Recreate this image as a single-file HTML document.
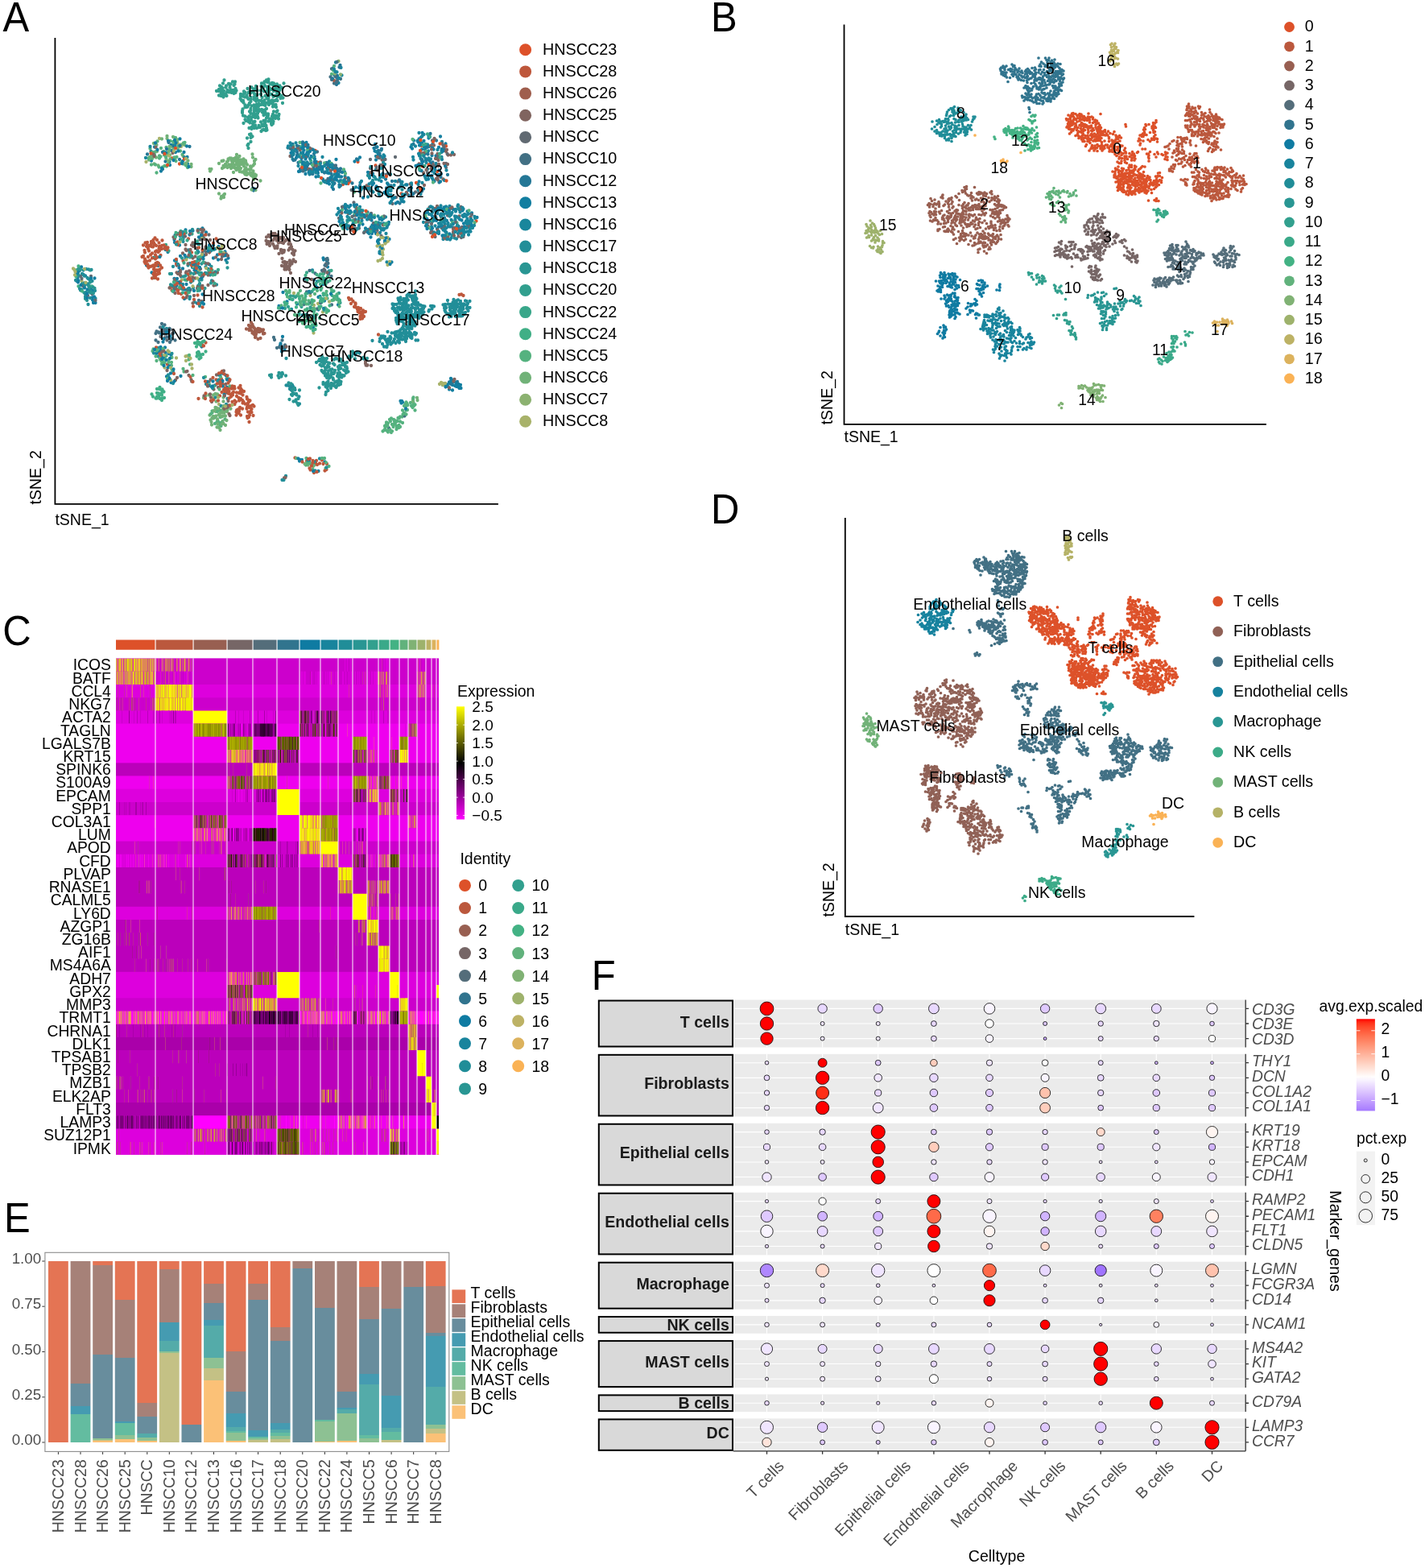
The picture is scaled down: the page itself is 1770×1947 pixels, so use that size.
<!DOCTYPE html>
<html lang="en"><head><meta charset="utf-8"><title>Figure</title>
<style>
html,body{margin:0;padding:0;background:#fff;overflow:hidden}
svg{display:block}
text{font-family:"Liberation Sans", sans-serif}
</style></head><body>
<svg width="1770" height="1947" viewBox="0 0 1770 1947">
<rect width="1770" height="1947" fill="#fff"/>
<g id="pB"><path d="M1048.5 31.5V526.8H1572" fill="none" stroke="#000" stroke-width="1.8" stroke-linecap="square"/><text x="1048.5" y="548.9" font-size="19.5" text-anchor="start" fill="#000">tSNE_1</text><text transform="translate(1033.7 527.3) rotate(-90)" font-size="19.5">tSNE_2</text><path transform="scale(.5)" d="M2649 295h0m1 3h0m0 18h0m2-3h0m1-6h0m1-21h0m1 10h0m0 7h0m0 17h0m1-4h0m1-8h0m0 24h0m1-18h0m0 7h0m1-30h0m0 5h0m2-10h0m0 15h0m0 10h0m0 17h0m1-23h0m0 16h0m1-39h0m0 7h0m1 21h0m1-24h0m1-5h0m0 22h0m0 21h0m1-34h0m0 7h0m1 10h0m0 13h0m2-26h0m1 20h0m1-31h0m0 24h0m0 30h0m1-40h0m0 14h0m1 5h0m1 7h0m1-36h0m0 15h0m1-9h0m0 40h0m1-16h0m0 12h0m1-43h0m0 40h0m0 11h0m1 6h0m1-50h0m1-10h0m0 17h0m0 11h0m1-23h0m0 8h0m1-5h0m0 36h0m0 13h0m1-31h0m0 10h0m1-35h0m0 30h0m1-9h0m0 18h0m0 6h0m0 17h0m1-49h0m0 14h0m0 28h0m1-51h0m0 48h0m1 15h0m1-58h0m0 15h0m0 13h0m0 5h0m0 7h0m0 14h0m1-4h0m1-54h0m0 26h0m1-16h0m0 52h0m1-59h0m0 4h0m0 13h0m0 3h0m0 11h0m1 14h0m0 5h0m1-27h0m0 48h0m1-69h0m1 17h0m0 48h0m2-60h0m0 45h0m1-27h0m0 20h0m0 10h0m0 4h0m1-61h0m0 6h0m0 26h0m0 8h0m0 11h0m1-59h0m0 32h0m0 13h0m2-32h0m0 54h0m0 25h0m1-83h0m0 7h0m0 6h0m0 10h0m0 3h0m0 28h0m1 10h0m1-19h0m1 11h0m0 22h0m1-57h0m0 4h0m0 8h0m0 9h0m1-43h0m0 75h0m1-39h0m0 16h0m0 19h0m1-27h0m0 4h0m0 30h0m1-76h0m0 4h0m0 9h0m0 14h0m1 31h0m1-27h0m0 44h0m1-64h0m0 71h0m1-42h0m0 7h0m1 7h0m0 16h0m1-64h0m0 71h0m1-66h0m0 7h0m0 6h0m0 19h0m0 15h0m1-11h0m1-32h0m0 13h0m1-20h0m0 45h0m0 22h0m1-42h0m0 17h0m0 17h0m0 16h0m1-44h0m0 7h0m0 11h0m1 13h0m1-56h0m0 9h0m1 4h0m0 3h0m0 6h0m0 8h0m1 10h0m1-35h0m0 29h0m0 23h0m1-41h0m0 13h0m0 14h0m1-66h0m0 47h0m0 39h0m1-52h0m1 9h0m0 17h0m1-8h0m0 18h0m0 6h0m0 6h0m1 9h0m2-45h0m1-3h0m0 44h0m1-35h0m1 28h0m1-13h0m0 18h0m1-45h0m0 4h0m1 9h0m1 24h0m2-28h0m2 28h0m1-24h0m0 30h0m1-40h0m2 15h0m0 3h0m0 7h0m0 17h0m1 8h0m1-3h0m1-42h0m0 32h0m3-4h0m1-11h0m0 25h0m0 3h0m1-12h0m1-11h0m0 5h0m0 12h0m0 56h0m1-93h0m0 44h0m1-27h0m2-23h0m0 27h0m0 7h0m0 74h0m0 5h0m1-73h0m0 10h0m1-25h0m0 12h0m0 19h0m0 44h0m0 5h0m1-14h0m1-82h0m0 10h0m0 27h0m0 49h0m0 16h0m0 14h0m1-112h0m1 47h0m0 56h0m2-90h0m0 49h0m0 19h0m0 19h0m0 25h0m1-125h0m0 5h0m0 20h0m0 4h0m0 81h0m0 23h0m1-59h0m0 48h0m1-87h0m0 7h0m0 41h0m0 5h0m0 8h0m0 10h0m0 8h0m0 5h0m0 9h0m1-127h0m0 53h0m0 11h0m1-68h0m0 53h0m0 43h0m0 31h0m1-114h0m0 88h0m0 23h0m1-100h0m0 3h0m0 61h0m0 26h0m0 4h0m1-77h0m0 67h0m0 20h0m0 6h0m1-129h0m0 63h0m0 30h0m1-50h0m0 15h0m0 50h0m1-57h0m0 25h0m0 12h0m0 28h0m1-96h0m0 77h0m0 4h0m0 3h0m0 29h0m1-51h0m0 43h0m1-86h0m0 55h0m1-17h0m0 13h0m0 21h0m0 5h0m0 6h0m0 7h0m0 6h0m1-38h0m1-66h0m0 101h0m1-86h0m0 5h0m0 5h0m0 46h0m0 7h0m1-83h0m0 35h0m0 27h0m0 24h0m1-145h0m0 68h0m0 57h0m1-120h0m0 66h0m0 59h0m0 38h0m1-89h0m0 4h0m0 31h0m0 59h0m1-77h0m0 25h0m0 16h0m1 9h0m1-60h0m0 44h0m0 12h0m0 15h0m0 8h0m1-44h0m1 16h0m0 15h0m0 23h0m1-68h0m0 5h0m0 37h0m1-25h0m0 6h0m0 41h0m1-99h0m0 8h0m0 21h0m0 33h0m1-29h0m0 12h0m0 4h0m0 21h0m0 9h0m0 4h0m0 6h0m0 6h0m1-40h0m0 11h0m2-23h0m0 5h0m0 37h0m0 14h0m1-94h0m0 12h0m0 12h0m0 5h0m0 27h0m0 34h0m1-90h0m0 7h0m0 57h0m0 33h0m1-106h0m0 6h0m0 70h0m0 5h0m1-21h0m1 38h0m1-93h0m0 4h0m0 36h0m0 3h0m0 6h0m0 29h0m1-78h0m0 64h0m0 7h0m0 26h0m1-88h0m0 7h0m1-11h0m0 25h0m0 6h0m0 42h0m1-66h0m0 27h0m0 13h0m0 8h0m0 28h0m0 5h0m0 7h0m1-34h0m0 7h0m0 9h0m1-50h0m0 45h0m1-8h0m1-16h0m1-56h0m0 82h0m0 10h0m1-22h0m1-72h0m0 48h0m0 16h0m0 33h0m1-124h0m0 105h0m1-34h0m0 46h0m1-123h0m0 86h0m0 6h0m0 8h0m0 34h0m1-38h0m0 19h0m1-123h0m0 24h0m0 59h0m0 50h0m1-121h0m0 8h0m0 94h0m1-18h0m0 30h0m0 11h0m1-57h0m1-81h0m0 103h0m0 16h0m0 5h0m0 16h0m1-136h0m0 105h0m0 22h0m1-96h0m0 43h0m1-81h0m0 102h0m1-95h0m0 11h0m0 88h0m0 13h0m0 18h0m0 4h0m1-151h0m0 105h0m0 18h0m0 10h0m0 9h0m1-129h0m1-18h0m0 11h0m0 109h0m1-104h0m0 81h0m0 37h0m0 9h0m0 9h0m0 5h0m0 4h0m1-157h0m0 49h0m1-61h0m0 157h0m1-154h0m0 133h0m0 10h0m1-120h0m0 117h0m0 7h0m0 14h0m0 7h0m1-98h0m0 60h0m0 7h0m0 28h0m1-14h0m1-26h0m1-90h0m0 127h0m1-92h0m0 8h0m0 108h0m1-189h0m0 77h0m0 7h0m0 7h0m0 43h0m0 24h0m1-21h0m0 16h0m1-22h0m0 16h0m1-127h0m0 22h0m0 26h0m1 70h0m1 6h0m1 18h0m0 0h0m1-127h0m0 3h0m0 111h0m0 21h0m1-165h0m0 4h0m1 136h0m2-149h0m0 6h0m0 10h0m0 3h0m0 136h0m1-143h0m0 12h0m0 126h0m1-116h0m0 4h0m0 4h0m0 102h0m0 20h0m1-86h0m0 114h0m1-191h0m0 8h0m0 13h0m1 8h0m1-18h0m0 121h0m0 13h0m0 7h0m0 7h0m1-166h0m0 4h0m0 41h0m0 46h0m0 109h0m1-54h0m0 48h0m1-53h0m0 15h0m0 7h0m1-117h0m0 7h0m0 26h0m0 72h0m1-13h0m1-55h0m0 48h0m1 20h0m0 49h0m1-40h0m2-30h0m0 8h0m0 10h0m4 1h0m0 5h0m1-70h0m1 58h0m2-56h0m5 10h0m1-17h0m1 5h0m0 6h0m4-9h0m0 10h0m0 7h0" stroke="#DD5129" stroke-width="7.4" stroke-linecap="round" fill="none"/><path transform="scale(.5)" d="M2894 365h0m4-1h0m4-2h0m2 8h0m1 50h0m0 4h0m1-67h0m3 67h0m1-10h0m0 3h0m2-66h0m0 39h0m1 36h0m1-46h0m1 29h0m1-60h0m0 70h0m1-45h0m1 4h0m0 35h0m1-4h0m2-12h0m2-28h0m0 17h0m1-33h0m0 8h0m0 11h0m0 27h0m1-49h0m0 25h0m1-34h0m0 17h0m1 11h0m0 14h0m1-20h0m0 12h0m0 32h0m1-27h0m0 14h0m3-37h0m0 21h0m1-37h0m1 54h0m0 11h0m0 40h0m1-100h0m1 12h0m0 23h0m0 21h0m1-50h0m0 12h0m0 8h0m1 21h0m1-49h0m0 70h0m1 34h0m1-97h0m0 25h0m0 5h0m0 10h0m1-44h0m1-4h0m0 54h0m1 14h0m0 34h0m1-158h0m0 12h0m0 13h0m0 141h0m0 5h0m1-142h0m0 38h0m0 33h0m1-103h0m0 172h0m1-183h0m0 69h0m0 118h0m1-196h0m0 6h0m0 11h0m0 64h0m0 58h0m1-118h0m0 14h0m0 13h0m0 6h0m0 128h0m1-49h0m1-75h0m1-64h0m0 23h0m0 7h0m0 39h0m1-63h0m0 4h0m0 8h0m0 132h0m1-123h0m0 12h0m0 94h0m1-102h0m0 65h0m0 28h0m1-67h0m0 34h0m0 48h0m0 13h0m1-127h0m0 19h0m0 9h0m0 12h0m0 37h0m1-88h0m0 133h0m0 9h0m1-137h0m0 30h0m0 86h0m1-98h0m0 28h0m0 10h0m0 4h0m0 53h0m0 9h0m0 29h0m1-162h0m0 19h0m0 42h0m1 112h0m1-44h0m0 63h0m1-189h0m0 9h0m0 10h0m0 40h0m0 73h0m1-108h0m0 17h0m0 27h0m0 48h0m0 43h0m0 25h0m0 4h0m0 10h0m0 5h0m1-191h0m0 22h0m0 101h0m0 35h0m1-125h0m0 67h0m0 68h0m1-181h0m0 27h0m0 33h0m0 5h0m0 135h0m0 7h0m1-200h0m0 13h0m0 22h0m0 81h0m0 50h0m1-163h0m0 84h0m0 59h0m1-40h0m0 19h0m1-102h0m0 5h0m0 24h0m0 137h0m1-173h0m0 4h0m0 13h0m0 80h0m0 48h0m0 8h0m0 28h0m0 5h0m1-195h0m0 56h0m0 62h0m0 57h0m1-127h0m0 62h0m0 12h0m0 22h0m0 21h0m0 15h0m1-198h0m0 69h0m0 118h0m0 29h0m1-182h0m0 24h0m0 4h0m0 108h0m0 21h0m1-186h0m0 45h0m0 114h0m0 11h0m0 27h0m1-170h0m0 13h0m0 164h0m1-208h0m0 36h0m0 18h0m1-4h0m0 20h0m0 119h0m0 23h0m0 5h0m1-24h0m0 5h0m1-170h0m0 52h0m0 97h0m0 27h0m1-190h0m0 7h0m0 40h0m0 4h0m1 6h0m0 85h0m0 34h0m0 29h0m1-19h0m0 7h0m0 5h0m1-168h0m0 4h0m0 144h0m1-163h0m0 31h0m0 9h0m0 12h0m0 7h0m0 72h0m0 44h0m1-185h0m0 13h0m0 19h0m0 139h0m0 5h0m0 18h0m1-167h0m0 124h0m0 8h0m1-154h0m0 14h0m1 28h0m0 12h0m0 84h0m1-146h0m0 55h0m0 14h0m0 137h0m1-69h0m0 34h0m0 27h0m1-161h0m0 103h0m0 39h0m1-170h0m0 22h0m0 11h0m0 9h0m0 17h0m0 89h0m0 8h0m0 19h0m0 8h0m0 11h0m1-183h0m0 14h0m0 26h0m0 13h0m0 88h0m0 14h0m1-163h0m0 15h0m0 121h0m0 51h0m1-169h0m0 175h0m1-187h0m0 19h0m0 6h0m0 12h0m0 39h0m0 49h0m0 34h0m0 8h0m1-179h0m0 8h0m0 35h0m0 27h0m1-13h0m0 9h0m0 17h0m0 60h0m0 13h0m0 10h0m0 19h0m1-35h0m0 25h0m0 18h0m1-208h0m0 19h0m0 9h0m0 28h0m0 122h0m0 16h0m0 10h0m1-197h0m0 36h0m0 5h0m0 15h0m0 32h0m0 89h0m1-159h0m0 190h0m0 5h0m1-154h0m1-32h0m0 126h0m0 7h0m1-155h0m0 46h0m0 5h0m0 24h0m0 102h0m0 9h0m0 5h0m0 24h0m1-211h0m0 23h0m0 45h0m0 21h0m0 77h0m1-30h0m1-107h0m0 54h0m0 113h0m0 7h0m1-202h0m0 4h0m0 6h0m0 10h0m0 18h0m0 149h0m0 18h0m1-137h0m0 6h0m0 11h0m0 59h0m0 28h0m1-122h0m0 131h0m0 16h0m1-174h0m0 5h0m0 11h0m0 25h0m0 66h0m0 6h0m1-75h0m0 66h0m0 14h0m0 13h0m0 46h0m1-201h0m0 14h0m1-5h0m0 10h0m0 24h0m0 34h0m0 6h0m0 93h0m0 11h0m0 8h0m0 9h0m1-208h0m0 9h0m0 65h0m0 76h0m0 23h0m0 11h0m1-147h0m0 120h0m0 9h0m0 46h0m1-196h0m0 4h0m0 117h0m0 40h0m0 16h0m1-187h0m0 23h0m0 31h0m0 9h0m0 11h0m0 51h0m0 28h0m0 13h0m0 15h0m0 10h0m1-46h0m1-139h0m0 70h0m0 93h0m0 3h0m0 24h0m1-6h0m1-177h0m0 5h0m0 22h0m0 123h0m1-161h0m0 124h0m0 16h0m0 24h0m0 35h0m0 4h0m1-57h0m0 5h0m0 4h0m0 28h0m0 4h0m1-184h0m0 156h0m0 13h0m0 7h0m1-162h0m0 8h0m1-3h0m0 58h0m0 49h0m0 13h0m0 59h0m1-78h0m0 34h0m0 10h0m0 10h0m0 12h0m1-28h0m0 12h0m0 21h0m1-189h0m0 12h0m2 7h0m0 103h0m0 27h0m0 11h0m0 6h0m0 3h0m0 27h0m1-182h0m0 124h0m1-13h0m0 5h0m0 53h0m1-172h0m0 180h0m1-72h0m0 20h0m0 25h0m2-36h0m0 45h0m0 17h0m1-47h0m1-10h0m0 28h0m0 6h0m0 11h0m1 13h0m2-68h0m0 65h0m1-51h0m0 19h0m1 14h0m0 4h0m0 4h0m0 3h0m1 11h0m1-59h0m1-3h0m0 57h0m1-47h0m3-20h0m0 23h0m0 29h0m1-9h0m1-33h0m0 21h0m1-26h0m0 20h0m0 10h0m0 10h0m1-24h0m0 18h0m1-31h0m2 25h0m0 11h0m1 3h0m1-29h0m2 14h0m0 12h0m1-20h0m0 29h0m1-36h0m0 21h0m1-24h0m2 18h0m0 24h0m2-32h0m3 12h0m1-16h0m0 22h0m1-9h0m2 26h0m1-34h0m0 28h0m1-20h0m2 8h0m0 9h0m2-31h0m0 9h0m2 6h0m0 4h0m1 4h0m4-2h0" stroke="#BB583D" stroke-width="7.4" stroke-linecap="round" fill="none"/><path transform="scale(.5)" d="M2305 509h0m3-4h0m0 24h0m1-18h0m0 3h0m1 11h0m0 10h0m1 13h0m1-55h0m0 14h0m0 32h0m1-12h0m2-28h0m1 32h0m0 19h0m2-37h0m1-5h0m0 38h0m1-12h0m1-9h0m1-29h0m0 9h0m0 25h0m0 17h0m2-29h0m0 23h0m1-15h0m0 7h0m1-25h0m2 39h0m2-42h0m0 51h0m0 14h0m0 3h0m1-22h0m1-50h0m1 4h0m0 3h0m0 5h0m0 13h0m1 43h0m1-39h0m2 26h0m1-66h0m1 33h0m2-36h0m0 53h0m0 4h0m1-60h0m0 8h0m1 44h0m0 28h0m1-53h0m0 32h0m1 12h0m1-21h0m0 14h0m0 26h0m1-66h0m0 55h0m2 12h0m1-75h0m0 54h0m2-13h0m1-16h0m0 46h0m1-34h0m1-32h0m0 41h0m0 5h0m0 17h0m0 7h0m1-80h0m1 4h0m0 9h0m0 6h0m0 15h0m0 42h0m1-78h0m0 45h0m0 4h0m1-21h0m2 9h0m1 9h0m0 22h0m1-66h0m0 40h0m0 40h0m1-84h0m0 15h0m0 48h0m1-6h0m1-47h0m0 15h0m0 53h0m0 8h0m1-48h0m0 22h0m0 13h0m1-51h0m1 32h0m0 37h0m0 13h0m1-25h0m1-30h0m1-16h0m0 30h0m1-18h0m0 9h0m1-58h0m0 55h0m0 17h0m0 33h0m1-44h0m1-27h0m0 5h0m0 4h0m1-40h0m0 55h0m0 16h0m0 44h0m2-83h0m0 16h0m2-7h0m0 44h0m1-94h0m0 28h0m1-12h0m0 93h0m1-36h0m0 44h0m1-52h0m0 4h0m1-18h0m0 3h0m0 6h0m0 53h0m1-13h0m0 4h0m0 5h0m1-53h0m0 15h0m0 8h0m1-27h0m0 61h0m1-121h0m0 38h0m0 68h0m1-102h0m0 40h0m0 11h0m0 13h0m0 6h0m0 26h0m1 14h0m1-80h0m0 16h0m0 8h0m0 19h0m0 16h0m0 13h0m1-41h0m1 59h0m1-132h0m0 38h0m0 11h0m0 66h0m0 4h0m1-112h0m0 3h0m0 49h0m0 22h0m0 8h0m0 33h0m2-107h0m0 36h0m0 41h0m0 37h0m1-69h0m0 7h0m0 8h0m0 41h0m0 3h0m1-121h0m0 6h0m0 41h0m1 8h0m0 40h0m0 5h0m1-79h0m1 26h0m1 36h0m0 11h0m1-71h0m0 19h0m0 79h0m0 23h0m1-90h0m0 5h0m0 13h0m1-3h0m0 8h0m0 21h0m3-76h0m0 37h0m0 35h0m0 21h0m0 20h0m1-106h0m0 23h0m0 38h0m1-74h0m0 55h0m1-47h0m0 99h0m1-88h0m1 13h0m0 45h0m0 54h0m1-94h0m0 5h0m0 15h0m0 12h0m1-58h0m1 102h0m1-29h0m0 46h0m1-144h0m0 49h0m0 19h0m0 17h0m0 38h0m0 15h0m1-94h0m0 82h0m1-95h0m0 62h0m1-13h0m0 24h0m0 15h0m0 22h0m1-87h0m0 21h0m1-46h0m0 16h0m1-30h0m0 36h0m1 51h0m0 11h0m1-33h0m1-62h0m0 36h0m0 85h0m0 16h0m0 7h0m1-130h0m0 57h0m0 5h0m0 35h0m1-117h0m0 30h0m0 4h0m0 22h0m0 67h0m1-49h0m0 31h0m0 7h0m1-107h0m0 32h0m0 29h0m0 60h0m0 15h0m1-99h0m0 46h0m1-87h0m0 122h0m1-108h0m0 89h0m1-80h0m0 33h0m0 53h0m0 4h0m1-78h0m1-33h0m0 44h0m0 29h0m0 30h0m1-86h0m0 107h0m1-111h0m0 23h0m0 58h0m0 19h0m0 17h0m1-124h0m0 44h0m0 57h0m1-105h0m0 28h0m0 92h0m0 12h0m1-111h0m0 17h0m0 104h0m1-146h0m0 56h0m0 14h0m0 31h0m0 14h0m0 17h0m1-24h0m0 17h0m1-92h0m1-24h0m0 18h0m0 24h0m0 39h0m0 24h0m0 20h0m2-131h0m0 16h0m0 58h0m0 74h0m1-40h0m1 19h0m2-45h0m0 17h0m0 11h0m1-100h0m0 105h0m0 23h0m1-52h0m0 16h0m1-82h0m0 113h0m1-50h0m0 32h0m1-118h0m0 43h0m0 64h0m0 33h0m1-82h0m0 25h0m0 42h0m1-53h0m0 4h0m1-79h0m0 22h0m0 67h0m0 34h0m0 10h0m1-126h0m0 9h0m0 93h0m0 17h0m1-71h0m0 30h0m1-67h0m0 28h0m0 4h0m0 62h0m0 9h0m1-57h0m0 42h0m1 9h0m1-24h0m0 5h0m0 30h0m1-108h0m1-5h0m0 9h0m0 10h0m0 20h0m0 5h0m1-13h0m0 23h0m0 17h0m1 7h0m0 22h0m0 5h0m1-83h0m0 95h0m1-114h0m1 34h0m0 5h0m0 43h0m1-73h0m0 84h0m0 17h0m1-92h0m0 7h0m0 18h0m0 4h0m1-51h0m0 63h0m0 48h0m1-103h0m0 34h0m0 59h0m1-84h0m0 4h0m0 25h0m0 60h0m1-53h0m1-42h0m0 14h0m0 11h0m0 47h0m1-24h0m0 17h0m0 10h0m1-44h0m0 20h0m1-27h0m0 34h0m0 27h0m1-74h0m0 85h0m2-81h0m0 40h0m2-43h0m0 11h0m0 25h0m0 21h0m1-5h0m1-9h0m1-5h0m1-36h0m0 4h0m0 44h0m2-4h0m1-12h0m0 9h0m1-38h0m3 20h0m0 10h0m1 6h0m1-11h0m0 19h0m1-11h0m1 14h0m2-18h0" stroke="#985F51" stroke-width="7.4" stroke-linecap="round" fill="none"/><path transform="scale(.5)" d="M2620 625h0m1-9h0m0 19h0m2-12h0m1 10h0m1-18h0m3 7h0m1-9h0m0 20h0m2-31h0m1 18h0m0 9h0m1-6h0m1 9h0m0 6h0m1-20h0m0 11h0m1-23h0m1-7h0m1 20h0m0 13h0m3-5h0m2 4h0m0 6h0m1-13h0m2 8h0m0 7h0m1-29h0m1 6h0m1 22h0m1-16h0m1-9h0m0 22h0m0 7h0m3-9h0m1 7h0m1-39h0m1 22h0m2-12h0m2-10h0m0 38h0m1-31h0m0 11h0m1 23h0m0 20h0m3-61h0m1 29h0m2-12h0m1-9h0m0 5h0m2-7h0m0 28h0m0 4h0m4-6h0m2 6h0m1-19h0m3-1h0m3 5h0m0 18h0m1-23h0m0 27h0m3-25h0m0 8h0m1 15h0m1-8h0m1-12h0m1 15h0m1-79h0m0 4h0m0 79h0m1-69h0m0 63h0m3-67h0m0 43h0m0 29h0m1-84h0m0 24h0m1 29h0m1-59h0m1 62h0m0 11h0m0 16h0m1-79h0m0 14h0m0 6h0m0 51h0m1-86h0m0 71h0m1-50h0m0 45h0m0 51h0m0 10h0m2-13h0m1-117h0m0 8h0m0 67h0m0 4h0m1-9h0m1 3h0m0 61h0m1-104h0m0 10h0m0 78h0m0 8h0m0 18h0m1-90h0m0 22h0m0 54h0m1-131h0m0 138h0m1-117h0m0 41h0m1-35h0m0 6h0m0 35h0m0 13h0m0 69h0m1-143h0m0 3h0m0 7h0m0 129h0m1-107h0m0 26h0m0 26h0m1-97h0m0 36h0m0 39h0m0 12h0m0 57h0m0 14h0m1-119h0m0 27h0m0 14h0m0 56h0m1-41h0m1 6h0m0 26h0m0 25h0m1-118h0m0 89h0m0 12h0m0 5h0m1-135h0m0 9h0m0 62h0m0 22h0m1-97h0m0 46h0m0 25h0m0 9h0m0 61h0m0 5h0m0 11h0m1-148h0m0 47h0m0 74h0m1-117h0m0 55h0m0 22h0m1-94h0m0 9h0m0 17h0m0 20h0m0 35h0m0 26h0m0 33h0m0 22h0m1-165h0m0 93h0m1-57h0m0 38h0m0 25h0m0 58h0m1-68h0m0 19h0m0 3h0m0 28h0m1-99h0m0 20h0m0 93h0m1-138h0m0 8h0m0 22h0m0 55h0m1-19h0m0 10h0m0 19h0m0 5h0m0 36h0m1-96h0m0 31h0m0 10h0m0 7h0m0 62h0m1-156h0m0 23h0m0 10h0m1 3h0m0 30h0m1-58h0m0 67h0m0 78h0m1-112h0m0 10h0m0 53h0m1-112h0m0 7h0m0 14h0m0 48h0m1-16h0m1-17h0m0 37h0m0 25h0m1-90h0m0 54h0m0 30h0m1-47h0m0 4h0m0 8h0m0 21h0m2-70h0m0 81h0m1-44h0m0 23h0m0 9h0m1-28h0m0 13h0m1-6h0m0 25h0m2-40h0m0 4h0m2 19h0m0 9h0m1-12h0m1-6h0m2-11h0m0 7h0m0 29h0m1-19h0m7 13h0m2-17h0m3-3h0m0 12h0m2 5h0m2-22h0m0 9h0m3-3h0m2-3h0m4 16h0m5-3h0m1 6h0m5-8h0m0 17h0m0 22h0m3-36h0m3 18h0m1 20h0m0 5h0m1-17h0m2 15h0m2-13h0m1 19h0m1-4h0m1-11h0m3 10h0m0 10h0m2-30h0m0 15h0m2-6h0m3 11h0m1-4h0m2 7h0m0 7h0m3 2h0m1-18h0m0 4h0m1 10h0" stroke="#766666" stroke-width="7.4" stroke-linecap="round" fill="none"/><path transform="scale(.5)" d="M2864 708h0m2-12h0m2-4h0m0 9h0m3-7h0m0 14h0m0 5h0m2-8h0m1-4h0m2-9h0m1 5h0m0 9h0m2 4h0m1-15h0m1-5h0m1 11h0m2-10h0m0 14h0m1 5h0m4-10h0m1-3h0m0 7h0m2-76h0m0 64h0m1 9h0m0 8h0m1-76h0m1 10h0m0 46h0m1 18h0m2-80h0m0 7h0m0 66h0m0 12h0m1-64h0m0 48h0m1-57h0m1 61h0m1-77h0m0 14h0m0 7h0m0 19h0m0 32h0m1-68h0m0 6h0m0 73h0m2-89h0m0 29h0m0 44h0m0 13h0m1-62h0m1-31h0m0 19h0m1-9h0m0 42h0m0 29h0m0 7h0m1-53h0m1-28h0m0 18h0m0 23h0m0 37h0m1-73h0m0 17h0m0 53h0m1-85h0m0 5h0m1 30h0m0 10h0m0 9h0m1-46h0m0 6h0m0 10h0m0 37h0m0 27h0m1-49h0m0 18h0m0 24h0m1-63h0m1 3h0m0 26h0m1 14h0m1-45h0m1 25h0m1-28h0m0 76h0m1-87h0m0 23h0m1-19h0m0 45h0m1-34h0m0 72h0m0 4h0m1-33h0m0 17h0m1-75h0m0 9h0m0 33h0m1 18h0m0 35h0m1-81h0m0 40h0m0 24h0m1-33h0m1-20h0m0 41h0m1-17h0m0 38h0m1-53h0m0 21h0m0 7h0m0 28h0m1-50h0m0 55h0m1-76h0m0 40h0m0 15h0m1-42h0m0 46h0m1-63h0m0 7h0m1-18h0m0 34h0m0 56h0m1-67h0m1 33h0m1-50h0m0 74h0m1-20h0m1-32h0m0 15h0m0 10h0m1-29h0m0 44h0m0 8h0m1-75h0m0 17h0m0 19h0m0 35h0m1-66h0m0 51h0m1-70h0m0 37h0m0 4h0m1-29h0m0 44h0m1-36h0m0 4h0m0 8h0m0 46h0m1-72h0m1 22h0m0 57h0m1-48h0m0 14h0m0 22h0m0 16h0m1-79h0m0 89h0m1-85h0m0 32h0m2-18h0m0 59h0m1-39h0m0 26h0m0 7h0m1-60h0m0 56h0m1-36h0m1 22h0m0 6h0m2-46h0m0 8h0m0 6h0m0 13h0m3-31h0m0 36h0m0 9h0m0 5h0m1-44h0m0 15h0m1 10h0m2-27h0m0 19h0m0 18h0m1-12h0m3-19h0m0 4h0m0 13h0m1-6h0m2 2h0m1-13h0m2-3h0m1 11h0m3 4h0m1-13h0m1 6h0m5-4h0m1 4h0m24-2h0m2 6h0m1 12h0m1-14h0m1 4h0m0 13h0m3-14h0m0 3h0m1 16h0m1-23h0m1 11h0m2-3h0m1-13h0m0 25h0m3-24h0m0 28h0m1-9h0m2-24h0m2 4h0m0 3h0m2-12h0m1 26h0m0 4h0m0 12h0m1-47h0m0 42h0m1-27h0m0 9h0m1-16h0m0 21h0m2-17h0m1-7h0m0 22h0m0 4h0m1-11h0m1-6h0m0 25h0m2-22h0m0 28h0m0 4h0m2-9h0m1-10h0m1 17h0m1-37h0m1 27h0m1-38h0m0 21h0m0 11h0m0 11h0m1-47h0m0 10h0m2 23h0m1-27h0m0 19h0m1-7h0m0 19h0m1 15h0m2-51h0m0 46h0m1-10h0m1-18h0m1-7h0m0 28h0m0 10h0m2-24h0m1-4h0m0 7h0m0 4h0m3-13h0m5 2h0" stroke="#546D7A" stroke-width="7.4" stroke-linecap="round" fill="none"/><path transform="scale(.5)" d="M2485 171h0m1 4h0m1-7h0m1 13h0m0 3h0m3-16h0m0 11h0m0 3h0m1-18h0m1 23h0m3-19h0m0 5h0m0 7h0m1 9h0m1-3h0m2-22h0m0 16h0m1 12h0m3 11h0m1-30h0m4 20h0m1-22h0m1 6h0m3-17h0m0 12h0m0 13h0m1-7h0m2-13h0m0 24h0m1-4h0m2-22h0m0 16h0m1-5h0m1-5h0m2 16h0m1-12h0m1 18h0m2-12h0m0 15h0m1-4h0m1-14h0m0 22h0m2-28h0m0 15h0m0 10h0m4-16h0m1 9h0m0 11h0m1-23h0m1 62h0m1-57h0m0 11h0m0 50h0m3-52h0m0 10h0m1 18h0m0 32h0m1-9h0m2-64h0m0 7h0m0 9h0m0 23h0m1-3h0m0 19h0m0 14h0m1-72h0m0 69h0m1-52h0m1-12h0m0 4h0m0 17h0m0 20h0m0 16h0m1-42h0m0 11h0m1-34h0m0 18h0m0 26h0m0 9h0m0 24h0m2-51h0m0 33h0m0 4h0m0 8h0m1-68h0m0 93h0m1-87h0m0 39h0m0 52h0m1-45h0m0 11h0m0 42h0m1-101h0m0 5h0m0 12h0m0 54h0m3-55h0m0 13h0m0 27h0m0 7h0m1-60h0m0 43h0m1-55h0m0 51h0m0 31h0m1-7h0m1-58h0m0 4h0m1 25h0m1 39h0m1-70h0m0 21h0m1-30h0m0 24h0m0 43h0m1-74h0m0 22h0m1 4h0m0 15h0m1-37h0m0 8h0m0 4h0m0 64h0m1-35h0m0 25h0m0 15h0m1-53h0m0 16h0m0 18h0m0 7h0m1-21h0m0 37h0m1-10h0m1-50h0m0 46h0m2-99h0m0 36h0m0 14h0m0 24h0m0 15h0m1-59h0m0 48h0m1-58h0m0 42h0m0 51h0m1-64h0m0 55h0m1-88h0m0 13h0m0 24h0m0 18h0m0 3h0m0 19h0m2-72h0m0 19h0m0 26h0m1-56h0m0 88h0m0 8h0m1-52h0m0 26h0m0 6h0m1-51h0m0 23h0m0 5h0m1-13h0m0 19h0m0 29h0m0 16h0m1-68h0m0 32h0m0 29h0m1-93h0m0 74h0m0 23h0m1-82h0m1 26h0m0 22h0m0 20h0m0 3h0m1-63h0m0 5h0m0 26h0m0 19h0m1-66h0m0 40h0m1-61h0m0 18h0m0 73h0m1-48h0m1 24h0m0 35h0m1-97h0m0 16h0m0 53h0m0 32h0m1-73h0m0 14h0m1-36h0m1 4h0m0 5h0m0 16h0m0 21h0m0 31h0m0 12h0m0 7h0m1-67h0m1-35h0m0 61h0m1-66h0m0 33h0m0 18h0m0 43h0m1-67h0m0 19h0m0 42h0m0 11h0m0 5h0m1-48h0m0 9h0m1-4h0m0 31h0m1-82h0m0 12h0m0 60h0m0 22h0m0 4h0m1-92h0m0 15h0m0 17h0m0 7h0m1 37h0m1-86h0m0 18h0m0 76h0m1-86h0m0 21h0m0 9h0m1-26h0m0 41h0m0 10h0m1 22h0m0 5h0m1-74h0m0 6h0m0 17h0m0 7h0m0 22h0m1-63h0m0 14h0m0 13h0m0 23h0m0 25h0m1-16h0m0 12h0m0 19h0m1-97h0m0 10h0m1 5h0m0 4h0m0 13h0m0 19h0m0 36h0m1-44h0m0 23h0m1-53h0m0 16h0m0 9h0m0 34h0m0 3h0m0 8h0m1-30h0m0 38h0m1-56h0m1 53h0m1-49h0m0 44h0m1-73h0m0 7h0m0 12h0m0 41h0m0 4h0m1-31h0m0 5h0m0 31h0m1 6h0m1-50h0m0 25h0m0 8h0m1-47h0m0 8h0m0 21h0m0 14h0m1-11h0m1-42h0m0 13h0m0 51h0m1-31h0m1-14h0m1 5h0m0 23h0m0 6h0m0 13h0m1-52h0m0 14h0m0 8h0m2 9h0m1-20h0m0 13h0m1-21h0m1 18h0" stroke="#31748E" stroke-width="7.4" stroke-linecap="round" fill="none"/><path transform="scale(.5)" d="M2325 698h0m3 24h0m1 107h0m1-119h0m1 14h0m1-5h0m0 106h0m1-127h0m0 124h0m2-138h0m0 18h0m0 14h0m1-27h0m0 23h0m0 101h0m0 21h0m1-157h0m0 27h0m0 16h0m0 5h0m1-28h0m0 45h0m1-62h0m1 21h0m1 6h0m0 6h0m1 113h0m0 14h0m1-153h0m0 3h0m0 13h0m1-20h0m0 12h0m0 113h0m0 29h0m1-24h0m0 7h0m0 11h0m1-154h0m0 57h0m0 8h0m1-49h0m0 4h0m0 130h0m0 10h0m1-149h0m0 50h0m0 84h0m1-139h0m0 71h0m0 58h0m1-117h0m0 8h0m1 44h0m0 13h0m0 58h0m1-66h0m1-53h0m0 33h0m1-21h0m0 33h0m1-53h0m0 58h0m1-69h0m0 54h0m0 25h0m1-18h0m1-55h0m0 77h0m0 19h0m1-79h0m0 3h0m0 5h0m0 63h0m0 3h0m0 11h0m1-55h0m0 38h0m1-82h0m0 57h0m0 34h0m1-99h0m0 12h0m0 6h0m0 14h0m0 23h0m0 50h0m1-54h0m0 10h0m0 23h0m1-57h0m0 49h0m0 4h0m0 11h0m0 4h0m1-62h0m0 34h0m0 20h0m1-89h0m0 4h0m1 19h0m0 26h0m0 54h0m1-84h0m0 56h0m0 5h0m0 14h0m1-86h0m0 3h0m0 4h0m0 12h0m2 31h0m0 29h0m1-86h0m0 39h0m0 9h0m0 6h0m0 14h0m0 6h0m0 27h0m0 10h0m1-90h0m0 58h0m0 10h0m0 7h0m1-90h0m0 8h0m0 17h0m0 28h0m0 23h0m0 25h0m1-40h0m1-39h0m1 8h0m0 25h0m0 28h0m1-81h0m0 67h0m0 21h0m1-31h0m0 6h0m0 8h0m1-20h0m0 39h0m1-69h0m1 4h0m0 40h0m2 27h0m1-85h0m15 71h0m4-4h0m0 19h0m1-28h0m4 17h0m1 6h0m1-16h0m1-5h0m2 3h0m0 13h0m3 1h0m2-18h0m3-11h0m1 10h0m0 5h0m0 23h0m2-3h0m0 12h0m1-73h0m0 30h0m1-42h0m0 51h0m1 23h0m1-72h0m1 10h0m0 65h0m1-85h0m1 26h0m1-3h0m1-12h0m0 23h0m1-3h0m2-32h0m0 21h0m0 14h0m1-11h0m1-19h0m0 35h0m1-20h0m1-19h0m0 15h0m1-4h0m1 10h0m0 9h0m3-25h0m0 4h0m1 7h0m6-3h0m23 10h0m7-10h0m0 11h0m1-15h0m0 8h0" stroke="#0F7BA2" stroke-width="7.4" stroke-linecap="round" fill="none"/><path transform="scale(.5)" d="M2433 782h0m3 35h0m5-6h0m1-4h0m0 8h0m1-12h0m0 17h0m1-21h0m1-4h0m0 14h0m0 7h0m1-34h0m0 5h0m1 14h0m0 5h0m2 10h0m2-34h0m0 25h0m1-20h0m0 35h0m1 7h0m1-46h0m0 13h0m0 29h0m2-10h0m0 5h0m1-32h0m1-3h0m0 12h0m0 27h0m1-7h0m0 11h0m1 6h0m1 4h0m1-44h0m1 34h0m1-43h0m0 12h0m0 23h0m1-18h0m0 11h0m1-33h0m0 14h0m0 14h0m0 36h0m1 24h0m1-86h0m0 7h0m0 31h0m0 16h0m1 39h0m1-72h0m0 25h0m0 41h0m1-21h0m1-23h0m0 35h0m1-66h0m0 7h0m0 30h0m0 24h0m0 11h0m1-85h0m0 46h0m0 16h0m1-58h0m0 22h0m0 8h0m0 31h0m1-72h0m0 77h0m1-28h0m0 37h0m1-65h0m0 8h0m1-36h0m0 44h0m2 33h0m1-80h0m0 5h0m0 9h0m0 5h0m0 7h0m0 14h0m0 27h0m0 24h0m0 23h0m1-13h0m0 25h0m1-109h0m0 30h0m0 70h0m1-93h0m0 40h0m0 11h0m0 7h0m0 39h0m1-108h0m0 59h0m1-39h0m0 46h0m0 19h0m1-76h0m0 67h0m0 19h0m1 10h0m1-48h0m0 12h0m1-40h0m1-34h0m0 15h0m1 44h0m0 13h0m1-35h0m0 27h0m0 18h0m1-58h0m0 7h0m0 80h0m1-101h0m0 7h0m0 17h0m0 42h0m0 14h0m0 5h0m0 29h0m1-75h0m0 57h0m2-88h0m0 12h0m0 58h0m0 9h0m0 14h0m1-33h0m0 24h0m1-64h0m0 15h0m0 15h0m0 48h0m1-82h0m0 65h0m1-55h0m0 61h0m1-88h0m0 61h0m1-52h0m0 5h0m1-11h0m0 49h0m1-8h0m2-7h0m1-13h0m0 31h0m0 33h0m1-77h0m0 19h0m0 14h0m1 6h0m0 10h0m0 31h0m1-69h0m0 3h0m0 10h0m0 45h0m0 3h0m1-69h0m0 60h0m1-45h0m0 12h0m0 21h0m1 9h0m1-33h0m1 7h0m1-10h0m1-4h0m0 27h0m3-8h0m2 13h0m3-33h0m0 42h0m1-30h0m0 38h0m1-45h0m3-11h0m0 16h0m0 19h0m0 5h0m1-37h0m0 6h0m0 39h0m2-31h0m1 3h0m3 21h0m1-17h0m0 31h0m2-16h0m1 13h0m4-23h0m2-4h0m0 30h0m1-6h0m3-26h0m0 15h0m1-20h0m3-2h0m0 23h0m0 11h0m1-22h0m0 16h0m1-20h0m2 11h0m0 17h0m1-26h0m0 13h0m0 4h0m4-2h0m2-4h0" stroke="#18849D" stroke-width="7.4" stroke-linecap="round" fill="none"/><path transform="scale(.5)" d="M2315 320h0m1-18h0m6 13h0m0 11h0m5-26h0m0 23h0m0 8h0m1-22h0m1 19h0m3-24h0m0 25h0m1-32h0m1 36h0m1-27h0m0 31h0m2-35h0m0 14h0m1 13h0m1-21h0m0 5h0m0 21h0m1 4h0m2-37h0m0 25h0m1 9h0m2-32h0m1 17h0m1 14h0m0 4h0m0 5h0m1-44h0m0 28h0m1-32h0m0 17h0m1-10h0m0 16h0m0 5h0m1-36h0m0 47h0m0 14h0m1-65h0m0 45h0m1-50h0m0 29h0m1 17h0m0 22h0m1-51h0m0 8h0m0 31h0m1-36h0m1-25h0m0 41h0m0 30h0m0 4h0m1-42h0m1-17h0m0 29h0m1 3h0m0 12h0m2-64h0m0 18h0m0 27h0m0 24h0m1-21h0m1-12h0m0 38h0m0 8h0m1-79h0m0 63h0m1-57h0m0 31h0m1-34h0m0 51h0m1-58h0m1 14h0m0 5h0m0 43h0m0 8h0m1-64h0m0 21h0m0 40h0m1-70h0m0 13h0m0 45h0m1-11h0m0 5h0m1-13h0m1-22h0m0 15h0m0 42h0m1-20h0m0 5h0m0 5h0m1-15h0m2-34h0m1 22h0m0 18h0m1-52h0m0 6h0m1 58h0m1-55h0m0 21h0m0 5h0m0 8h0m1 9h0m1-47h0m2 23h0m0 33h0m1-55h0m0 51h0m1-35h0m1 12h0m0 18h0m1-26h0m1 14h0m1 5h0m1-13h0m0 20h0m1-41h0m0 13h0m1-4h0m0 40h0m1-30h0m0 18h0m1 9h0m1-30h0m0 26h0m0 9h0m0 6h0m1-48h0m1-4h0m0 32h0m1-18h0m0 26h0m1-31h0m0 27h0m0 13h0m1-6h0m2-30h0m0 14h0m1 9h0m3-3h0m3-6h0m1 11h0m2-20h0m2-5h0m1-7h0m2 4h0m2-4h0" stroke="#208D98" stroke-width="7.4" stroke-linecap="round" fill="none"/><path transform="scale(.5)" d="M2702 739h0m1-6h0m8 1h0m4-1h0m4-3h0m0 20h0m2-11h0m0 6h0m4-3h0m0 7h0m0 8h0m2-31h0m1 17h0m1 23h0m1-7h0m3 7h0m0 37h0m1-56h0m0 9h0m0 5h0m1-10h0m0 28h0m1-41h0m0 4h0m0 31h0m1-46h0m0 33h0m0 4h0m0 27h0m1-40h0m0 50h0m0 8h0m1-33h0m0 43h0m1-55h0m0 9h0m0 40h0m1-87h0m0 57h0m0 27h0m1-52h0m1-23h0m0 39h0m0 17h0m0 14h0m2-45h0m0 39h0m0 9h0m1-22h0m1-11h0m0 5h0m1-50h0m0 38h0m1-6h0m0 53h0m0 4h0m1-22h0m1-47h0m0 4h0m0 4h0m0 8h0m0 42h0m3-43h0m0 38h0m1-48h0m2 33h0m0 9h0m1 5h0m1-44h0m1 4h0m1 35h0m0 6h0m2-13h0m0 4h0m1-9h0m0 16h0m0 4h0m1-37h0m2-6h0m1-45h0m0 56h0m0 18h0m0 8h0m1-45h0m2 13h0m0 16h0m0 7h0m1-28h0m1-46h0m3 52h0m0 8h0m2-22h0m0 28h0m4-35h0m1 13h0m1-7h0m2 16h0m2-18h0m0 16h0m3-7h0m1-5h0m2-8h0m1-4h0m2 7h0m2-3h0m8 0h0m4-1h0m6-11h0m0 14h0m2-3h0m1-8h0m1 4h0m2 11h0m4-11h0m1 5h0m1 6h0m1-15h0m2 10h0m2 11h0" stroke="#299693" stroke-width="7.4" stroke-linecap="round" fill="none"/><path transform="scale(.5)" d="M2555 677h0m1 5h0m3-3h0m4 0h0m0 9h0m4 6h0m8-10h0m0 22h0m1-16h0m2-8h0m3 19h0m1-12h0m0 7h0m3 3h0m4-14h0m0 7h0m0 12h0m1-6h0m2-11h0m1 11h0m1-7h0m3 7h0m20 85h0m2-75h0m2 8h0m1-5h0m1 11h0m2 69h0m2-65h0m0 56h0m1-60h0m3 60h0m1-68h0m1 8h0m2 2h0m1-14h0m2 18h0m4 54h0m2-3h0m1 16h0m2-52h0m1 34h0m0 5h0m2 14h0m1 7h0m1-4h0m4 6h0m0 16h0m2-22h0m2 26h0m0 6h0m1-3h0m1-7h0m1-10h0m2 4h0m2 16h0m3-4h0m1 4h0m0 4h0m2 3h0m0 4h0" stroke="#32A08E" stroke-width="7.4" stroke-linecap="round" fill="none"/><path transform="scale(.5)" d="M2866 521h0m6 1h0m1 6h0m1 6h0m0 16h0m1-27h0m2-4h0m0 10h0m0 17h0m0 346h0m2 7h0m1-377h0m0 368h0m1 12h0m2-373h0m0 4h0m2 361h0m1 10h0m1-367h0m1 360h0m2-365h0m1-7h0m0 14h0m0 347h0m2-357h0m1 5h0m1-10h0m0 371h0m1-6h0m1-357h0m1 345h0m1-350h0m0 363h0m1-360h0m0 364h0m0 5h0m2-15h0m0 6h0m1 6h0m1-22h0m1 12h0m1-5h0m1 12h0m2-19h0m0 13h0m1-25h0m0 19h0m0 10h0m1-56h0m0 5h0m0 13h0m2 19h0m0 16h0m1-45h0m0 5h0m0 20h0m1-7h0m1-26h0m0 18h0m2 19h0m1-24h0m1-9h0m2-4h0m1 7h0m1-4h0m0 24h0m10-8h0m9-4h0m1-27h0m1 32h0m0 3h0m1-26h0m4-2h0m3 4h0m2-9h0m7 1h0" stroke="#3AA989" stroke-width="7.4" stroke-linecap="round" fill="none"/><path transform="scale(.5)" d="M2470 340h0m2 5h0m22-23h0m0 4h0m2 3h0m1-5h0m1-5h0m2 10h0m1 6h0m2-11h0m1-3h0m1-7h0m1 3h0m2 6h0m0 4h0m1 4h0m4-4h0m0 6h0m1-10h0m1 8h0m1 5h0m0 6h0m2-17h0m2-2h0m0 5h0m0 8h0m2-4h0m0 4h0m1-17h0m2 10h0m2-3h0m0 6h0m1-14h0m0 18h0m0 3h0m0 5h0m3 1h0m1-14h0m1 9h0m0 8h0m1-20h0m1-10h0m0 15h0m2-4h0m0 19h0m1-28h0m0 5h0m1 20h0m1-13h0m0 22h0m1-13h0m1-28h0m0 14h0m2-7h0m1 9h0m0 9h0m0 18h0m1 18h0m1-16h0m1-41h0m0 17h0m1-13h0m0 17h0m2 24h0m1-44h0m0 3h0m0 15h0m0 12h0m2 23h0m1-26h0m0 14h0m1-62h0m0 25h0m0 8h0m0 4h0m2-8h0m1-27h0m0 43h0m0 22h0m1 6h0m1-9h0m0 13h0m1-85h0m0 34h0m0 30h0m1-51h0m0 28h0m0 15h0m0 20h0m1-59h0m0 13h0m1 52h0m1-85h0m0 81h0m1-66h0m1 62h0m1-39h0m0 45h0m1-80h0m0 60h0m0 5h0m0 6h0m1-61h0m0 42h0m0 23h0m1-78h0m1 64h0m1-16h0m1-18h0m0 39h0m2-24h0m0 8h0m0 9h0m0 20h0m1-9h0m1-4h0m2 12h0" stroke="#43B284" stroke-width="7.4" stroke-linecap="round" fill="none"/><path transform="scale(.5)" d="M2599 490h0m3-9h0m3 2h0m0 5h0m2-11h0m0 17h0m1-13h0m0 6h0m1 19h0m2-20h0m0 9h0m1-19h0m2 14h0m0 19h0m1-3h0m1-32h0m2-7h0m0 12h0m1 32h0m4-29h0m1-7h0m1 28h0m4-19h0m0 16h0m1-26h0m0 4h0m1 53h0m2-41h0m1-11h0m0 56h0m2 16h0m2-49h0m1-27h0m0 64h0m2 7h0m1-73h0m2 3h0m0 33h0m0 34h0m1-6h0m1-20h0m0 5h0m0 26h0m1 4h0m1-9h0m1-33h0m0 4h0m2-36h0m0 42h0m1-45h0m2 53h0m1-40h0m0 20h0m0 16h0m3-43h0m3 5h0m5-2h0m1-6h0m0 3h0m5-8h0m2 13h0" stroke="#61B27C" stroke-width="7.4" stroke-linecap="round" fill="none"/><path transform="scale(.5)" d="M2631 1006h0m5-5h0m1 12h0m2-10h0m41-44h0m0 5h0m4-1h0m3-6h0m3 8h0m2-6h0m3-1h0m4 4h0m3 7h0m2 3h0m1-8h0m2 10h0m1-6h0m1-4h0m1 14h0m0 3h0m2-14h0m2-5h0m0 11h0m2 3h0m0 9h0m1-32h0m1 4h0m0 23h0m1-11h0m1 3h0m3-16h0m0 32h0m1-20h0m1 10h0m0 15h0m1-8h0m0 4h0m1-15h0m1-6h0m1-13h0m0 33h0m1-16h0m0 22h0m1-17h0m2-8h0m0 28h0m1-40h0m0 33h0m1-28h0m1 5h0m0 19h0m2-29h0m1 12h0m0 13h0m1 15h0m3-39h0m3 29h0" stroke="#80B274" stroke-width="7.4" stroke-linecap="round" fill="none"/><path transform="scale(.5)" d="M2150 579h0m2-22h0m0 16h0m1 17h0m1-28h0m0 16h0m2 11h0m1-20h0m0 5h0m1 11h0m1-19h0m0 23h0m2 22h0m1-63h0m0 19h0m1-8h0m0 16h0m2-12h0m0 7h0m0 8h0m0 6h0m0 14h0m0 17h0m2-61h0m1 42h0m1-22h0m0 19h0m0 23h0m1-3h0m1-56h0m0 32h0m1-11h0m1-17h0m0 11h0m1 24h0m0 6h0m1-36h0m0 19h0m2-13h0m0 5h0m0 20h0m1 25h0m2-47h0m0 15h0m0 35h0m1-13h0m0 7h0m1-39h0m1 14h0m0 4h0m2-15h0m0 37h0m1 7h0m1-54h0m0 42h0m1 14h0m1-9h0m2-39h0m0 32h0m1-4h0m0 16h0m1-26h0m0 4h0m3 0h0" stroke="#9EB26C" stroke-width="7.4" stroke-linecap="round" fill="none"/><path transform="scale(.5)" d="M2757 130h0m0 22h0m1-5h0m1-36h0m0 25h0m2-19h0m0 7h0m0 18h0m0 6h0m1-40h0m0 19h0m1 7h0m2 6h0m0 10h0m2-35h0m0 8h0m0 4h0m0 33h0m1-48h0m0 23h0m1 6h0m0 4h0m0 20h0m1-57h0m0 10h0m1 14h0m1-11h0m0 23h0m1-27h0m0 41h0m3-30h0m0 33h0m1-30h0m0 15h0m1-21h0m1 33h0" stroke="#BDB265" stroke-width="7.4" stroke-linecap="round" fill="none"/><path transform="scale(.5)" d="M3013 802h0m4-4h0m2 5h0m2 5h0m2-8h0m1 23h0m3-15h0m3-8h0m6 5h0m1-13h0m0 6h0m2-3h0m1 8h0m2-4h0m1-3h0m2 4h0m1 5h0m2 4h0m1-15h0m1 11h0m1-7h0m1 4h0m7-4h0m2 5h0" stroke="#DCB25D" stroke-width="7.4" stroke-linecap="round" fill="none"/><path transform="scale(.5)" d="M2422 336h0m65 63h0m1 4h0m4-7h0m1 5h0m6 2h0m3-3h0m34-21h0" stroke="#FAB255" stroke-width="7.4" stroke-linecap="round" fill="none"/><text x="1387.7" y="191.2" font-size="19.3" text-anchor="middle" fill="#000">0</text><text x="1486.7" y="209.2" font-size="19.3" text-anchor="middle" fill="#000">1</text><text x="1222.7" y="260.2" font-size="19.3" text-anchor="middle" fill="#000">2</text><text x="1375.7" y="301.1" font-size="19.3" text-anchor="middle" fill="#000">3</text><text x="1464.3" y="337.9" font-size="19.3" text-anchor="middle" fill="#000">4</text><text x="1304.3" y="91.9" font-size="19.3" text-anchor="middle" fill="#000">5</text><text x="1198.3" y="361.9" font-size="19.3" text-anchor="middle" fill="#000">6</text><text x="1242.3" y="434.6" font-size="19.3" text-anchor="middle" fill="#000">7</text><text x="1193.3" y="146.9" font-size="19.3" text-anchor="middle" fill="#000">8</text><text x="1391.7" y="372.9" font-size="19.3" text-anchor="middle" fill="#000">9</text><text x="1332.3" y="364.2" font-size="19.3" text-anchor="middle" fill="#000">10</text><text x="1441" y="440.9" font-size="19.3" text-anchor="middle" fill="#000">11</text><text x="1266.7" y="181.2" font-size="19.3" text-anchor="middle" fill="#000">12</text><text x="1312.7" y="263.6" font-size="19.3" text-anchor="middle" fill="#000">13</text><text x="1350" y="502.9" font-size="19.3" text-anchor="middle" fill="#000">14</text><text x="1102.7" y="285.5" font-size="19.3" text-anchor="middle" fill="#000">15</text><text x="1374.3" y="81.9" font-size="19.3" text-anchor="middle" fill="#000">16</text><text x="1514.7" y="415.9" font-size="19.3" text-anchor="middle" fill="#000">17</text><text x="1241.3" y="214.6" font-size="19.3" text-anchor="middle" fill="#000">18</text><circle cx="1601.5" cy="33.5" r="6.4" fill="#DD5129"/><text x="1620.8" y="39.4" font-size="19.7" text-anchor="start" fill="#000">0</text><circle cx="1601.5" cy="57.8" r="6.4" fill="#BB583D"/><text x="1620.8" y="63.6" font-size="19.7" text-anchor="start" fill="#000">1</text><circle cx="1601.5" cy="82" r="6.4" fill="#985F51"/><text x="1620.8" y="87.9" font-size="19.7" text-anchor="start" fill="#000">2</text><circle cx="1601.5" cy="106.2" r="6.4" fill="#766666"/><text x="1620.8" y="112.1" font-size="19.7" text-anchor="start" fill="#000">3</text><circle cx="1601.5" cy="130.5" r="6.4" fill="#546D7A"/><text x="1620.8" y="136.4" font-size="19.7" text-anchor="start" fill="#000">4</text><circle cx="1601.5" cy="154.8" r="6.4" fill="#31748E"/><text x="1620.8" y="160.6" font-size="19.7" text-anchor="start" fill="#000">5</text><circle cx="1601.5" cy="179" r="6.4" fill="#0F7BA2"/><text x="1620.8" y="184.9" font-size="19.7" text-anchor="start" fill="#000">6</text><circle cx="1601.5" cy="203.2" r="6.4" fill="#18849D"/><text x="1620.8" y="209.1" font-size="19.7" text-anchor="start" fill="#000">7</text><circle cx="1601.5" cy="227.5" r="6.4" fill="#208D98"/><text x="1620.8" y="233.4" font-size="19.7" text-anchor="start" fill="#000">8</text><circle cx="1601.5" cy="251.8" r="6.4" fill="#299693"/><text x="1620.8" y="257.6" font-size="19.7" text-anchor="start" fill="#000">9</text><circle cx="1601.5" cy="276" r="6.4" fill="#32A08E"/><text x="1620.8" y="281.9" font-size="19.7" text-anchor="start" fill="#000">10</text><circle cx="1601.5" cy="300.2" r="6.4" fill="#3AA989"/><text x="1620.8" y="306.1" font-size="19.7" text-anchor="start" fill="#000">11</text><circle cx="1601.5" cy="324.5" r="6.4" fill="#43B284"/><text x="1620.8" y="330.4" font-size="19.7" text-anchor="start" fill="#000">12</text><circle cx="1601.5" cy="348.8" r="6.4" fill="#61B27C"/><text x="1620.8" y="354.6" font-size="19.7" text-anchor="start" fill="#000">13</text><circle cx="1601.5" cy="373" r="6.4" fill="#80B274"/><text x="1620.8" y="378.9" font-size="19.7" text-anchor="start" fill="#000">14</text><circle cx="1601.5" cy="397.2" r="6.4" fill="#9EB26C"/><text x="1620.8" y="403.1" font-size="19.7" text-anchor="start" fill="#000">15</text><circle cx="1601.5" cy="421.5" r="6.4" fill="#BDB265"/><text x="1620.8" y="427.4" font-size="19.7" text-anchor="start" fill="#000">16</text><circle cx="1601.5" cy="445.8" r="6.4" fill="#DCB25D"/><text x="1620.8" y="451.6" font-size="19.7" text-anchor="start" fill="#000">17</text><circle cx="1601.5" cy="470" r="6.4" fill="#FAB255"/><text x="1620.8" y="475.9" font-size="19.7" text-anchor="start" fill="#000">18</text></g>
<g id="pD"><path d="M1049.8 644V1138H1482.5" fill="none" stroke="#000" stroke-width="1.8" stroke-linecap="square"/><text x="1049.8" y="1160.7" font-size="19.5" text-anchor="start" fill="#000">tSNE_1</text><text transform="translate(1035.6 1138.5) rotate(-90)" font-size="19.5">tSNE_2</text><path transform="scale(.5)" d="M2556 1520h0m1 3h0m0 18h0m2-9h0m0 6h0m2-27h0m0 10h0m0 7h0m0 16h0m1-11h0m0 8h0m1 16h0m1-36h0m0 18h0m0 7h0m1-30h0m1-5h0m0 15h0m0 9h0m0 17h0m1-45h0m0 23h0m0 16h0m1-32h0m1-4h0m0 25h0m1-29h0m0 22h0m0 21h0m1-34h0m0 6h0m1 11h0m0 13h0m2-26h0m0 20h0m1-31h0m0 23h0m0 31h0m1-41h0m0 14h0m1 5h0m1-14h0m0 22h0m1-36h0m0 6h0m1 24h0m0 12h0m0 4h0m1-47h0m0 39h0m0 12h0m1-45h0m0 51h0m1-60h0m0 17h0m0 11h0m1-16h0m1-7h0m0 3h0m0 36h0m0 13h0m1-31h0m0 9h0m1-34h0m0 21h0m0 9h0m1 8h0m0 7h0m0 10h0m0 7h0m1-58h0m0 9h0m0 14h0m0 25h0m1-28h0m0 18h0m0 25h0m1-58h0m0 27h0m0 13h0m0 14h0m1-59h0m0 27h0m0 28h0m1-44h0m0 51h0m1-58h0m0 4h0m0 12h0m0 4h0m1 11h0m0 13h0m0 6h0m1-27h0m0 48h0m1-69h0m0 17h0m0 48h0m2-60h0m0 44h0m1-26h0m0 13h0m0 7h0m0 9h0m0 5h0m1-69h0m0 7h0m0 6h0m0 19h0m0 7h0m0 20h0m1-14h0m1-32h0m0 54h0m1-58h0m0 7h0m0 6h0m0 10h0m0 3h0m0 28h0m0 28h0m1-18h0m1-19h0m1-25h0m0 4h0m0 9h0m0 8h0m0 15h0m0 22h0m1-80h0m0 76h0m1-39h0m0 16h0m0 19h0m1-27h0m0 4h0m0 29h0m1-75h0m0 3h0m0 10h0m0 14h0m0 31h0m1-28h0m1-19h0m0 63h0m0 7h0m1-41h0m0 7h0m0 6h0m0 17h0m2-64h0m0 5h0m0 7h0m0 6h0m0 34h0m0 19h0m1-34h0m0 4h0m1-32h0m0 13h0m1-20h0m0 45h0m0 22h0m1-42h0m0 6h0m0 7h0m0 3h0m0 7h0m0 10h0m0 16h0m1-12h0m1-48h0m1-8h0m0 13h0m0 3h0m0 6h0m0 8h0m1 10h0m1-35h0m0 28h0m0 24h0m1-41h0m0 12h0m0 15h0m1-66h0m0 33h0m0 13h0m0 39h0m1-42h0m0 16h0m1-7h0m0 18h0m0 6h0m0 5h0m1 9h0m1-44h0m1 41h0m1-44h0m0 9h0m1 15h0m0 13h0m1-36h0m0 40h0m1-45h0m0 14h0m1 23h0m2-27h0m1 28h0m1 6h0m1-40h0m0 9h0m2 5h0m0 4h0m0 7h0m0 17h0m0 8h0m2-45h0m0 42h0m1-11h0m2-3h0m0 14h0m0 3h0m1-29h0m0 17h0m1-11h0m0 4h0m0 13h0m1-38h0m0 45h0m0 49h0m1-76h0m1-24h0m0 28h0m1 6h0m0 7h0m0 9h0m0 58h0m0 6h0m1-89h0m0 13h0m0 19h0m0 44h0m0 4h0m1-86h0m0 73h0m1-83h0m0 5h0m0 33h0m0 49h0m0 16h0m0 14h0m1-65h0m1 56h0m1-91h0m0 50h0m0 18h0m0 20h0m0 24h0m1-124h0m0 5h0m0 19h0m0 4h0m0 81h0m0 12h0m0 11h0m1-97h0m0 39h0m0 21h0m0 18h0m0 15h0m1-127h0m0 41h0m0 12h0m0 28h0m0 6h0m0 17h0m0 13h0m1-121h0m0 52h0m0 16h0m0 27h0m0 32h0m1-115h0m0 88h0m0 24h0m1-101h0m0 4h0m0 60h0m0 20h0m0 7h0m0 4h0m1-113h0m0 36h0m0 26h0m0 60h0m0 7h0m1-86h0m0 15h0m0 35h0m0 15h0m1-57h0m0 25h0m0 11h0m0 29h0m1-96h0m0 77h0m0 3h0m0 4h0m0 29h0m1-52h0m0 13h0m0 31h0m1-87h0m0 38h0m0 13h0m0 27h0m0 6h0m1-26h0m0 14h0m0 18h0m0 7h0m1-104h0m0 101h0m1-87h0m0 5h0m0 5h0m0 47h0m0 7h0m1-83h0m0 8h0m0 26h0m0 27h0m0 25h0m1-145h0m0 5h0m0 66h0m0 54h0m0 4h0m1-51h0m0 5h0m0 31h0m0 54h0m0 5h0m1-77h0m0 25h0m0 16h0m1 8h0m1-59h0m0 43h0m0 12h0m0 16h0m0 8h0m1-45h0m1-13h0m0 30h0m0 11h0m0 4h0m0 22h0m1-63h0m0 12h0m0 7h0m0 40h0m1-99h0m0 9h0m0 21h0m0 32h0m1-28h0m0 12h0m0 4h0m0 21h0m0 8h0m0 5h0m0 6h0m0 5h0m1-40h0m0 12h0m1-23h0m0 5h0m0 37h0m0 13h0m1-94h0m0 8h0m0 5h0m0 12h0m0 4h0m0 27h0m0 35h0m1-90h0m0 63h0m0 34h0m1-106h0m0 5h0m0 54h0m0 17h0m0 4h0m2-72h0m0 36h0m0 4h0m0 6h0m0 29h0m0 14h0m1-93h0m0 1h0m0 64h0m0 7h0m0 26h0m1-88h0m0 7h0m0 19h0m1-31h0m0 8h0m0 17h0m0 49h0m0 14h0m1-53h0m0 13h0m0 8h0m0 6h0m0 7h0m0 8h0m0 7h0m0 12h0m1-68h0m0 44h0m1-8h0m1-72h0m0 57h0m0 26h0m0 9h0m2-94h0m0 49h0m0 15h0m0 9h0m0 25h0m1-124h0m0 104h0m1-34h0m0 10h0m0 5h0m0 31h0m1-123h0m0 96h0m0 5h0m0 15h0m0 19h0m1-142h0m0 82h0m0 51h0m1-121h0m0 8h0m0 3h0m1 72h0m0 19h0m0 11h0m0 11h0m1-138h0m0 82h0m0 38h0m1-17h0m0 7h0m0 14h0m0 7h0m0 10h0m1-136h0m0 31h0m0 43h0m1-81h0m0 102h0m1-95h0m0 11h0m0 88h0m0 13h0m0 17h0m0 4h0m1-150h0m0 105h0m0 18h0m0 10h0m0 9h0m1-136h0m0 7h0m1-18h0m0 97h0m0 23h0m0 23h0m0 9h0m0 5h0m0 4h0m1-157h0m0 11h0m0 38h0m0 81h0m1-142h0m0 135h0m0 21h0m1-153h0m0 23h0m0 116h0m0 4h0m0 3h0m1-16h0m0 6h0m0 25h0m0 4h0m0 3h0m1-98h0m0 80h0m1-26h0m1-89h0m0 42h0m0 85h0m1-93h0m0 5h0m0 7h0m0 7h0m0 42h0m0 56h0m1-189h0m0 136h0m0 17h0m0 5h0m1-28h0m0 17h0m1-128h0m0 22h0m0 27h0m1 70h0m0 5h0m1 19h0m1-128h0m0 4h0m0 111h0m0 12h0m0 9h0m1-166h0m1 4h0m0 137h0m1-149h0m0 19h0m1-13h0m0 10h0m0 138h0m1-142h0m0 11h0m0 10h0m0 8h0m0 103h0m0 5h0m1-111h0m0 40h0m0 86h0m0 28h0m1-191h0m0 7h0m0 13h0m1-9h0m0 18h0m0 103h0m0 19h0m1-158h0m0 4h0m0 41h0m0 106h0m0 14h0m1-74h0m0 55h0m0 48h0m0 5h0m1-59h0m0 16h0m0 6h0m1-117h0m0 7h0m0 27h0m0 72h0m1-21h0m0 7h0m1-54h0m1 68h0m0 48h0m1-40h0m1-29h0m0 8h0m0 9h0m3 2h0m0 5h0m1-70h0m1 58h0m2-57h0m3 10h0m1-30h0m0 14h0m1 5h0m1 6h0m1-26h0m1 27h0m1-10h0m0 16h0m2-34h0m1 8h0m0 54h0m1-5h0m1-62h0m2 66h0m1-9h0m0 3h0m1-67h0m0 40h0m1 36h0m1-46h0m1-31h0m0 59h0m1 11h0m1-46h0m0 40h0m1-35h0m0 31h0m2-12h0m2-36h0m0 7h0m0 4h0m0 13h0m0 14h0m1-50h0m0 3h0m0 23h0m1-34h0m0 16h0m1 6h0m0 6h0m0 14h0m1-8h0m0 5h0m0 13h0m0 14h0m3-50h0m0 21h0m1-37h0m1 54h0m0 11h0m0 39h0m1-99h0m0 12h0m0 43h0m1-49h0m0 11h0m0 9h0m0 9h0m1 11h0m0 22h0m1-70h0m1 7h0m0 25h0m0 5h0m0 66h0m1-100h0m0 44h0m1-49h0m0 55h0m1 13h0m0 35h0m1-158h0m0 12h0m0 13h0m0 141h0m0 4h0m1-173h0m0 31h0m0 39h0m0 33h0m1-114h0m0 69h0m0 113h0m0 4h0m1-195h0m0 6h0m0 11h0m0 31h0m0 33h0m0 58h0m1-118h0m0 14h0m0 19h0m0 127h0m1-48h0m1-109h0m0 34h0m0 5h0m1-69h0m0 6h0m0 3h0m0 9h0m0 5h0m0 127h0m1-123h0m0 11h0m0 58h0m0 37h0m1-102h0m0 26h0m0 66h0m1-70h0m0 11h0m0 26h0m0 49h0m0 12h0m1-126h0m0 19h0m0 57h0m0 46h0m0 8h0m1-142h0m0 5h0m0 31h0m0 86h0m1-98h0m0 28h0m0 4h0m0 6h0m0 4h0m0 52h0m0 10h0m0 29h0m1-162h0m0 19h0m1 110h0m0 44h0m0 19h0m1-189h0m0 19h0m0 40h0m0 73h0m1-123h0m0 15h0m0 17h0m0 27h0m0 47h0m0 44h0m0 25h0m0 3h0m0 11h0m0 5h0m1-191h0m0 22h0m0 101h0m0 35h0m1-144h0m0 19h0m0 13h0m0 54h0m0 68h0m1-181h0m0 7h0m0 13h0m0 21h0m0 23h0m0 135h0m0 8h0m1-197h0m0 84h0m0 28h0m0 30h0m0 21h0m1-115h0m0 55h0m0 18h0m1-101h0m0 4h0m0 134h0m0 28h0m0 7h0m1-180h0m0 3h0m0 14h0m0 29h0m0 50h0m0 57h0m0 13h0m0 19h0m1-194h0m0 47h0m0 63h0m0 8h0m0 3h0m0 22h0m0 21h0m0 16h0m1-198h0m0 69h0m0 117h0m0 30h0m1-182h0m0 24h0m0 3h0m0 109h0m0 21h0m1-186h0m0 44h0m0 115h0m0 11h0m0 26h0m1-170h0m0 6h0m0 7h0m0 11h0m0 153h0m1-207h0m0 50h0m0 20h0m0 142h0m0 5h0m1-28h0m0 3h0m0 6h0m1-170h0m0 52h0m0 96h0m0 28h0m1-190h0m0 7h0m0 40h0m0 4h0m0 91h0m0 33h0m0 30h0m1-148h0m0 140h0m1-167h0m0 4h0m0 144h0m0 8h0m0 6h0m1-177h0m0 31h0m0 9h0m0 12h0m0 7h0m0 72h0m0 43h0m1-184h0m0 13h0m0 19h0m0 126h0m0 12h0m0 6h0m0 18h0m1-190h0m0 14h0m0 8h0m0 125h0m1-105h0m0 13h0m0 84h0m1-91h0m0 13h0m0 137h0m1-205h0m0 136h0m0 35h0m0 26h0m1-160h0m0 103h0m0 38h0m0 14h0m1-184h0m0 12h0m0 10h0m0 11h0m0 9h0m0 18h0m0 89h0m0 8h0m0 19h0m0 18h0m1-190h0m0 14h0m0 7h0m0 27h0m0 13h0m0 74h0m0 14h0m0 14h0m0 23h0m1-168h0m0 175h0m1-187h0m0 19h0m0 5h0m0 13h0m0 39h0m0 48h0m0 35h0m0 8h0m1-180h0m0 9h0m0 34h0m0 28h0m0 114h0m1-128h0m0 10h0m0 17h0m0 60h0m0 6h0m0 6h0m0 11h0m0 9h0m1-191h0m0 56h0m0 123h0m0 29h0m1-200h0m0 12h0m0 9h0m0 15h0m0 5h0m0 14h0m0 32h0m0 90h0m0 9h0m0 11h0m1-179h0m0 190h0m0 4h0m1-153h0m0 101h0m1-155h0m0 21h0m0 126h0m0 43h0m0 25h0m1-211h0m0 22h0m0 20h0m0 5h0m0 24h0m0 18h0m0 84h0m0 9h0m1-115h0m0 68h0m0 30h0m1-136h0m0 54h0m0 112h0m0 7h0m1-201h0m0 4h0m0 5h0m0 11h0m0 18h0m0 36h0m0 11h0m0 102h0m0 18h0m1-156h0m0 18h0m0 76h0m0 28h0m0 10h0m0 16h0m1-175h0m0 5h0m0 103h0m0 6h0m1-98h0m0 22h0m0 4h0m0 62h0m0 14h0m0 13h0m0 47h0m1-202h0m0 10h0m0 5h0m0 63h0m0 6h0m0 93h0m1-180h0m0 23h0m0 24h0m0 26h0m0 118h0m0 7h0m0 9h0m1-198h0m0 28h0m0 113h0m0 6h0m0 10h0m0 7h0m0 10h0m1-167h0m0 4h0m0 117h0m0 39h0m0 35h0m1-205h0m0 23h0m0 31h0m0 9h0m0 11h0m0 51h0m0 28h0m0 12h0m0 16h0m0 6h0m0 3h0m1-184h0m0 138h0m0 24h0m0 27h0m1-119h0m0 96h0m1-159h0m0 5h0m0 22h0m0 150h0m1-188h0m0 124h0m0 16h0m0 21h0m0 3h0m0 34h0m0 5h0m1-58h0m0 6h0m0 3h0m0 25h0m0 3h0m0 4h0m1-183h0m0 22h0m0 133h0m0 13h0m1-154h0m0 4h0m0 180h0m1-121h0m0 43h0m0 5h0m0 13h0m0 15h0m0 20h0m0 13h0m1-29h0m0 6h0m0 6h0m0 22h0m1-190h0m0 12h0m1 149h0m0 9h0m0 27h0m1-182h0m0 5h0m0 102h0m0 17h0m0 11h0m0 17h0m1-41h0m0 4h0m0 53h0m1-172h0m0 181h0m1-73h0m0 21h0m0 25h0m1-36h0m0 45h0m0 17h0m1-47h0m1-11h0m0 28h0m0 17h0m1-10h0m0 24h0m1-68h0m1 32h0m0 33h0m1-51h0m0 40h0m0 4h0m1-11h0m0 4h0m0 18h0m1-59h0m1-3h0m0 10h0m0 46h0m3-66h0m0 22h0m0 29h0m1-9h0m1-37h0m0 5h0m0 21h0m0 4h0m0 10h0m1-24h0m0 4h0m0 14h0m1-31h0m2 24h0m0 12h0m1 3h0m1-29h0m1 13h0m0 13h0m1-20h0m0 29h0m1-39h0m0 3h0m0 21h0m2-6h0m0 23h0m2-31h0m3-5h0m0 17h0m0 6h0m2-9h0m0 26h0m1-34h0m1 27h0m1-19h0m1 7h0m0 10h0m2-32h0m0 10h0m2 5h0m0 4h0m0 5h0m3-3h0" stroke="#DD5129" stroke-width="7.4" stroke-linecap="round" fill="none"/><path transform="scale(.5)" d="M2272 1733h0m2 20h0m1-23h0m0 5h0m0 4h0m1 10h0m0 10h0m0 13h0m2-54h0m0 14h0m0 19h0m0 13h0m2-40h0m1 31h0m0 19h0m2-37h0m0 34h0m1-38h0m0 26h0m1-9h0m1-29h0m0 8h0m0 25h0m0 17h0m2-28h0m0 22h0m0 158h0m1-172h0m0 7h0m1-26h0m1 39h0m0 175h0m1-217h0m0 65h0m0 141h0m0 118h0m1-278h0m0 5h0m0 18h0m0 150h0m1-223h0m0 218h0m0 106h0m1-319h0m0 3h0m0 5h0m0 13h0m0 171h0m0 124h0m1-292h0m0 40h0m1 115h0m0 5h0m0 12h0m0 11h0m0 4h0m0 97h0m1-109h0m0 129h0m1-278h0m0 122h0m0 42h0m0 5h0m0 17h0m1-251h0m0 33h0m0 157h0m0 16h0m1-152h0m0 156h0m1-213h0m0 4h0m0 48h0m0 167h0m0 7h0m0 112h0m0 14h0m1-355h0m0 51h0m0 28h0m0 123h0m0 4h0m0 12h0m1-191h0m0 32h0m0 152h0m0 113h0m0 28h0m1-282h0m0 19h0m0 109h0m0 60h0m0 70h0m0 7h0m0 11h0m1-297h0m0 15h0m0 128h0m0 20h0m0 38h0m1-227h0m0 56h0m0 124h0m0 5h0m0 45h0m0 89h0m0 10h0m1-261h0m0 107h0m0 71h0m0 58h0m0 10h0m1-322h0m0 55h0m0 141h0m0 8h0m0 57h0m1-14h0m0 71h0m1-276h0m0 210h0m1-226h0m0 45h0m0 129h0m0 11h0m0 22h0m0 11h0m1-238h0m0 31h0m0 10h0m0 5h0m0 24h0m0 115h0m0 59h0m1-254h0m0 33h0m0 39h0m0 112h0m0 55h0m0 6h0m0 18h0m1-260h0m0 9h0m0 6h0m0 25h0m0 3h0m0 29h0m1-78h0m0 193h0m0 25h0m0 52h0m0 11h0m0 4h0m0 4h0m1-261h0m0 182h0m0 4h0m0 26h0m0 38h0m0 17h0m1-257h0m0 158h0m0 57h0m0 35h0m1-242h0m0 23h0m0 119h0m0 13h0m0 6h0m0 13h0m0 23h0m0 50h0m1-294h0m0 4h0m0 11h0m0 29h0m0 40h0m0 156h0m0 10h0m0 23h0m0 11h0m1-228h0m0 7h0m0 153h0m0 41h0m0 8h0m0 5h0m0 10h0m1-256h0m0 53h0m0 9h0m0 101h0m0 4h0m0 31h0m0 55h0m1-267h0m0 28h0m0 22h0m0 12h0m0 138h0m0 26h0m0 54h0m1-268h0m0 174h0m0 11h0m0 55h0m0 6h0m0 14h0m1-228h0m0 37h0m0 12h0m0 96h0m0 3h0m0 13h0m1-166h0m0 29h0m0 168h0m1-214h0m0 30h0m0 126h0m0 49h0m0 5h0m0 14h0m0 7h0m0 12h0m0 15h0m0 9h0m1-254h0m0 9h0m0 155h0m0 18h0m0 40h0m0 11h0m0 7h0m1-289h0m0 55h0m0 17h0m0 33h0m0 93h0m0 9h0m0 17h0m0 27h0m0 23h0m0 25h0m1-265h0m0 4h0m0 5h0m0 18h0m0 199h0m1-257h0m0 54h0m0 61h0m0 102h0m0 9h0m0 53h0m1-209h0m0 128h0m0 53h0m0 13h0m0 21h0m1-253h0m0 16h0m0 206h0m0 6h0m0 8h0m1-20h0m0 40h0m1-248h0m0 45h0m0 133h0m0 4h0m0 40h0m1-272h0m0 29h0m0 81h0m1-94h0m0 57h0m0 44h0m0 182h0m1-234h0m0 5h0m0 44h0m0 100h0m1-163h0m0 4h0m0 5h0m0 49h0m1-38h0m0 9h0m0 20h0m0 4h0m1-47h0m0 56h0m1-121h0m0 38h0m0 23h0m0 45h0m1-102h0m0 41h0m0 10h0m0 14h0m0 5h0m0 27h0m1-50h0m0 7h0m0 19h0m0 38h0m1-80h0m0 31h0m0 27h0m0 13h0m1 19h0m1-132h0m0 37h0m0 12h0m0 65h0m0 4h0m1-111h0m0 3h0m0 49h0m0 21h0m0 8h0m0 34h0m1-72h0m0 41h0m0 38h0m1-114h0m0 45h0m0 6h0m0 53h0m0 182h0m1-303h0m0 6h0m0 41h0m0 30h0m0 41h0m1-64h0m0 41h0m0 4h0m1-78h0m1 26h0m0 252h0m0 18h0m1-276h0m0 42h0m0 11h0m0 26h0m0 170h0m1-268h0m0 32h0m0 4h0m0 14h0m0 72h0m1-76h0m0 8h0m0 22h0m1 209h0m0 6h0m1-292h0m0 94h0m1-86h0m0 23h0m0 7h0m0 31h0m0 3h0m0 42h0m0 157h0m0 4h0m1-281h0m0 55h0m1-46h0m0 99h0m0 171h0m0 13h0m1-273h0m0 59h0m1-45h0m0 10h0m0 27h0m0 62h0m1-94h0m0 20h0m0 235h0m1-281h0m0 101h0m0 162h0m1-239h0m0 48h0m0 47h0m1-144h0m0 44h0m0 23h0m0 17h0m0 38h0m0 16h0m0 139h0m1-247h0m0 96h0m0 161h0m1-208h0m0 14h0m0 26h0m0 22h0m0 152h0m0 22h0m1-261h0m0 20h0m0 29h0m0 209h0m0 12h0m1-309h0m0 14h0m0 16h0m0 207h0m0 29h0m1-231h0m0 63h0m0 126h0m0 51h0m1-189h0m0 212h0m1-295h0m0 62h0m0 58h0m0 16h0m0 8h0m0 79h0m0 11h0m0 64h0m1-285h0m0 23h0m0 35h0m0 5h0m0 34h0m0 104h0m0 26h0m1-247h0m0 30h0m0 5h0m0 21h0m0 18h0m0 31h0m0 18h0m0 120h0m0 63h0m1-300h0m0 32h0m0 28h0m0 46h0m0 14h0m0 16h0m0 112h0m1-166h0m0 144h0m0 19h0m1-249h0m0 40h0m0 81h0m0 217h0m1-324h0m0 42h0m0 47h0m0 115h0m0 20h0m0 4h0m0 10h0m1-230h0m0 86h0m0 4h0m0 111h0m1-189h0m0 12h0m0 192h0m0 19h0m1-256h0m0 18h0m0 56h0m0 30h0m0 20h0m0 93h0m0 15h0m1-218h0m0 23h0m0 57h0m0 19h0m0 18h0m0 98h0m0 99h0m0 3h0m0 4h0m1-328h0m0 43h0m0 57h0m0 15h0m0 13h0m0 103h0m0 10h0m0 71h0m0 4h0m0 17h0m1-337h0m0 28h0m0 114h0m0 192h0m1-314h0m0 18h0m0 58h0m0 14h0m0 18h0m0 95h0m0 77h0m0 4h0m0 8h0m0 14h0m1-331h0m0 57h0m0 13h0m0 38h0m0 17h0m0 99h0m0 12h0m0 87h0m0 5h0m1-294h0m1-25h0m0 18h0m0 25h0m0 38h0m0 25h0m0 20h0m0 203h0m1-335h0m0 16h0m0 133h0m0 153h0m0 24h0m1-252h0m0 233h0m0 34h0m1-232h0m0 19h0m0 102h0m0 118h0m1-45h0m0 12h0m0 29h0m1-261h0m0 16h0m0 11h0m0 6h0m0 218h0m0 6h0m1-330h0m0 77h0m0 52h0m1-119h0m0 82h0m0 31h0m0 171h0m0 4h0m0 8h0m1-233h0m0 32h0m0 221h0m0 8h0m0 3h0m1-349h0m0 42h0m0 15h0m0 50h0m0 18h0m0 14h0m0 216h0m1-284h0m0 11h0m0 278h0m1-284h0m0 10h0m0 229h0m1-318h0m0 15h0m0 6h0m0 88h0m0 13h0m0 4h0m0 7h0m0 188h0m0 32h0m1-347h0m0 49h0m0 30h0m0 225h0m0 16h0m0 11h0m0 7h0m1-326h0m0 27h0m0 4h0m0 15h0m0 48h0m0 8h0m0 184h0m0 14h0m0 15h0m0 36h0m1-264h0m0 10h0m0 245h0m0 32h0m1-296h0m0 30h0m0 180h0m0 8h0m0 30h0m1-326h0m0 73h0m0 261h0m0 41h0m0 6h0m1-386h0m0 9h0m0 10h0m0 19h0m0 6h0m0 270h0m0 45h0m1-328h0m0 23h0m0 16h0m0 266h0m0 6h0m0 25h0m0 4h0m1-349h0m0 56h0m0 22h0m0 5h0m0 201h0m0 6h0m0 42h0m0 23h0m1-261h0m0 176h0m0 4h0m0 22h0m0 8h0m0 13h0m0 18h0m1-354h0m0 33h0m0 6h0m0 42h0m0 147h0m0 54h0m0 77h0m1-350h0m0 83h0m0 17h0m0 222h0m0 37h0m1-351h0m0 8h0m0 17h0m0 5h0m0 257h0m0 7h0m1-316h0m0 43h0m0 21h0m0 38h0m0 10h0m0 168h0m0 44h0m1-315h0m0 9h0m0 88h0m0 252h0m1-337h0m0 25h0m0 8h0m0 224h0m0 4h0m0 10h0m0 5h0m0 6h0m0 14h0m0 27h0m0 24h0m0 23h0m1-380h0m0 15h0m0 11h0m0 46h0m0 141h0m0 10h0m0 144h0m0 25h0m1-344h0m0 18h0m0 10h0m0 133h0m0 8h0m0 66h0m0 7h0m0 23h0m0 70h0m0 4h0m1-362h0m0 7h0m0 20h0m0 227h0m0 51h0m0 11h0m0 7h0m1-337h0m0 47h0m0 28h0m0 10h0m0 204h0m0 38h0m0 7h0m0 19h0m1-75h0m0 66h0m0 19h0m1-358h0m0 39h0m0 330h0m1-49h0m0 13h0m1-337h0m0 11h0m0 25h0m0 21h0m0 205h0m0 15h0m0 19h0m1-253h0m0 10h0m0 268h0m1-282h0m0 260h0m0 28h0m0 7h0m0 10h0m1-342h0m0 4h0m0 44h0m0 222h0m0 15h0m0 6h0m0 81h0m1-327h0m0 232h0m0 17h0m0 15h0m0 27h0m0 14h0m0 5h0m0 29h0m1-352h0m0 9h0m0 325h0m1-362h0m0 274h0m0 12h0m0 58h0m0 23h0m1-33h0m0 19h0m0 5h0m1-328h0m0 261h0m0 3h0m0 15h0m0 15h0m0 31h0m0 17h0m1-352h0m0 16h0m1 8h0m0 230h0m0 27h0m0 34h0m0 26h0m1-336h0m0 7h0m0 255h0m1-241h0m0 230h0m0 6h0m0 44h0m1-297h0m0 288h0m1-7h0m1-13h0m0 32h0m0 32h0m1-77h0m0 19h0m0 14h0m1-22h0m0 13h0m0 16h0m0 9h0m0 24h0m0 7h0m1-65h0m0 54h0m1-66h0m0 27h0m0 33h0m1-45h0m0 33h0m1-24h0m0 34h0m1-27h0m1-14h0m0 4h0m0 24h0m3-8h0m2 12h0m2-33h0m0 42h0m1-30h0m0 39h0m1-46h0m2-11h0m0 16h0m0 20h0m1-33h0m0 37h0m0 8h0m1-39h0m1 8h0m1 4h0m2 21h0m1-17h0m0 30h0m2-16h0m1 13h0m2-23h0m2 26h0m1-30h0m0 24h0m2-11h0m1-20h0m0 5h0m3-6h0m0 22h0m0 11h0m1-22h0m0 16h0m1-20h0m1 11h0m0 17h0m1-26h0m0 13h0m0 4h0m3-2h0m2-4h0" stroke="#906156" stroke-width="7.4" stroke-linecap="round" fill="none"/><path transform="scale(.5)" d="M2368 1561h0m40 4h0m2 5h0m10-174h0m1 3h0m1-6h0m0 231h0m1-219h0m0 4h0m0 219h0m2-235h0m1-4h0m0 15h0m0 3h0m1 214h0m0 4h0m1-213h0m0 134h0m0 5h0m1-158h0m0 12h0m1-7h0m0 156h0m1-143h0m0 3h0m0 129h0m0 6h0m1 79h0m1-239h0m0 16h0m0 148h0m0 7h0m1-143h0m0 208h0m2-197h0m0 117h0m0 4h0m1-151h0m1 141h0m0 3h0m2-124h0m0 129h0m0 5h0m1-156h0m0 160h0m1-154h0m1 155h0m1-173h0m0 168h0m1-156h0m0 13h0m0 139h0m1-145h0m0 152h0m0 5h0m0 6h0m1-176h0m0 24h0m1-4h0m0 140h0m1-162h0m0 160h0m0 5h0m1-155h0m0 6h0m0 156h0m1-166h0m0 162h0m0 5h0m1-17h0m1-134h0m1-12h0m0 18h0m0 138h0m2-150h0m0 15h0m0 123h0m0 9h0m0 6h0m0 3h0m0 4h0m0 5h0m1-154h0m1-14h0m0 22h0m1-3h0m0 136h0m0 13h0m1-174h0m0 14h0m0 156h0m0 8h0m1-20h0m1-10h0m0 15h0m1-154h0m0 9h0m0 190h0m1-202h0m0 23h0m0 126h0m0 4h0m0 19h0m1-110h0m0 82h0m0 25h0m1-164h0m0 11h0m0 50h0m0 90h0m0 22h0m1-28h0m0 15h0m1-151h0m0 10h0m0 113h0m1-95h0m1 22h0m0 10h0m0 70h0m0 9h0m0 8h0m0 19h0m1 18h0m1-197h0m0 7h0m0 9h0m0 23h0m0 30h0m0 112h0m1-145h0m0 19h0m0 11h0m0 73h0m0 4h0m0 13h0m0 5h0m1-164h0m0 16h0m1-11h0m0 4h0m0 17h0m0 20h0m0 16h0m0 126h0m1-169h0m0 12h0m0 43h0m0 69h0m0 4h0m0 15h0m0 12h0m1-177h0m0 18h0m0 26h0m0 9h0m1-27h0m0 33h0m0 4h0m0 7h0m0 130h0m0 305h0m1-410h0m0 31h0m0 24h0m0 9h0m0 4h0m0 10h0m0 15h0m0 322h0m1-507h0m0 6h0m0 39h0m0 52h0m1-45h0m0 11h0m0 42h0m0 47h0m1-148h0m0 5h0m0 11h0m0 54h0m0 51h0m0 43h0m0 22h0m0 315h0m1-310h0m0 5h0m1-167h0m0 34h0m0 47h0m0 34h0m0 31h0m0 7h0m1-180h0m0 14h0m0 30h0m0 10h0m0 68h0m0 28h0m0 14h0m0 20h0m0 314h0m0 10h0m1-519h0m0 51h0m0 31h0m0 55h0m0 13h0m1-75h0m0 122h0m0 4h0m1-184h0m0 4h0m0 25h0m0 71h0m0 14h0m0 393h0m1-439h0m0 108h0m1-179h0m0 22h0m0 119h0m0 36h0m0 8h0m1-193h0m0 24h0m0 43h0m0 46h0m0 11h0m0 50h0m0 4h0m1-185h0m0 22h0m0 4h0m0 15h0m0 131h0m0 23h0m1-191h0m0 8h0m0 4h0m0 102h0m0 64h0m1-137h0m0 34h0m0 6h0m0 80h0m1-133h0m0 16h0m0 18h0m0 4h0m0 3h0m0 74h0m0 40h0m0 328h0m0 23h0m1-486h0m0 37h0m0 74h0m0 36h0m0 323h0m1-443h0m0 92h0m0 9h0m0 333h0m1-484h0m0 46h0m0 112h0m0 3h0m1-214h0m0 36h0m0 14h0m0 24h0m0 15h0m1-69h0m0 10h0m0 48h0m0 144h0m0 334h0m1-494h0m0 51h0m0 432h0m0 6h0m1-535h0m0 33h0m0 54h0m1-74h0m0 23h0m0 18h0m0 4h0m0 18h0m0 462h0m1-534h0m0 20h0m0 26h0m1-56h0m0 88h0m0 8h0m1-52h0m0 4h0m0 21h0m0 7h0m1-51h0m0 15h0m0 13h0m0 51h0m0 426h0m0 8h0m0 6h0m0 5h0m1-490h0m0 9h0m0 20h0m1-84h0m0 32h0m0 41h0m0 20h0m0 4h0m0 431h0m1-513h0m0 525h0m1-512h0m0 13h0m0 13h0m0 9h0m0 20h0m0 3h0m0 446h0m1-525h0m0 16h0m0 24h0m0 26h0m1-87h0m0 18h0m0 73h0m0 463h0m1-511h0m1-38h0m0 62h0m0 7h0m0 28h0m0 4h0m0 240h0m1-325h0m0 12h0m0 14h0m1-36h0m0 326h0m1-323h0m0 6h0m0 16h0m0 21h0m0 31h0m0 12h0m0 7h0m1-67h0m0 299h0m0 5h0m1-339h0m0 46h0m0 15h0m0 28h0m1-94h0m0 26h0m0 7h0m0 13h0m0 52h0m0 6h0m1-48h0m0 9h0m0 22h0m0 246h0m0 3h0m0 7h0m0 6h0m1-288h0m0 30h0m0 270h0m1-351h0m0 11h0m0 61h0m0 22h0m0 3h0m0 244h0m1-335h0m0 15h0m0 17h0m0 6h0m0 288h0m1-318h0m0 67h0m0 9h0m0 232h0m1-326h0m0 8h0m0 21h0m0 9h0m0 301h0m0 20h0m1-347h0m0 41h0m0 10h0m0 292h0m1-339h0m0 52h0m0 17h0m0 5h0m0 234h0m1-319h0m0 14h0m0 3h0m0 17h0m0 7h0m0 8h0m0 263h0m0 316h0m1-601h0m0 32h0m0 12h0m0 3h0m0 15h0m0 235h0m0 31h0m1-362h0m0 10h0m0 467h0m0 82h0m1-544h0m0 4h0m0 13h0m0 18h0m0 37h0m0 380h0m0 19h0m0 76h0m0 6h0m1-555h0m0 30h0m0 23h0m0 17h0m0 251h0m1-305h0m0 9h0m0 33h0m0 4h0m0 16h0m0 383h0m0 100h0m1-539h0m0 18h0m0 274h0m0 140h0m0 17h0m1-397h0m0 268h0m0 287h0m1-625h0m0 22h0m0 44h0m0 494h0m0 56h0m1-623h0m0 19h0m0 13h0m0 6h0m0 21h0m0 5h0m0 278h0m0 121h0m0 11h0m0 90h0m1-495h0m0 6h0m0 241h0m0 10h0m0 128h0m1-404h0m0 7h0m0 263h0m0 52h0m0 71h0m0 180h0m1-613h0m0 9h0m0 6h0m0 15h0m0 13h0m0 408h0m0 9h0m0 86h0m1-513h0m0 22h0m0 267h0m0 133h0m0 98h0m1-562h0m0 12h0m0 308h0m0 56h0m0 97h0m0 6h0m1-446h0m0 358h0m0 55h0m0 12h0m0 11h0m0 96h0m1-546h0m0 5h0m0 29h0m0 12h0m0 374h0m0 111h0m1-536h0m0 14h0m0 8h0m0 11h0m0 295h0m0 117h0m0 14h0m0 95h0m1-253h0m0 64h0m1-334h0m1-20h0m0 13h0m0 348h0m0 81h0m0 156h0m1-606h0m0 18h0m0 278h0m0 158h0m0 6h0m1-160h0m0 32h0m0 35h0m0 80h0m0 155h0m1-242h0m0 103h0m0 155h0m1-278h0m0 5h0m0 26h0m0 5h0m0 58h0m0 21h0m0 111h0m1 35h0m0 4h0m1-238h0m0 72h0m0 22h0m1-128h0m0 5h0m0 107h0m0 174h0m1-317h0m0 42h0m0 93h0m0 21h0m0 8h0m0 161h0m1-329h0m0 324h0m1-271h0m1-40h0m0 20h0m0 16h0m0 110h0m0 7h0m1-40h0m0 205h0m0 16h0m1-198h0m0 175h0m1-318h0m1 131h0m0 220h0m1-345h0m0 114h0m0 38h0m0 186h0m0 4h0m1-220h0m0 11h0m0 23h0m0 168h0m0 10h0m1-158h0m2-178h0m0 117h0m0 214h0m1-338h0m0 4h0m0 148h0m0 201h0m1-212h0m1-9h0m0 218h0m1-214h0m0 221h0m1-361h0m0 133h0m0 29h0m0 3h0m0 192h0m1-344h0m0 351h0m0 4h0m2-208h0m2 5h0m1-18h0m2-2h0m3 1h0m0 4h0m0 18h0m1 4h0m2-17h0m1-7h0m0 22h0m1-8h0m1-11h0m1-64h0m0 78h0m1-74h0m0 10h0m0 69h0m1-7h0m1-66h0m0 71h0m1-83h0m0 55h0m1-32h0m0 29h0m1-59h0m1 10h0m0 53h0m0 11h0m0 7h0m0 8h0m0 98h0m1-162h0m0 6h0m0 150h0m1-186h0m0 22h0m0 49h0m1-4h0m0 50h0m0 11h0m1-14h0m1-117h0m0 8h0m0 68h0m0 4h0m1-10h0m0 64h0m1-103h0m0 9h0m0 33h0m0 54h0m0 18h0m0 46h0m1-136h0m0 21h0m0 43h0m1-119h0m0 131h0m0 6h0m1-116h0m0 11h0m0 29h0m0 6h0m0 13h0m1-74h0m0 3h0m0 18h0m0 118h0m0 5h0m0 40h0m1-173h0m0 21h0m1-44h0m0 36h0m0 34h0m0 4h0m0 12h0m0 11h0m0 46h0m1-104h0m0 26h0m0 14h0m0 56h0m0 22h0m0 36h0m0 19h0m1-118h0m0 57h0m1-118h0m0 67h0m0 27h0m0 74h0m0 7h0m1-204h0m0 10h0m0 61h0m0 22h0m0 26h0m0 11h0m0 5h0m1-138h0m0 46h0m0 24h0m0 9h0m0 66h0m0 11h0m1-148h0m0 47h0m0 35h0m0 40h0m0 11h0m0 63h0m0 6h0m0 8h0m1-222h0m0 17h0m0 9h0m0 19h0m0 26h0m0 9h0m1-83h0m0 11h0m0 81h0m0 17h0m0 33h0m0 23h0m0 29h0m0 17h0m1-176h0m0 39h0m0 25h0m0 57h0m1-68h0m0 20h0m0 3h0m0 27h0m0 89h0m0 8h0m1-196h0m0 21h0m0 93h0m1-138h0m0 7h0m0 22h0m0 46h0m0 10h0m0 14h0m1-34h0m0 29h0m0 41h0m0 65h0m0 9h0m0 5h0m0 5h0m0 38h0m1-264h0m0 23h0m0 10h0m0 14h0m0 31h0m0 9h0m0 8h0m0 61h0m0 55h0m1-175h0m0 31h0m0 131h0m0 5h0m0 30h0m0 7h0m1-232h0m0 68h0m0 77h0m0 35h0m0 32h0m0 4h0m0 27h0m0 18h0m1-270h0m0 15h0m0 28h0m0 10h0m0 52h0m0 107h0m0 50h0m1-269h0m0 53h0m0 16h0m0 172h0m0 3h0m0 44h0m1-252h0m0 37h0m0 26h0m0 96h0m0 37h0m0 50h0m1-273h0m0 54h0m0 29h0m0 134h0m0 25h0m0 27h0m1-232h0m0 3h0m0 8h0m0 21h0m0 125h0m0 40h0m0 16h0m0 14h0m1-264h0m0 219h0m0 39h0m1-222h0m0 24h0m0 20h0m0 188h0m1-227h0m0 13h0m0 14h0m0 167h0m0 4h0m0 7h0m1-199h0m0 25h0m0 117h0m0 38h0m0 51h0m1-56h0m0 53h0m1-242h0m0 4h0m0 172h0m0 16h0m0 31h0m0 11h0m1-202h0m0 148h0m0 4h0m1-165h0m0 4h0m1-9h0m0 167h0m0 10h0m0 38h0m1-227h0m0 8h0m1 10h0m0 18h0m0 186h0m1-9h0m0 13h0m1-44h0m1 5h0m0 34h0m1 6h0m1-9h0m1-188h0m0 179h0m0 5h0m0 11h0m0 5h0m1-38h0m1-178h0m1 172h0m0 30h0m0 7h0m1-212h0m0 130h0m0 37h0m0 19h0m1-174h0m1 5h0m0 159h0m0 4h0m0 16h0m0 8h0m1-201h0m1-9h0m0 135h0m2-129h0m0 181h0m0 9h0m2-193h0m0 170h0m0 28h0m3-181h0m0 147h0m0 12h0m2-7h0m1 17h0m1-173h0m1 6h0m0 148h0m0 16h0m2-6h0m2-166h0m0 40h0m0 120h0m1-143h0m0 136h0m1-5h0m1-144h0m0 151h0m2-133h0m0 130h0m1-110h0m0 5h0m1-18h0m1 15h0m2-13h0m1 20h0m0 101h0m1-106h0m1-10h0m2 9h0m0 10h0m0 96h0m2-125h0m0 15h0m1-6h0m2 106h0m0 13h0m1-109h0m1-3h0m0 101h0m0 8h0m1-102h0m0 6h0m0 92h0m2 12h0m1-116h0m0 14h0m1-18h0m1 14h0m0 94h0m1 6h0m1 5h0m1-15h0m2 11h0m1 10h0m25-51h0m1-12h0m2-4h0m0 9h0m2-6h0m1 13h0m0 5h0m1-8h0m1-3h0m2-10h0m0 14h0m1-8h0m1 12h0m1-14h0m1-6h0m0 11h0m3-10h0m0 15h0m0 4h0m3-10h0m1-3h0m0 7h0m2-75h0m0 63h0m0 10h0m1-69h0m0 76h0m1-19h0m1-47h0m0 64h0m2-80h0m0 7h0m0 62h0m0 4h0m0 13h0m1-65h0m1-8h0m1-17h0m0 21h0m0 19h0m0 32h0m0 6h0m1-73h0m0 6h0m0 3h0m0 69h0m2-89h0m0 30h0m0 43h0m0 14h0m1-75h0m0 13h0m1-31h0m0 10h0m0 77h0m1-53h0m0 17h0m0 29h0m1-74h0m0 18h0m0 4h0m0 19h0m0 37h0m1-87h0m0 5h0m0 10h0m0 69h0m1-49h0m0 19h0m1-47h0m0 6h0m0 10h0m0 21h0m0 16h0m0 27h0m1-48h0m0 18h0m0 24h0m1-64h0m0 4h0m1 26h0m0 13h0m1-45h0m1 25h0m1-28h0m0 76h0m1-87h0m0 4h0m0 20h0m1 25h0m0 42h0m1-75h0m0 42h0m0 17h0m0 13h0m1-88h0m0 10h0m0 33h0m1 18h0m0 34h0m1-81h0m0 40h0m0 24h0m1-53h0m0 21h0m1 3h0m0 18h0m1-32h0m0 21h0m0 7h0m0 24h0m0 3h0m1-50h0m0 55h0m1-76h0m0 14h0m0 26h0m0 16h0m0 4h0m1-64h0m1-11h0m0 19h0m0 16h0m0 55h0m1-66h0m1-17h0m0 49h0m0 24h0m1-20h0m1-32h0m0 15h0m0 11h0m1-52h0m0 22h0m0 44h0m0 9h0m1-58h0m0 18h0m0 36h0m1-66h0m0 51h0m1-71h0m0 12h0m0 26h0m0 4h0m0 14h0m1-35h0m0 11h0m0 47h0m1-72h0m0 18h0m0 60h0m1-57h0m0 24h0m0 22h0m0 15h0m1-52h0m1-26h0m0 36h0m0 52h0m1-84h0m1 14h0m0 58h0m1-66h0m0 27h0m0 26h0m0 7h0m1-39h0m0 36h0m2-15h0m0 7h0m1-46h0m0 7h0m0 7h0m0 12h0m2 6h0m0 9h0m0 4h0m1-49h0m0 6h0m0 14h0m1 11h0m2-28h0m0 19h0m0 6h0m0 12h0m3-30h0m0 4h0m0 7h0m0 5h0m3-16h0m0 13h0m2-16h0m1 11h0m2 3h0m1-12h0m1 5h0m4-4h0m1 5h0m20-3h0m1 7h0m1 11h0m1-14h0m1 5h0m0 12h0m2-11h0m1-3h0m0 19h0m1-23h0m1 11h0m2-16h0m0 14h0m0 11h0m3-24h0m0 29h0m1-10h0m1-24h0m2 4h0m0 4h0m2-13h0m0 26h0m0 17h0m1-48h0m0 35h0m1-19h0m0 8h0m0 18h0m1-33h0m0 20h0m1-17h0m1-7h0m1 22h0m0 4h0m1-17h0m0 6h0m0 19h0m2-21h0m0 28h0m0 3h0m1-8h0m1-10h0m1 16h0m1-36h0m1-12h0m0 33h0m0 5h0m0 5h0m1-47h0m0 25h0m1-14h0m1 23h0m1-27h0m0 18h0m0 12h0m1-19h0m1 34h0m1-51h0m0 47h0m1-28h0m0 17h0m1 13h0m1-37h0m0 28h0m1-15h0m1-3h0m0 6h0m0 5h0m3-13h0m4 1h0" stroke="#427084" stroke-width="7.4" stroke-linecap="round" fill="none"/><path transform="scale(.5)" d="M2280 1545h0m1-18h0m5 13h0m0 11h0m4-27h0m0 24h0m0 8h0m1-22h0m1 18h0m2-23h0m0 25h0m1-33h0m1 37h0m1-27h0m0 31h0m1-35h0m1 14h0m1-8h0m0 5h0m0 16h0m0 5h0m1 3h0m1-36h0m1 25h0m0 9h0m2-32h0m0 17h0m2-22h0m0 35h0m0 5h0m0 5h0m1-16h0m1-32h0m0 6h0m0 10h0m0 6h0m0 5h0m1-40h0m0 5h0m0 46h0m0 15h0m1-20h0m1-50h0m0 29h0m1-12h0m0 8h0m0 20h0m0 11h0m0 11h0m1-47h0m1-25h0m0 40h0m0 31h0m0 3h0m1-41h0m1-17h0m0 28h0m0 4h0m0 12h0m2-64h0m0 18h0m0 27h0m0 24h0m1-21h0m1-45h0m0 33h0m0 30h0m0 8h0m0 8h0m1-73h0m0 31h0m1-35h0m0 52h0m1-58h0m1 6h0m0 8h0m0 5h0m0 43h0m0 8h0m1-74h0m0 14h0m0 16h0m0 28h0m0 13h0m1-23h0m0 5h0m1-13h0m1-23h0m0 16h0m0 42h0m1-20h0m0 4h0m0 5h0m1-14h0m1-34h0m1 22h0m0 18h0m1-52h0m0 6h0m1 57h0m1-54h0m0 21h0m0 5h0m0 8h0m0 8h0m1-46h0m2 23h0m0 33h0m1-55h0m0 16h0m0 35h0m1-24h0m0 19h0m2-26h0m0 14h0m1 5h0m1-21h0m0 8h0m0 19h0m1-40h0m0 8h0m0 41h0m1-30h0m0 18h0m1-21h0m0 30h0m0 5h0m1-43h0m0 34h0m0 15h0m1-53h0m1 15h0m0 18h0m0 8h0m1-31h0m0 27h0m0 13h0m1-6h0m1-16h0m1-15h0m0 24h0m3-4h0m2-6h0m1 12h0m2-20h0m1-5h0m2-7h0m1 4h0m2-5h0" stroke="#16829E" stroke-width="7.4" stroke-linecap="round" fill="none"/><path transform="scale(.5)" d="M2736 1745h0m4 1h0m1 7h0m1 5h0m0 17h0m1-28h0m1-3h0m0 10h0m1 17h0m0 345h0m1 7h0m1-377h0m0 368h0m1 12h0m1-369h0m1-3h0m1 364h0m1 10h0m1-367h0m0 361h0m2-366h0m1-6h0m0 14h0m0 346h0m1-357h0m2 6h0m0 360h0m1-371h0m0 365h0m1-357h0m1 345h0m0 13h0m1-363h0m0 373h0m1-369h0m0 363h0m1-10h0m1 6h0m0 7h0m1-23h0m1 7h0m0 5h0m1 7h0m2-31h0m0 12h0m0 14h0m1-35h0m0 28h0m0 11h0m1-57h0m0 5h0m1 32h0m1-28h0m0 4h0m0 20h0m0 20h0m1-34h0m0 8h0m1-27h0m1 38h0m1-25h0m1-9h0m2-3h0m1 3h0m0 3h0m0 20h0m9-8h0m7-4h0m1-27h0m0 36h0m1-4h0m1-22h0m3-3h0m2 5h0m2-10h0m6 2h0" stroke="#299693" stroke-width="7.4" stroke-linecap="round" fill="none"/><path transform="scale(.5)" d="M2541 2230h0m4-5h0m1 12h0m2-10h0m34-44h0m0 5h0m3-1h0m3-6h0m2 8h0m1-6h0m3 0h0m3 3h0m3 7h0m2-5h0m0 8h0m2 2h0m1-6h0m1-4h0m1 14h0m0 3h0m1-14h0m2-5h0m0 11h0m1 12h0m1-9h0m1-23h0m0 4h0m0 23h0m1-11h0m1 3h0m2-16h0m0 32h0m1-20h0m1 10h0m0 15h0m1-8h0m0 4h0m1-15h0m1-6h0m0 20h0m1-33h0m0 17h0m0 22h0m1-17h0m1-7h0m0 27h0m1-7h0m1-33h0m1 5h0m0 5h0m0 19h0m2-29h0m1 13h0m0 12h0m1 15h0m2-39h0m2 29h0" stroke="#3CAB88" stroke-width="7.4" stroke-linecap="round" fill="none"/><path transform="scale(.5)" d="M2144 1803h0m1-21h0m1 15h0m0 17h0m1-28h0m0 17h0m2-4h0m0 14h0m1-20h0m0 17h0m1-20h0m1 23h0m1-41h0m0 64h0m1-52h0m0 8h0m1 7h0m1-11h0m0 7h0m0 7h0m0 6h0m0 15h0m0 17h0m2-61h0m1 42h0m1-22h0m0 19h0m0 19h0m0 4h0m1-27h0m1-32h0m0 20h0m1-17h0m0 11h0m0 25h0m0 5h0m1-35h0m0 18h0m2-13h0m0 6h0m0 20h0m1 24h0m1-47h0m0 15h0m1 35h0m1-44h0m0 31h0m0 7h0m1-25h0m0 5h0m1-15h0m1 37h0m0 7h0m1-55h0m0 43h0m1 14h0m1-10h0m1-7h0m1-31h0m1 18h0m0 3h0m0 7h0m0 16h0m3-22h0" stroke="#71B278" stroke-width="7.4" stroke-linecap="round" fill="none"/><path transform="scale(.5)" d="M2646 1355h0m0 17h0m0 5h0m1-41h0m0 25h0m1-19h0m0 7h0m0 18h0m1-34h0m0 19h0m0 21h0m2-14h0m1 6h0m0 10h0m1-23h0m0 33h0m1-48h0m0 3h0m0 8h0m0 12h0m1 6h0m0 4h0m0 20h0m1-57h0m0 10h0m1 14h0m1-11h0m0 23h0m1-27h0m0 41h0m2-30h0m0 32h0m1-35h0m0 6h0m0 15h0m1 12h0" stroke="#B5B267" stroke-width="7.4" stroke-linecap="round" fill="none"/><path transform="scale(.5)" d="M2857 2026h0m3-3h0m2 4h0m1 5h0m2-7h0m1 22h0m3-15h0m2-8h0m5 5h0m1-13h0m0 7h0m1-4h0m1 9h0m2-4h0m1-3h0m2 3h0m0 5h0m2 4h0m1-14h0m1 4h0m0 6h0m1-3h0m6-3h0m1 5h0" stroke="#FAB255" stroke-width="7.4" stroke-linecap="round" fill="none"/><text x="1348" y="671.9" font-size="19.5" text-anchor="middle" fill="#000">B cells</text><text x="1204.7" y="756.9" font-size="19.5" text-anchor="middle" fill="#000">Endothelial cells</text><text x="1379.5" y="810.9" font-size="19.5" text-anchor="middle" fill="#000">T cells</text><text x="1137.5" y="908.4" font-size="19.5" text-anchor="middle" fill="#000">MAST cells</text><text x="1328.5" y="913.4" font-size="19.5" text-anchor="middle" fill="#000">Epithelial cells</text><text x="1202" y="971.9" font-size="19.5" text-anchor="middle" fill="#000">Fibroblasts</text><text x="1457" y="1004.4" font-size="19.5" text-anchor="middle" fill="#000">DC</text><text x="1397.5" y="1051.9" font-size="19.5" text-anchor="middle" fill="#000">Macrophage</text><text x="1312.7" y="1114.9" font-size="19.5" text-anchor="middle" fill="#000">NK cells</text><circle cx="1512.7" cy="746.7" r="6.4" fill="#DD5129"/><text x="1532" y="752.6" font-size="19.7" text-anchor="start" fill="#000">T cells</text><circle cx="1512.7" cy="784.2" r="6.4" fill="#906156"/><text x="1532" y="790" font-size="19.7" text-anchor="start" fill="#000">Fibroblasts</text><circle cx="1512.7" cy="821.6" r="6.4" fill="#427084"/><text x="1532" y="827.5" font-size="19.7" text-anchor="start" fill="#000">Epithelial cells</text><circle cx="1512.7" cy="859.1" r="6.4" fill="#16829E"/><text x="1532" y="864.9" font-size="19.7" text-anchor="start" fill="#000">Endothelial cells</text><circle cx="1512.7" cy="896.5" r="6.4" fill="#299693"/><text x="1532" y="902.4" font-size="19.7" text-anchor="start" fill="#000">Macrophage</text><circle cx="1512.7" cy="934" r="6.4" fill="#3CAB88"/><text x="1532" y="939.8" font-size="19.7" text-anchor="start" fill="#000">NK cells</text><circle cx="1512.7" cy="971.4" r="6.4" fill="#71B278"/><text x="1532" y="977.3" font-size="19.7" text-anchor="start" fill="#000">MAST cells</text><circle cx="1512.7" cy="1008.9" r="6.4" fill="#B5B267"/><text x="1532" y="1014.7" font-size="19.7" text-anchor="start" fill="#000">B cells</text><circle cx="1512.7" cy="1046.3" r="6.4" fill="#FAB255"/><text x="1532" y="1052.2" font-size="19.7" text-anchor="start" fill="#000">DC</text></g>
<g id="pA"><path d="M68.4 48V625.9H618" fill="none" stroke="#000" stroke-width="1.8" stroke-linecap="square"/><text x="68.4" y="651.6" font-size="19.5" text-anchor="start" fill="#000">tSNE_1</text><text transform="translate(51.4 626.4) rotate(-90)" font-size="19.5">tSNE_2</text><path transform="scale(.5)" d="M841 152h0" stroke="#8CB271" stroke-width="8.6" stroke-linecap="round" fill="none"/><path transform="scale(.5)" d="M191 698h0m2-8h0m1 11h0m8-38h0m5 19h0m5 3h0m5 34h0m6-8h0m3 4h0m3 24h0m1-17h0m0 23h0m5-54h0m2 61h0m127-93h0m12-260h0m1 278h0m5-37h0m2-275h0m4 513h0m3-2h0m4-3h0m4-11h0m1-437h0m0 444h0m5-20h0m1-32h0m0 84h0m1-80h0m0 5h0m3 37h0m1-243h0m0 256h0m3 59h0m3-309h0m4-224h0m1 8h0m2 517h0m1-567h0m0 522h0m0 68h0m7-230h0m1-125h0m0 97h0m1-90h0m0 45h0m1 65h0m1-334h0m10 231h0m2 27h0m0 64h0m1 234h0m5-267h0m4 75h0m3-171h0m0 70h0m4-251h0m5 294h0m1-101h0m8-10h0m9 30h0m0 52h0m1 98h0m1-81h0m11 189h0m1-225h0m1-69h0m0 164h0m2-88h0m7-66h0m5 91h0m4-56h0m5 349h0m1-341h0m3 21h0m12 4h0m1-33h0m0 319h0m9 19h0m7-325h0m2 21h0m1 329h0m2-13h0m3-321h0m126 119h0m3 98h0m11 10h0m1-5h0m17-491h0m4 9h0m9 374h0m7-386h0m1 56h0m3-31h0m3-37h0m0 5h0m5-5h0m0 29h0m2 46h0m2-78h0m0 30h0m0 29h0m3-25h0m4 757h0m10-332h0m3-424h0m4 36h0m1-23h0m2 297h0m3 471h0m10-747h0m1 22h0m1 196h0m0 65h0m1-256h0m0 195h0m3 502h0m5-729h0m0 230h0m1-219h0m1 234h0m2-250h0m2 260h0m2-225h0m16-17h0m0 4h0m0 12h0m4 310h0m3-298h0m0 91h0m2-101h0m1 87h0m4-108h0m2 125h0m1-128h0m0 88h0m3 48h0m4 4h0m3 3h0m14-12h0m4-155h0m2 144h0m3-36h0m15 48h0m1-66h0m4 48h0m2 28h0m10-131h0m3 153h0m2-42h0m1 33h0m1-21h0m1-128h0m2 7h0m0 17h0m0 112h0m0 7h0m1-206h0m2 7h0m1 197h0m2-105h0m0 113h0m1-117h0m2-98h0m1 235h0m3-208h0m0 167h0m2-15h0m0 18h0m0 67h0m1-188h0m1-53h0m2 62h0m1 121h0m7-183h0m0 90h0m12 116h0m6 57h0m10-146h0m5-3h0m10 494h0m5-507h0m12-4h0m6-120h0m0 111h0m1-17h0m0 8h0m15-117h0m0 61h0m2-58h0m2 98h0m2-71h0m5 20h0m1-70h0m2 71h0m2-51h0m3 22h0m0 158h0m6-150h0m0 147h0m2-90h0m0 8h0m2-81h0m1 35h0m0 150h0m6-163h0m2-29h0m1 90h0m3 3h0m3-37h0m1-26h0m0 139h0m1 22h0m2-30h0m1 12h0m4-107h0m0 11h0m3-95h0m3 34h0m1-3h0m2 586h0m3-587h0m1 172h0m0 29h0m1 383h0m2-596h0m0 604h0m1-437h0m1 434h0m2-3h0m2 5h0m3-444h0m0 451h0m6-24h0m2 13h0m1-7h0m5 9h0m4 2h0m1-4h0m4-394h0m0 392h0m0 7h0m1-396h0m1-44h0m1 24h0m2 411h0m1 8h0m2-389h0m2-52h0m23 6h0m13 11h0" stroke="#127EA0" stroke-width="8.6" stroke-linecap="round" fill="none"/><path transform="scale(.5)" d="M427 393h0m19 14h0m337-33h0m9 30h0m6 38h0m54 16h0m13-2h0m4-5h0m20-49h0m27 63h0m17-54h0m6 170h0m58-100h0m4 5h0m33-32h0m13-92h0m2 51h0m37 13h0m22-63h0m52 200h0m23-14h0" stroke="#DD5129" stroke-width="8.6" stroke-linecap="round" fill="none"/><path transform="scale(.5)" d="M375 376h0m91 31h0m230 358h0m20-402h0m4 379h0m4 26h0m3-393h0m0 20h0m4-20h0m2-4h0m8 41h0m11-30h0m3 32h0m3 9h0m4 358h0m6-414h0m1 66h0m4-27h0m3 265h0m2-250h0m13 17h0m0 331h0m9-343h0m1-36h0m5 357h0m3-320h0m3 27h0m6-53h0m7 37h0m6-5h0m1-15h0m2-263h0m7 51h0m2 258h0m1-25h0m2 119h0m1-390h0m1 356h0m1-337h0m0 368h0m7-128h0m1 11h0m2 74h0m4 26h0m4-23h0m13 20h0m0 17h0m4-87h0m6 62h0m1 19h0m1-5h0m2-27h0m3-47h0m1-17h0m3 16h0m9 1h0m0 104h0m4-82h0m1 81h0m2 10h0m1-138h0m5 94h0m1 32h0m3-91h0m7-89h0m0 33h0m6 132h0m1-169h0m1 211h0m3-179h0m0 196h0m0 4h0m2-243h0m0 257h0m5-190h0m1-55h0m0 157h0m0 13h0m3-147h0m2 131h0m1 41h0m2 71h0m1-196h0m1 20h0m1 7h0m2 70h0m4-119h0m1 41h0m2-7h0m1 24h0m1 4h0m22-38h0m3 4h0m0 22h0m3 18h0m5-42h0m18-69h0m2-41h0m4 14h0m7 95h0m2-128h0m1 57h0m3-1h0m0 8h0m0 88h0m4-144h0m0 116h0m3 98h0m1-218h0m1 208h0m2-160h0m3 64h0m2 103h0m1-190h0m0 61h0m1-55h0m1 10h0m0 57h0m1-94h0m6 195h0m0 37h0m1-130h0m0 123h0m1-39h0m1 4h0m0 22h0m2-8h0m2 35h0m3-155h0m1-12h0m1-4h0m3 119h0m1-153h0m5 149h0m4-2h0m0 12h0m1-153h0m0 12h0m1-38h0m0 44h0m3 155h0m0 11h0m0 27h0m0 5h0m1-74h0m1 12h0m0 53h0m2-29h0m1 19h0m2-62h0m5 45h0m0 5h0m4-51h0m4 34h0m2-18h0m0 21h0m7-12h0m1 5h0m0 4h0m1-26h0m1 45h0m1-27h0m0 55h0m3-81h0m1-3h0m0 71h0m5-53h0m8 11h0m0 39h0m1 6h0m5-7h0m3-1h0m1-50h0m0 18h0m1 5h0m1 10h0m10-10h0m1 18h0" stroke="#19869C" stroke-width="8.6" stroke-linecap="round" fill="none"/><path transform="scale(.5)" d="M188 696h0m3-13h0m12 36h0m1-39h0m3-9h0m2 32h0m10 2h0m0 51h0m3-31h0m1-4h0m1 19h0m3-70h0m9 52h0m1 19h0m156 123h0m0 21h0m8-3h0m13-66h0m4 115h0m1 6h0m7-257h0m4 242h0m0 30h0m1-228h0m19-37h0m5-94h0m1-5h0m8 51h0m3 20h0m1-38h0m2 95h0m2-62h0m2 47h0m4-37h0m2 51h0m3 35h0m7-130h0m4 56h0m2 84h0m15-97h0m1 291h0m1-299h0m9 28h0m2-60h0m2 56h0m8 278h0m4-250h0m6 236h0m18 61h0m2-352h0m1 338h0m14-28h0m122 230h0m10-302h0m0 67h0m15-1h0m7 12h0m2 29h0m8-12h0m51 154h0m71-251h0m2-347h0m5-14h0m12-4h0m1 48h0m8 306h0m3-355h0m5 1h0m3 368h0m2-427h0m0 111h0m7-48h0m1-91h0m12 12h0m5-8h0m3 5h0m9 403h0m1-7h0m2-286h0m0 12h0m1 268h0m1-397h0m4 397h0m3 5h0m1-4h0m2 8h0m0 17h0m3 1h0m1-301h0m6 285h0m1-10h0m2 19h0m2-28h0m2-61h0m2-7h0m1 88h0m1-20h0m1 15h0m2-17h0m1-49h0m0 54h0m0 22h0m1-62h0m0 5h0m1-39h0m0 43h0m1-28h0m0 64h0m2-59h0m0 22h0m0 49h0m1-64h0m1 40h0m1-357h0m1 297h0m1 24h0m1-22h0m0 26h0m0 39h0m1-91h0m0 80h0m2 8h0m1-37h0m1-319h0m0 327h0m0 17h0m1-55h0m0 6h0m1 5h0m0 16h0m0 40h0m1-69h0m0 37h0m0 22h0m1-69h0m0 6h0m1 68h0m1-29h0m2 51h0m1-102h0m0 77h0m1-66h0m0 14h0m1 62h0m0 12h0m1-102h0m1 43h0m0 8h0m1-25h0m0 48h0m1-68h0m1 14h0m0 41h0m1-13h0m0 20h0m0 10h0m1-88h0m0 82h0m0 13h0m3 3h0m0 11h0m2-38h0m0 9h0m1 31h0m1-56h0m3-2h0m1-32h0m1-11h0m0 63h0m1-48h0m0 33h0m0 39h0m1-27h0m0 10h0m1-40h0m0 7h0m0 5h0m0 50h0m1-85h0m1 82h0m4-52h0m2 5h0m2-3h0m3-20h0m0 19h0m2-3h0m2-3h0m1-11h0m0 21h0m3-6h0m2-14h0m23 0h0m23-4h0m3 8h0m2-9h0m1 6h0m0 13h0m4 4h0m7-246h0m0 237h0m1-14h0m2-198h0m2 27h0m0 174h0m2-8h0m1 4h0m1 4h0m2 21h0m1-5h0m2 11h0m1-34h0m0 6h0m1-11h0m3 15h0m5 17h0m1-16h0m1-15h0m0 4h0m0 14h0m1 7h0m3-3h0m3-15h0m0 5h0m0 7h0m5 9h0m4-18h0m0 8h0m7-18h0m0 16h0" stroke="#218E98" stroke-width="8.6" stroke-linecap="round" fill="none"/><path transform="scale(.5)" d="M404 420h0m7-19h0m15-27h0m20 22h0m25-32h0m157 104h0m2 5h0m97-115h0m2 40h0m12 6h0m2-40h0m3 56h0m3-18h0m5 17h0m9-2h0m10 14h0m3-60h0m1 61h0m4-30h0m11 9h0m19-7h0m12 28h0m0 13h0m5-276h0m0 251h0m0 50h0m3-283h0m0 268h0m5-245h0m0 208h0m0 3h0m2-233h0m0 6h0m1 231h0m1-4h0m3-254h0m2 259h0m1-7h0m48 42h0m40-95h0m5 107h0m13-58h0m12 16h0m29 74h0m2-54h0m0 12h0m29 20h0m24-8h0m10-77h0m2-32h0m1 30h0m2-13h0m12 20h0m9-54h0m7 104h0m4-13h0m1-8h0m9-59h0m11 576h0m20-1h0" stroke="#247796" stroke-width="8.6" stroke-linecap="round" fill="none"/><path transform="scale(.5)" d="M382 690h0m4-51h0m26-31h0m7 15h0m18 74h0m3 22h0m2-139h0m7-6h0m11 121h0m1-120h0m1 3h0m10 61h0m5-58h0m13 18h0m0 30h0m1 93h0m2-145h0m2 30h0m1 39h0m2 235h0m8-290h0m14 25h0m0 62h0m30-52h0m179-263h0m16 39h0m3-37h0m14 312h0m10-278h0m5 276h0m1-284h0m24 298h0m3 7h0m11-21h0m47-124h0m192-139h0" stroke="#39A78A" stroke-width="8.6" stroke-linecap="round" fill="none"/><path transform="scale(.5)" d="M387 845h0m6 5h0m3-23h0m2-14h0m11-6h0m1 13h0m2 9h0m1-8h0m12 23h0m6-17h0m4 18h0m59-99h0m194 118h0m6-2h0m5-3h0m0 7h0m2-21h0m22 123h0m1-7h0m29-536h0m2 331h0m7-31h0m2-305h0m5 252h0m1 80h0m9-337h0m9 352h0m12-95h0m7 0h0m3-28h0m4 56h0m1-256h0m2 234h0m7-507h0m0 586h0m4-346h0m2-204h0m4-16h0m0 220h0m3-257h0m1 46h0m28 248h0m1-3h0m99 618h0" stroke="#427084" stroke-width="8.6" stroke-linecap="round" fill="none"/><path transform="scale(.5)" d="M185 670h0m18 28h0m193-354h0m13 569h0m7-529h0m8 560h0m18-587h0m3 8h0m5-1h0m2 331h0m3-307h0m6 497h0m2-240h0m2 239h0m5 3h0m3-201h0m9-23h0m12 9h0m6-82h0m12 76h0m19 323h0m10-6h0m3 21h0m7-387h0m1-7h0m4 18h0m185 106h0m16 14h0m14-14h0m8 93h0m1-69h0m10-4h0m12 21h0m135-164h0m5-4h0m3 39h0m1-27h0m6-29h0m0 29h0m8-18h0m3-11h0m0 68h0m5-8h0m128 300h0m4 6h0m6-4h0" stroke="#A8B26A" stroke-width="8.6" stroke-linecap="round" fill="none"/><path transform="scale(.5)" d="M370 397h0m2-7h0m10-34h0m1 51h0m5-16h0m1-31h0m4 51h0m9-66h0m11 49h0m8-30h0m1 21h0m8-45h0m10 11h0m10 8h0m5 48h0m3-47h0m48 628h0m5-5h0m10 48h0m6 7h0m8-26h0m1 10h0m1-25h0m2 64h0m1-82h0m0 38h0m4-536h0m0 534h0m1 3h0m2 50h0m4-668h0m2 646h0m1-29h0m0 16h0m1-621h0m0 73h0m0 502h0m0 65h0m3-570h0m2-74h0m0 648h0m4-654h0m0 620h0m1-4h0m2-619h0m2 10h0m3 6h0m2 3h0m2-18h0m0 8h0m4 20h0m1-34h0m2 16h0m4-8h0m0 6h0m1-24h0m1 33h0m1-18h0m2-3h0m2 4h0m0 12h0m6 15h0m2-23h0m1 23h0m3-20h0m1-6h0m4 3h0m1 22h0m1-4h0m0 12h0m1-25h0m8 4h0m2 2h0m1 56h0m1-34h0m2-46h0m2 55h0m2-9h0m1-4h0m2-37h0m0 42h0m0 34h0m1-37h0m129 720h0m8-4h0m8 4h0m245-165h0m10-2h0m1 6h0" stroke="#71B278" stroke-width="8.6" stroke-linecap="round" fill="none"/><path transform="scale(.5)" d="M387 366h0m43 346h0m1-123h0m2 110h0m2-5h0m0 34h0m1 216h0m3-285h0m0 18h0m5-18h0m4 13h0m1 39h0m0 5h0m5-87h0m7-21h0m2 14h0m0 53h0m2 59h0m4 198h0m4-352h0m2 363h0m1-334h0m0 338h0m3-306h0m0 112h0m6-116h0m0 54h0m5-75h0m1 42h0m6 53h0m1-69h0m1-72h0m2 178h0m2-67h0m2-96h0m1-14h0m1 412h0m1-389h0m3 19h0m6 95h0m2-33h0m0 274h0m1-322h0m3 316h0m3 55h0m5-31h0m9-290h0m2 285h0m7-15h0m13-316h0m5 365h0m0 15h0m1-4h0m2-61h0m92-357h0m7 17h0m1-18h0m3-5h0m5-3h0m0 17h0m4-13h0m0 8h0m1 24h0m5-27h0m2-5h0m1 7h0m1 9h0m0 3h0m1 27h0m4-40h0m1 30h0m0 3h0m2 37h0m1-32h0m0 14h0m1-48h0m1 28h0m0 29h0m1-47h0m1 22h0m1 561h0m1-537h0m10-44h0m0 15h0m2-20h0m1 55h0m0 4h0m1-272h0m0 263h0m1 27h0m1-61h0m5-251h0m0 283h0m1-4h0m1-12h0m3-10h0m18-233h0m11 308h0m6-278h0m3-51h0m9 40h0m36 273h0m1-265h0m5 7h0m32 31h0m6 66h0m24 14h0m1-19h0m5 35h0m9-21h0m9 373h0m1 4h0m2-446h0m2 446h0m6-478h0m1 139h0m18-145h0m11-26h0m3 162h0m58-81h0m1 4h0m30-75h0m7-26h0m4 48h0m7-7h0m0 131h0m4 8h0m7-199h0m1 50h0m4-4h0m5-61h0m0 171h0m6-6h0m1-130h0m1 10h0m0 55h0m13-86h0m0 84h0m7 148h0m5-208h0m0 202h0m6-69h0m9-134h0m1 558h0m10-355h0m6-7h0m22-22h0m2-19h0" stroke="#80645F" stroke-width="8.6" stroke-linecap="round" fill="none"/><path transform="scale(.5)" d="M612 817h0m8-1h0m4-15h0m0 12h0m3-7h0m2 5h0m1 14h0m2-10h0m2 4h0m0 19h0m1-16h0m6 2h0m4-7h0m2 23h0m2-21h0" stroke="#9F5E4D" stroke-width="8.6" stroke-linecap="round" fill="none"/><path transform="scale(.5)" d="M353 638h0m3-29h0m3 13h0m0 28h0m1-23h0m0 16h0m4-31h0m3 45h0m0 4h0m1-48h0m0 5h0m0 20h0m1 27h0m4-3h0m4-1h0m1-32h0m3-33h0m1 73h0m1 8h0m0 7h0m2-10h0m1-41h0m0 10h0m0 38h0m0 7h0m2 175h0m1-240h0m0 59h0m2-43h0m0 32h0m0 10h0m1 12h0m1-67h0m0 49h0m1-21h0m1-51h0m0 75h0m1 1h0m1-10h0m2-35h0m0 252h0m1-271h0m2-5h0m0 8h0m5-9h0m4 4h0m5 292h0m1-290h0m7 98h0m3 8h0m5 207h0m6-324h0m0 51h0m5 65h0m5-20h0m7-52h0m2-67h0m10 143h0m6 212h0m3-309h0m0 32h0m1 35h0m16-40h0m10 109h0m8-180h0m0 268h0m0 126h0m5-23h0m7-279h0m6 263h0m1 55h0m7-50h0m5 52h0m3-377h0m1 365h0m4-42h0m1 33h0m1-52h0m2 33h0m2 13h0m3-5h0m0 12h0m1-8h0m1 46h0m5-48h0m6-3h0m0 17h0m7-14h0m1 9h0m2-14h0m1 35h0m0 9h0m3-6h0m1 25h0m0 8h0m1-56h0m0 9h0m2 41h0m1-8h0m2-54h0m0 25h0m0 38h0m1-10h0m3-58h0m0 14h0m1 5h0m0 54h0m4-37h0m3 4h0m1-26h0m3 31h0m4-17h0m1 48h0m2-27h0m0 16h0m2 13h0m1 12h0m2-53h0m2 26h0m2-5h0m0 8h0m3-18h0m105 131h0m29 8h0m8-6h0m10 35h0m4-25h0m2-5h0m2 10h0m12-11h0m11 23h0m1-14h0m54-412h0m2 4h0m5-1h0m7 19h0m3-6h0m1 7h0m5 11h0m1-4h0m3-2h0m0 9h0m2 9h0m1-20h0m5 17h0m3-8h0m4-1h0m32 57h0m206-100h0m5 3h0" stroke="#BE573B" stroke-width="8.6" stroke-linecap="round" fill="none"/><path transform="scale(.5)" d="M193 680h0m7 41h0m4-16h0m5 22h0m3 15h0m4 4h0m4-36h0m15 6h0m187-36h0m26-85h0m3-10h0m1 56h0m1 77h0m1-142h0m17 52h0m1 4h0m2 46h0m7-71h0m8 55h0m3 48h0m8-32h0m1 17h0m7-73h0m1 94h0m16-54h0m6-42h0m139 312h0m21 1h0m2 5h0m5-10h0m4 1h0m17 63h0m9-16h0m1 21h0m12 9h0m3-37h0m49-6h0m2-57h0m4 14h0m3-26h0m1-4h0m0 18h0m1-10h0m0 28h0m2-23h0m2 10h0m0 7h0m0 8h0m0 5h0m1 20h0m0 7h0m1 14h0m1-23h0m1-38h0m1 17h0m1-22h0m0 51h0m1-32h0m0 25h0m1-31h0m2 13h0m3-16h0m1 41h0m0 5h0m1-34h0m0 22h0m1-27h0m1-8h0m2 40h0m1-54h0m0 40h0m1-15h0m2-22h0m2 43h0m2 13h0m1-15h0m3-20h0m0 22h0m2-18h0m1 6h0m0 7h0m0 12h0m1-59h0m3 38h0m1-4h0m0 17h0m2-11h0m2-5h0m1-34h0m2 21h0m1 14h0m2-12h0m3 5h0m1-15h0m1 4h0m3 8h0m9-38h0m29 3h0" stroke="#299693" stroke-width="8.6" stroke-linecap="round" fill="none"/><path transform="scale(.5)" d="M192 670h0m3 41h0m9 12h0m24-12h0m149 268h0m3 6h0m10-9h0m0 9h0m0 4h0m5-6h0m6-6h0m1 17h0m1-24h0m0 19h0m5-1h0m21-265h0m35-27h0m0 25h0m0 7h0m6-2h0m17-98h0m4 252h0m3 2h0m1-167h0m0 5h0m4 168h0m2-36h0m1 5h0m25-186h0m2 12h0m163 82h0m44-13h0m0 11h0m1-28h0m6 63h0m1-61h0m0 5h0m1 8h0m6 49h0m5-12h0m5 25h0m1-16h0m2 15h0m2-56h0m1 38h0m2 18h0m2-44h0m1 48h0m4-65h0m0 57h0m1-36h0m1 50h0m5-33h0m2 20h0m12-116h0m0 69h0m2-10h0m5-18h0m2 9h0m2-50h0m2 2h0m2 39h0m4 39h0m3-75h0m5 28h0m1 9h0m4-11h0m1 18h0m14 5h0" stroke="#40AF86" stroke-width="8.6" stroke-linecap="round" fill="none"/><path transform="scale(.5)" d="M369 393h0m4-24h0m3 40h0m2-15h0m6-9h0m2-8h0m0 32h0m3 462h0m0 25h0m2-27h0m4-454h0m8 481h0m1-481h0m1 451h0m3-481h0m1 506h0m0 10h0m4-535h0m0 518h0m6 10h0m0 6h0m4-505h0m4 523h0m3-566h0m2 16h0m2 27h0m3 5h0m2-10h0m4-27h0m5 12h0m3 28h0m5-48h0m3-1h0m2 56h0m8 483h0m3 12h0m7 27h0m54 105h0m1 15h0m5-4h0m2-3h0m6-9h0m1-100h0m0 84h0m1 30h0m10-9h0m4-101h0m8 19h0m128-200h0m19-21h0m1-16h0m17 61h0m6 0h0m2-10h0m1-388h0m1 372h0m2-8h0m5-7h0m2 3h0m2-3h0m4 13h0m2 16h0m1-399h0m3 375h0m4 52h0m4-43h0m1-346h0m1 744h0m3-388h0m2-36h0m0 39h0m1-53h0m11 50h0m3-311h0m9 683h0m2-373h0m3 11h0m6 382h0m6-752h0m0 312h0m1-534h0m6-20h0m13 597h0m5-200h0m2-40h0m2 47h0m6-137h0m22 46h0m1 52h0m3 23h0m27-21h0m19 4h0m21 536h0m4-3h0m1-510h0m14 488h0m2-7h0m0 35h0m2-20h0m0 17h0m3-11h0m2-6h0m3-3h0m1-6h0m8 11h0m1-18h0m2-3h0m0 25h0m5-25h0m1-16h0m4-11h0m0 18h0m3-23h0m2-4h0m0 20h0m3-1h0m13-672h0m0 666h0m1-18h0m1-7h0m0 13h0m0 4h0m1 4h0m3 11h0m10-605h0m35 39h0m48 100h0m11 0h0" stroke="#55B27F" stroke-width="8.6" stroke-linecap="round" fill="none"/><path transform="scale(.5)" d="M543 226h0m6 12h0m3-15h0m0 11h0m2-27h0m1 34h0m1-15h0m1-27h0m1 38h0m6-8h0m4-21h0m1 21h0m1-19h0m1 7h0m0 9h0m2-17h0m0 14h0m2 7h0m3-27h0m0 21h0m1 4h0m2-16h0m0 12h0m2-15h0m2 11h0m0 10h0m2-5h0m11 9h0m3 17h0m1 25h0m1-37h0m0 32h0m1 16h0m1-32h0m1-28h0m1 5h0m1 9h0m1-11h0m0 36h0m0 31h0m2 3h0m1-34h0m2-24h0m1-22h0m2 41h0m0 97h0m0 10h0m2-50h0m1-62h0m0 78h0m1-107h0m0 78h0m2-74h0m0 11h0m0 4h0m0 24h0m0 4h0m0 8h0m0 51h0m0 19h0m1-61h0m0 7h0m0 39h0m1-120h0m0 11h0m0 35h0m2 76h0m1-49h0m0 24h0m3-67h0m0 71h0m1-85h0m0 43h0m1 8h0m0 18h0m1 9h0m1-73h0m0 49h0m1-36h0m2-7h0m0 4h0m0 11h0m0 59h0m1-93h0m0 51h0m1 6h0m0 8h0m1 3h0m1-29h0m1-14h0m0 22h0m1 4h0m4-51h0m0 9h0m0 26h0m3-18h0m0 11h0m1 26h0m1-5h0m0 39h0m1-94h0m0 36h0m1 5h0m0 40h0m0 9h0m0 13h0m1-44h0m3-40h0m0 45h0m2-27h0m0 56h0m1-85h0m0 43h0m0 23h0m0 25h0m1 5h0m1-119h0m0 87h0m1-67h0m1-9h0m0 68h0m2-53h0m0 30h0m2 35h0m1-72h0m0 28h0m1 5h0m2 47h0m0 4h0m1-73h0m1 15h0m1-39h0m0 86h0m1-43h0m0 6h0m0 6h0m0 19h0m0 23h0m1-67h0m1-33h0m0 19h0m1-4h0m2 28h0m2 37h0m1-21h0m1-18h0m0 30h0m1-48h0m1 5h0m0 5h0m0 10h0m3-34h0m0 72h0m3-64h0m2 20h0m3-26h0m0 25h0m8 523h0m14-31h0m5 9h0m16 35h0m6-17h0m8 40h0m7-74h0m41 42h0m37-42h0m3 24h0" stroke="#319F8E" stroke-width="8.6" stroke-linecap="round" fill="none"/><path transform="scale(.5)" d="M200 686h0m3 6h0m10 41h0m5 1h0m181 102h0m3-20h0m0 6h0m2 4h0m5 3h0m6 16h0m9-26h0m73-224h0m0 122h0m6-89h0m9-2h0m40 11h0m208-246h0m43 285h0m7-16h0m18-212h0m22 66h0m23-42h0m6 31h0m1 43h0m12 21h0m12 11h0m7-3h0m8-102h0m3 57h0m13-115h0m6-26h0m2 88h0m2-67h0m8-12h0m1 139h0m3-141h0m2 38h0m23-44h0m50 87h0m8 3h0m34-131h0m4 63h0m10-23h0m1 48h0m7 102h0m7-174h0m2 198h0m3-147h0m24 136h0m1 21h0m13 17h0m2-26h0m16 0h0m8-31h0" stroke="#616A72" stroke-width="8.6" stroke-linecap="round" fill="none"/><path transform="scale(.5)" d="M618 808h0m1 12h0m3-10h0m3-1h0m0 12h0m2 6h0m4 3h0m3-3h0m1 9h0m1-6h0m3-12h0m2-2h0m0 26h0m4-18h0m7-1h0m2-4h0m0 10h0m3-1h0m173-628h0" stroke="#9F5E4D" stroke-width="8.6" stroke-linecap="round" fill="none"/><path transform="scale(.5)" d="M206 710h0m20-24h0m3 44h0m8 16h0m172 93h0m18-10h0m33-242h0m6 132h0m19-59h0m13 8h0m3-88h0m3 106h0m15-103h0m21 15h0m256-195h0m9 266h0m0 9h0m5-23h0m32-113h0m24 23h0m9-27h0m2 34h0m5-5h0m4-36h0m26 5h0m6 8h0m2-148h0m0 22h0m8 136h0m9 5h0m0 13h0m6-180h0m4 194h0m28-80h0m9-16h0m4-39h0m74-22h0m2 123h0m3-37h0m5 41h0m1 19h0m3-57h0m5 70h0m16-22h0m1-210h0m2 188h0m8-138h0m3-24h0m1 153h0m33-21h0m0 5h0m6 69h0m16-27h0" stroke="#616A72" stroke-width="8.6" stroke-linecap="round" fill="none"/><path transform="scale(.5)" d="M832 183h0m14 2h0" stroke="#8CB271" stroke-width="8.6" stroke-linecap="round" fill="none"/><path transform="scale(.5)" d="M387 828h0m2-5h0m5 2h0m8-21h0m13 33h0m2-16h0m4-5h0m1 34h0m5-9h0m20-137h0m26 16h0m207 118h0m2 6h0m23 19h0m3-6h0m13-488h0m50 358h0m12-48h0m5-302h0m1 50h0m5-18h0m2 343h0m11-93h0m3-210h0m3 193h0m1 4h0m1 8h0m6-463h0m2 495h0m1-488h0m12 6h0m10-8h0m159 837h0" stroke="#427084" stroke-width="8.6" stroke-linecap="round" fill="none"/><path transform="scale(.5)" d="M377 385h0m2-7h0m0 494h0m2-5h0m6 18h0m2-456h0m2-78h0m5 36h0m0 6h0m1 497h0m1 3h0m1-504h0m1-21h0m0 528h0m2 8h0m5-528h0m2 36h0m3-22h0m2 23h0m1-33h0m1 560h0m2-533h0m3-36h0m2-21h0m3 550h0m0 8h0m1-20h0m5-531h0m1 34h0m3-49h0m17 42h0m2 532h0m2 7h0m7-511h0m2 4h0m4 466h0m40 54h0m10 19h0m4 73h0m3-7h0m0 4h0m4-65h0m9 62h0m3 27h0m2-82h0m0 87h0m4 4h0m159-300h0m2-36h0m4 4h0m0 11h0m5-11h0m13 56h0m9-53h0m4-375h0m1 368h0m3 35h0m1-22h0m1-325h0m1 393h0m4-6h0m2-27h0m1-25h0m1 410h0m1-17h0m2 11h0m4 1h0m6 4h0m2-388h0m2 400h0m3-419h0m0 35h0m8-60h0m2-314h0m9 307h0m1 423h0m6-733h0m3 325h0m0 433h0m1-14h0m1-425h0m14 22h0m3-571h0m1 570h0m3-9h0m5-5h0m0 13h0m5 7h0m12-330h0m41 133h0m54-15h0m7 519h0m1 4h0m2-7h0m1-6h0m0 20h0m3-11h0m1-7h0m0 22h0m1-4h0m3-605h0m0 578h0m1 25h0m9-25h0m2 5h0m5 11h0m0 8h0m1-5h0m1-15h0m2-8h0m2 24h0m3-15h0m6 3h0m1-21h0m7-20h0m1 20h0m2-27h0m2 4h0m7-6h0m2 8h0m9-3h0m26-469h0m1-160h0m0 165h0m8 25h0m8-19h0m22-1h0m14-26h0m1 62h0m54-59h0m14 30h0" stroke="#55B27F" stroke-width="8.6" stroke-linecap="round" fill="none"/><path transform="scale(.5)" d="M195 683h0m3-11h0m0 45h0m11-32h0m2 23h0m1 21h0m0 8h0m2-69h0m0 58h0m1-21h0m2-15h0m2 2h0m1-23h0m3 26h0m3 28h0m3-25h0m153 179h0m23-65h0m2 73h0m20-7h0m1-169h0m2-47h0m5-78h0m1 131h0m2-67h0m4 8h0m5-70h0m5-7h0m2 127h0m1-106h0m13 117h0m3 25h0m1-5h0m6-167h0m1 127h0m5-29h0m7 9h0m1-107h0m0 36h0m0 57h0m1-37h0m2 81h0m3 47h0m8 184h0m20-241h0m2 267h0m7-289h0m0 312h0m6-41h0m2 5h0m4-21h0m2 78h0m19-67h0m137 251h0m5-10h0m5-225h0m5 2h0m0 7h0m8-6h0m16 43h0m21 140h0m16 4h0m2 22h0m28-8h0m39-615h0m2 19h0m11-18h0m6-1h0m8 332h0m4-365h0m2 368h0m4-6h0m2-308h0m8-96h0m24-57h0m4 432h0m8-290h0m8-109h0m0 34h0m6-63h0m1 421h0m2 15h0m1-286h0m1-164h0m2 457h0m7-11h0m2-26h0m0 32h0m1-14h0m1-375h0m3 382h0m2-7h0m1-3h0m4-84h0m0 96h0m4-95h0m1 10h0m0 6h0m2 62h0m4-10h0m1-32h0m0 12h0m1-40h0m0 15h0m0 59h0m1-97h0m0 48h0m1-44h0m0 87h0m1-79h0m1-5h0m0 96h0m0 7h0m1-16h0m1-66h0m1-15h0m0 43h0m1-52h0m0 36h0m0 60h0m1-343h0m1 287h0m0 8h0m0 41h0m1-56h0m0 65h0m1-89h0m2 56h0m1-68h0m0 37h0m0 25h0m0 38h0m1-72h0m1-25h0m0 92h0m1-89h0m0 16h0m0 66h0m1-50h0m0 9h0m1 59h0m1-98h0m0 7h0m0 20h0m1-31h0m0 18h0m0 47h0m0 15h0m1-92h0m0 102h0m1-75h0m0 13h0m2-43h0m3 38h0m0 59h0m0 6h0m1-59h0m0 19h0m1-58h0m0 48h0m0 29h0m2-48h0m0 3h0m0 28h0m1-23h0m0 7h0m0 9h0m1-32h0m0 56h0m0 3h0m0 19h0m1-100h0m0 7h0m0 89h0m1-85h0m0 18h0m0 44h0m1-53h0m0 40h0m2-60h0m1 12h0m2 19h0m1-43h0m0 9h0m0 18h0m0 7h0m1-18h0m0 106h0m1-92h0m0 34h0m1-45h0m1 16h0m0 24h0m2-30h0m0 13h0m0 80h0m3-55h0m1-33h0m0 13h0m0 16h0m1-12h0m4-7h0m5-1h0m11-246h0m2 253h0m1-3h0m4-10h0m3 7h0m1-7h0m3-212h0m0 33h0m18-31h0m2-14h0m8 235h0m3-6h0m4-19h0m1 9h0m3 32h0m1-250h0m0 226h0m0 16h0m4-5h0m0 12h0m1-21h0m1 14h0m3-198h0m0 183h0m1-20h0m1 24h0m0 4h0m1-181h0m0 158h0m1 13h0m1 16h0m1-10h0m1-4h0m3-205h0m1 196h0m1-10h0m1-227h0m0 255h0m1 12h0m1-15h0m3-14h0m1 29h0m1-26h0m2-173h0m0 177h0m1 21h0m1-7h0m3 3h0m1-24h0m2-9h0m3 1h0m2 15h0m1-9h0m1 18h0m7-206h0m10-24h0" stroke="#218E98" stroke-width="8.6" stroke-linecap="round" fill="none"/><path transform="scale(.5)" d="M380 390h0m10-14h0m25-38h0m0 6h0m3 56h0m1-23h0m9-12h0m13-18h0m0 22h0m21 36h0m5-6h0m8 9h0m0 6h0m44 567h0m2-561h0m1 5h0m1 618h0m2-623h0m0 628h0m1 7h0m4-74h0m0 53h0m0 5h0m1-19h0m4-42h0m1 37h0m1 18h0m1-20h0m2 28h0m1 12h0m3-647h0m0 623h0m0 33h0m2-30h0m2-7h0m1-532h0m1-5h0m1 547h0m0 18h0m1-635h0m0 607h0m1-537h0m1 524h0m0 8h0m1-621h0m0 598h0m1-507h0m0 518h0m1-593h0m0 610h0m2-5h0m1 1h0m0 12h0m3-622h0m0 633h0m2-628h0m2-21h0m4-2h0m2 622h0m1-622h0m1 3h0m1 19h0m2-10h0m1 10h0m3-16h0m1 18h0m3-26h0m1 31h0m1-28h0m2-2h0m1 18h0m1-6h0m1 16h0m2-32h0m0 38h0m1-20h0m2-9h0m0 21h0m2-18h0m0 8h0m5-13h0m1 18h0m1 17h0m1-8h0m1 11h0m1-34h0m1 18h0m6 14h0m2-10h0m3 8h0m1-9h0m0 15h0m4-52h0m1 47h0m1-19h0m0 14h0m1 8h0m0 9h0m2-42h0m0 7h0m15 42h0m89 689h0m21 14h0m21 6h0m248-161h0" stroke="#71B278" stroke-width="8.6" stroke-linecap="round" fill="none"/><path transform="scale(.5)" d="M191 677h0m0 1h0m3-2h0m1 21h0m6 11h0m9 7h0m6 15h0m0 10h0m10-49h0m6 61h0m2-15h0m150 131h0m2-513h0m5 17h0m2 288h0m4-22h0m5-220h0m0 412h0m0 62h0m3-4h0m2-46h0m0 66h0m5-529h0m1 446h0m0 69h0m3 52h0m1-33h0m1-563h0m0 475h0m1 53h0m2 31h0m0 31h0m1-50h0m1-55h0m8-437h0m0 519h0m2 30h0m1-599h0m3 7h0m2 354h0m1-17h0m3-317h0m0 326h0m2-36h0m0 11h0m2-331h0m5 61h0m1 304h0m1-310h0m3-22h0m1 341h0m1-85h0m4 72h0m1-343h0m5 51h0m3 160h0m8 82h0m2 66h0m1-51h0m9-29h0m2-53h0m2 75h0m2 29h0m2-109h0m1 106h0m2 61h0m1-112h0m2 116h0m1-121h0m3 44h0m5 270h0m2-325h0m2 335h0m1-349h0m0 48h0m8 302h0m1-12h0m1-338h0m5 9h0m5 15h0m13 294h0m0 19h0m0 13h0m4 21h0m1-345h0m3 297h0m1-298h0m2 309h0m133-90h0m3 20h0m2-108h0m0 71h0m1-110h0m10 23h0m10-388h0m0 19h0m13 12h0m2-22h0m0 17h0m3 752h0m1-713h0m2 719h0m2-3h0m3-773h0m1 773h0m2-736h0m1-40h0m0 12h0m1 25h0m1-30h0m1 36h0m0 284h0m1-330h0m2 32h0m4-16h0m1-13h0m0 44h0m2 380h0m1-362h0m3-52h0m3 12h0m5 782h0m1-797h0m1 322h0m2-300h0m0 26h0m2 287h0m1-302h0m0 33h0m3-23h0m0 298h0m1-291h0m1 7h0m1 308h0m4-318h0m4-6h0m2 3h0m7 280h0m7-290h0m0 47h0m0 225h0m1-229h0m1-20h0m1 27h0m1-47h0m1 4h0m1 27h0m1 289h0m3-314h0m0 49h0m5-20h0m3-4h0m2-45h0m3 43h0m3-6h0m3 92h0m4-86h0m0 10h0m10 69h0m0 9h0m7-85h0m5 82h0m1-14h0m7-40h0m2 39h0m1 17h0m6 8h0m2-137h0m3 70h0m0 93h0m2-169h0m0 85h0m10 58h0m10-106h0m0 149h0m6-44h0m5-74h0m6 102h0m1-203h0m2 39h0m1 170h0m4-187h0m0 217h0m1-210h0m3 99h0m6 60h0m0 70h0m4-205h0m3 187h0m0 3h0m2-120h0m1-5h0m0 115h0m5-133h0m1 99h0m4 99h0m11-165h0m15 505h0m2 5h0m2-501h0m1 499h0m8 16h0m3-556h0m6 9h0m7-99h0m9 43h0m7-2h0m1-65h0m1 16h0m3-7h0m0 5h0m2 65h0m1-69h0m0 16h0m0 36h0m4 62h0m2-104h0m1 72h0m1-76h0m2 200h0m3-17h0m0 24h0m4-225h0m8 82h0m1-58h0m0 170h0m0 30h0m3-196h0m3 47h0m0 128h0m1-24h0m5 46h0m1-133h0m2 82h0m1-151h0m0 197h0m0 17h0m4-129h0m0 65h0m2 45h0m3 24h0m2-210h0m2 140h0m3-103h0m4 136h0m6-25h0m1 58h0m0 371h0m3-12h0m0 7h0m4 22h0m1-404h0m1-45h0m6 430h0m8 8h0m1 6h0m6-417h0m5 8h0m2 8h0m16-7h0m2 4h0" stroke="#127EA0" stroke-width="8.6" stroke-linecap="round" fill="none"/><path transform="scale(.5)" d="M381 383h0m2 5h0m19 486h0m5-2h0m8 48h0m6-205h0m8-335h0m5 212h0m3 125h0m2-135h0m1 356h0m2-258h0m6-103h0m0 99h0m0 8h0m13-65h0m1 59h0m0 245h0m1-184h0m2 183h0m2-267h0m2-21h0m1 39h0m3-53h0m6-17h0m0 86h0m1-77h0m2 122h0m3-56h0m5 38h0m1-143h0m0 140h0m9-29h0m3-108h0m0 134h0m6-57h0m2-36h0m1 15h0m4 327h0m1-304h0m0 28h0m5-87h0m0 383h0m2 8h0m5-288h0m2 10h0m1-31h0m2 30h0m2-69h0m2 292h0m12-287h0m4-12h0m2 289h0m1 94h0m1-32h0m3-29h0m3 57h0m2-376h0m3 393h0m2 4h0m90-434h0m2 8h0m3-6h0m0 4h0m1-20h0m3 26h0m1-9h0m7-17h0m0 22h0m3 5h0m2-31h0m4 17h0m2 14h0m0 5h0m5-23h0m5 9h0m5-12h0m2 32h0m0 40h0m1 7h0m1-70h0m0 57h0m1 530h0m2-590h0m0 63h0m0 4h0m0 6h0m0 192h0m1-201h0m1-8h0m2-57h0m2 69h0m1 3h0m1 3h0m1-54h0m0 31h0m2-40h0m2 6h0m1 42h0m1-26h0m1-9h0m3 8h0m4 22h0m6-283h0m5 6h0m15-13h0m13 61h0m1 273h0m12-282h0m27 265h0m36-148h0m9-86h0m7 87h0m8 41h0m3-4h0m11-49h0m3 5h0m9 18h0m9 357h0m14 10h0m1-480h0m15-38h0m11 20h0m70 47h0m34-77h0m1 80h0m16 118h0m1-159h0m1-48h0m1 10h0m3 204h0m2-224h0m1-17h0m3 50h0m0 144h0m2-94h0m3-3h0m0 130h0m2-173h0m0 14h0m1-4h0m13-2h0m1 185h0m4-215h0m2-4h0m2 36h0m0 182h0m4 373h0m4-578h0m3 130h0m3 54h0m0 7h0m1 371h0m1-362h0m1-19h0m10 5h0m2-34h0m3 31h0" stroke="#80645F" stroke-width="8.6" stroke-linecap="round" fill="none"/><path transform="scale(.5)" d="M366 383h0m38-5h0m10-8h0m5-16h0m12 8h0m16 0h0m185 107h0m93-81h0m8 9h0m5-35h0m0 16h0m1 5h0m13-30h0m7 64h0m6-57h0m1 47h0m4 17h0m10-42h0m13 35h0m13 12h0m4-20h0m16-214h0m3 262h0m16-295h0m1 299h0m29-6h0m11-60h0m21 73h0m33-94h0m3 7h0m5-11h0m3 61h0m7 14h0m2 22h0m11-6h0m3-11h0m18-3h0m8 44h0m15-19h0m5-1h0m7-113h0m0 123h0m16-58h0m5-27h0m21-64h0m1 73h0m2 31h0m40-2h0m9 520h0" stroke="#247796" stroke-width="8.6" stroke-linecap="round" fill="none"/><path transform="scale(.5)" d="M356 636h0m5-33h0m0 45h0m0 6h0m4-49h0m0 44h0m1-47h0m4 21h0m1-13h0m1 37h0m2-14h0m2-33h0m0 5h0m0 7h0m2 29h0m0 50h0m1-88h0m1 10h0m1 46h0m0 22h0m1-78h0m1 60h0m1-56h0m1-16h0m1 34h0m0 65h0m1-36h0m0 17h0m1-61h0m1 49h0m1-63h0m1 56h0m4-35h0m0 56h0m1-61h0m0 11h0m1 256h0m1-260h0m0 40h0m4 6h0m1-68h0m6 20h0m6 3h0m20 87h0m3-63h0m2 60h0m1-103h0m0 121h0m1-114h0m1 120h0m5-145h0m1 127h0m1 20h0m5 9h0m1-24h0m5 13h0m6-47h0m0 12h0m1-100h0m2 97h0m2 4h0m3 4h0m3-46h0m1 296h0m1-187h0m2-17h0m2-94h0m4 16h0m3 67h0m2 21h0m0 236h0m1-375h0m8 243h0m1-237h0m0 95h0m3 143h0m2-178h0m2 266h0m0 43h0m14-322h0m0 327h0m6-391h0m7-11h0m2 360h0m5-26h0m2-296h0m1 318h0m0 5h0m1 5h0m2-34h0m7 4h0m8 4h0m0 37h0m2-19h0m0 17h0m0 9h0m2-5h0m0 17h0m2-46h0m1 64h0m2-22h0m1-20h0m2-6h0m0 39h0m1-22h0m0 5h0m5-16h0m5 54h0m6-43h0m0 19h0m0 26h0m2-9h0m2-47h0m0 25h0m3-21h0m1 3h0m0 43h0m1-34h0m0 20h0m10 14h0m1-24h0m0 20h0m1 27h0m1-37h0m2-7h0m0 4h0m2 14h0m0 19h0m1-6h0m3-17h0m5 24h0m2-23h0m120 138h0m15-7h0m3 23h0m2 4h0m3-10h0m3-13h0m0 5h0m10 23h0m7-21h0m9 1h0m4 17h0m65-415h0m5-6h0m6 5h0m5 15h0m2-4h0m5 28h0m2-17h0m1 4h0m2 12h0m2-20h0m2 15h0m237-54h0" stroke="#BE573B" stroke-width="8.6" stroke-linecap="round" fill="none"/><path transform="scale(.5)" d="M195 668h0m5 1h0m22 45h0m2-43h0m0 30h0m1 26h0m6-14h0m1 15h0m192-21h0m14-100h0m18 80h0m5-2h0m15-49h0m5 44h0m14 16h0m1 8h0m0 17h0m5-66h0m12 24h0m1-63h0m10 87h0m41-38h0m109 266h0m0 6h0m19-11h0m6 9h0m2-9h0m9 7h0m7 18h0m6 2h0m1 27h0m2-9h0m0 11h0m1-15h0m5-3h0m1 14h0m2 15h0m1-15h0m1 3h0m2 21h0m2-12h0m45-90h0m6-4h0m2-4h0m1 4h0m4-5h0m0 8h0m0 10h0m1-24h0m1 38h0m2-22h0m0 49h0m0 4h0m3-63h0m3 89h0m1-82h0m2-8h0m0 48h0m1 26h0m2-17h0m0 23h0m1-69h0m1 10h0m0 46h0m1-18h0m1-37h0m3 33h0m4-7h0m1 11h0m2 14h0m1-60h0m1 31h0m1-4h0m0 39h0m2-69h0m3 1h0m0 67h0m1-24h0m1 18h0m1-41h0m1 7h0m1 10h0m1-13h0m1-7h0m0 18h0m0 6h0m2-40h0m0 62h0m1-39h0m3-15h0m1 6h0m5 0h0m2-4h0m0 9h0m3 10h0m1-21h0m5-15h0m2 4h0m7-16h0m6 18h0m17-1h0m13 0h0" stroke="#299693" stroke-width="8.6" stroke-linecap="round" fill="none"/><path transform="scale(.5)" d="M452 594h0m2 133h0m3-74h0m8-56h0m24 52h0m4-10h0m0 78h0m0 157h0m3-192h0m9-31h0m28 53h0m1-22h0m8-12h0m221 25h0m22 9h0m7-6h0m8 0h0m23-26h0m27-220h0m26 96h0m15-30h0m7 19h0m23 38h0m13-23h0m26 3h0m82-135h0m8-35h0m1-25h0m6-2h0m5-25h0m6 7h0m24 42h0m1 9h0" stroke="#39A78A" stroke-width="8.6" stroke-linecap="round" fill="none"/><path transform="scale(.5)" d="M362 392h0m11-28h0m62-2h0m23 29h0m257-24h0m6-12h0m2 3h0m6 26h0m6-29h0m8 34h0m5-9h0m3 403h0m3-394h0m3 16h0m4 1h0m2-3h0m3-21h0m2 342h0m2-330h0m1 33h0m6 0h0m0 359h0m6-408h0m2 51h0m10 307h0m1-330h0m8 360h0m2-354h0m1 40h0m7-30h0m10-10h0m1-3h0m1 44h0m0 8h0m4-289h0m3 6h0m4 1h0m0 354h0m3-15h0m1 10h0m1-334h0m0 257h0m4 92h0m2-4h0m7-92h0m0 5h0m3 56h0m2-56h0m0 4h0m0 102h0m2-31h0m1-15h0m0 12h0m3 37h0m3-31h0m7 30h0m17-34h0m1 7h0m1-79h0m4 80h0m0 14h0m13-3h0m2-76h0m2 71h0m1-83h0m1 10h0m0 70h0m4 27h0m1-111h0m0 87h0m1-65h0m6 65h0m5-163h0m1 186h0m2-96h0m0 98h0m1-28h0m1 67h0m3 21h0m1-60h0m0 13h0m2-36h0m2-108h0m3-43h0m2 180h0m2-3h0m6-3h0m4-77h0m1-15h0m3 31h0m2-20h0m1 16h0m7-40h0m3-10h0m14 43h0m3-41h0m0 43h0m7-12h0m16-28h0m1-95h0m4 37h0m12 75h0m1-90h0m1 87h0m5-128h0m7 47h0m4 6h0m0 48h0m2-38h0m1 154h0m5-165h0m1 139h0m4-137h0m0 118h0m4-70h0m0 72h0m5-85h0m2 131h0m2-20h0m3 37h0m4-23h0m0 20h0m4-40h0m1-24h0m1 46h0m5 14h0m1-48h0m2-75h0m0 101h0m2-3h0m0 39h0m2-18h0m1-144h0m0 154h0m1-47h0m1 64h0m2-40h0m3-25h0m2 34h0m0 32h0m3-62h0m0 58h0m3-212h0m2 177h0m5 20h0m1-51h0m7 16h0m2 33h0m8-58h0m0 19h0m0 36h0m2-52h0m1 51h0m2-38h0m3 5h0m0 15h0m1-3h0m1 17h0m1-10h0m1-23h0m3-2h0m0 23h0m0 29h0m1-33h0m0 25h0m2-4h0m2-18h0m0 22h0m1-31h0m8 16h0m1-22h0" stroke="#19869C" stroke-width="8.6" stroke-linecap="round" fill="none"/><path transform="scale(.5)" d="M375 381h0m34 1h0m7 28h0m20-42h0m22 27h0m292 21h0m82 9h0m42 139h0m5 12h0m30-52h0m51-86h0m83 28h0m1-92h0m1-26h0m0 124h0m20-63h0m9 179h0m2-236h0m4 231h0m13-226h0m16 92h0m25 119h0" stroke="#DD5129" stroke-width="8.6" stroke-linecap="round" fill="none"/><path transform="scale(.5)" d="M538 226h0m6-4h0m0 15h0m2-24h0m2 12h0m1-4h0m0 9h0m1-14h0m3 3h0m0 9h0m4 5h0m3 0h0m1-16h0m1-4h0m1 25h0m2-14h0m16 8h0m3-29h0m13 42h0m1-6h0m1 9h0m3 32h0m1-45h0m1 15h0m1 56h0m4-45h0m0 28h0m4-52h0m1 106h0m1-78h0m0 96h0m1-69h0m1-62h0m0 16h0m0 49h0m0 7h0m2-13h0m1-12h0m0 22h0m3-47h0m0 90h0m2-26h0m0 4h0m3-13h0m1-79h0m0 55h0m0 20h0m1-82h0m1 20h0m0 20h0m0 19h0m1-13h0m0 4h0m1 46h0m1-96h0m0 71h0m2-78h0m0 27h0m1 29h0m1-6h0m1-29h0m4 23h0m0 54h0m0 4h0m3 0h0m2-13h0m1-89h0m0 36h0m0 76h0m1-119h0m0 65h0m1 37h0m1-93h0m0 43h0m0 64h0m3-37h0m1-79h0m0 20h0m0 30h0m1-54h0m0 46h0m0 63h0m1-99h0m0 60h0m0 34h0m1-45h0m0 17h0m0 20h0m0 5h0m1 20h0m2-125h0m1 39h0m0 6h0m0 42h0m1-68h0m2 38h0m0 31h0m1-90h0m0 6h0m0 40h0m0 7h0m0 51h0m1-64h0m2-18h0m1-10h0m0 89h0m4 12h0m1-104h0m0 16h0m0 67h0m3 13h0m1-25h0m0 13h0m2-77h0m0 50h0m1-25h0m1 56h0m1-34h0m1-40h0m0 70h0m2-81h0m1 66h0m1-50h0m2 70h0m1-11h0m1-50h0m0 4h0m1-25h0m0 8h0m4 17h0m3 18h0m1-13h0m2-36h0m11 555h0m13-27h0m5 3h0m37 25h0m4-39h0m4 68h0" stroke="#319F8E" stroke-width="8.6" stroke-linecap="round" fill="none"/><path transform="scale(.5)" d="M189 687h0m6-26h0m192 328h0m3-23h0m3 19h0m1-8h0m1-11h0m2-4h0m0 28h0m2-23h0m3 14h0m1-14h0m4 6h0m25-272h0m4-113h0m1-10h0m9 136h0m38 138h0m4 0h0m0 9h0m1 24h0m1-9h0m1-28h0m0 7h0m3 22h0m1-26h0m0 40h0m3-254h0m0 220h0m5-8h0m1 31h0m3-33h0m4 26h0m8-202h0m28-46h0m160 126h0m5-20h0m1 23h0m7 15h0m4-26h0m31 8h0m1 31h0m3-98h0m0 46h0m0 6h0m4 31h0m10 44h0m2-66h0m3 52h0m1-78h0m1 55h0m2 33h0m1 11h0m1-14h0m3-122h0m0 99h0m6-94h0m0 75h0m1 28h0m2-109h0m0 25h0m0 34h0m0 8h0m1-28h0m2 22h0m3 5h0m1-66h0m0 48h0m1-27h0m5 4h0m1-6h0m2 69h0m1-28h0m1-54h0m5 72h0m18-23h0m4 7h0" stroke="#40AF86" stroke-width="8.6" stroke-linecap="round" fill="none"/><path transform="scale(.5)" d="M182 667h0m4 16h0m1-8h0m23-7h0m3 34h0m150-300h0m45 480h0m9-11h0m3-484h0m0 487h0m4 39h0m8-538h0m6 514h0m9-288h0m15-207h0m0 502h0m11-6h0m3 15h0m1 10h0m2-204h0m11-20h0m12-59h0m38-16h0m2 371h0m18 22h0m17-3h0m153-278h0m43 64h0m37-51h0m8 8h0m120-166h0m1 65h0m8-58h0m3 20h0m0 17h0m0 15h0m1-9h0m6-28h0m7-6h0m128 355h0m7-2h0" stroke="#A8B26A" stroke-width="8.6" stroke-linecap="round" fill="none"/><text x="353.3" y="119.6" font-size="19.4" text-anchor="middle" fill="#000">HNSCC20</text><text x="446.2" y="180.9" font-size="19.4" text-anchor="middle" fill="#000">HNSCC10</text><text x="504.7" y="218.9" font-size="19.4" text-anchor="middle" fill="#000">HNSCC23</text><text x="282.3" y="235.2" font-size="19.4" text-anchor="middle" fill="#000">HNSCC6</text><text x="481.2" y="245.2" font-size="19.4" text-anchor="middle" fill="#000">HNSCC12</text><text x="518" y="273.6" font-size="19.4" text-anchor="middle" fill="#000">HNSCC</text><text x="398.3" y="291.9" font-size="19.4" text-anchor="middle" fill="#000">HNSCC16</text><text x="379.5" y="300.2" font-size="19.4" text-anchor="middle" fill="#000">HNSCC25</text><text x="279.7" y="310.2" font-size="19.4" text-anchor="middle" fill="#000">HNSCC8</text><text x="391.7" y="357.9" font-size="19.4" text-anchor="middle" fill="#000">HNSCC22</text><text x="482" y="363.6" font-size="19.4" text-anchor="middle" fill="#000">HNSCC13</text><text x="296.2" y="373.6" font-size="19.4" text-anchor="middle" fill="#000">HNSCC28</text><text x="344.7" y="398.6" font-size="19.4" text-anchor="middle" fill="#000">HNSCC26</text><text x="406.7" y="404.2" font-size="19.4" text-anchor="middle" fill="#000">HNSCC5</text><text x="538.3" y="403.6" font-size="19.4" text-anchor="middle" fill="#000">HNSCC17</text><text x="243.8" y="421.9" font-size="19.4" text-anchor="middle" fill="#000">HNSCC24</text><text x="387.5" y="442.6" font-size="19.4" text-anchor="middle" fill="#000">HNSCC7</text><text x="455" y="448.6" font-size="19.4" text-anchor="middle" fill="#000">HNSCC18</text><circle cx="652.6" cy="61.8" r="7.5" fill="#DD5129"/><text x="673.9" y="67.7" font-size="19.8" text-anchor="start" fill="#000">HNSCC23</text><circle cx="652.6" cy="88.9" r="7.5" fill="#BE573B"/><text x="673.9" y="94.8" font-size="19.8" text-anchor="start" fill="#000">HNSCC28</text><circle cx="652.6" cy="116.1" r="7.5" fill="#9F5E4D"/><text x="673.9" y="122" font-size="19.8" text-anchor="start" fill="#000">HNSCC26</text><circle cx="652.6" cy="143.2" r="7.5" fill="#80645F"/><text x="673.9" y="149.1" font-size="19.8" text-anchor="start" fill="#000">HNSCC25</text><circle cx="652.6" cy="170.4" r="7.5" fill="#616A72"/><text x="673.9" y="176.3" font-size="19.8" text-anchor="start" fill="#000">HNSCC</text><circle cx="652.6" cy="197.6" r="7.5" fill="#427084"/><text x="673.9" y="203.4" font-size="19.8" text-anchor="start" fill="#000">HNSCC10</text><circle cx="652.6" cy="224.7" r="7.5" fill="#247796"/><text x="673.9" y="230.6" font-size="19.8" text-anchor="start" fill="#000">HNSCC12</text><circle cx="652.6" cy="251.8" r="7.5" fill="#127EA0"/><text x="673.9" y="257.7" font-size="19.8" text-anchor="start" fill="#000">HNSCC13</text><circle cx="652.6" cy="279" r="7.5" fill="#19869C"/><text x="673.9" y="284.9" font-size="19.8" text-anchor="start" fill="#000">HNSCC16</text><circle cx="652.6" cy="306.1" r="7.5" fill="#218E98"/><text x="673.9" y="312" font-size="19.8" text-anchor="start" fill="#000">HNSCC17</text><circle cx="652.6" cy="333.3" r="7.5" fill="#299693"/><text x="673.9" y="339.2" font-size="19.8" text-anchor="start" fill="#000">HNSCC18</text><circle cx="652.6" cy="360.4" r="7.5" fill="#319F8E"/><text x="673.9" y="366.3" font-size="19.8" text-anchor="start" fill="#000">HNSCC20</text><circle cx="652.6" cy="387.6" r="7.5" fill="#39A78A"/><text x="673.9" y="393.5" font-size="19.8" text-anchor="start" fill="#000">HNSCC22</text><circle cx="652.6" cy="414.8" r="7.5" fill="#40AF86"/><text x="673.9" y="420.6" font-size="19.8" text-anchor="start" fill="#000">HNSCC24</text><circle cx="652.6" cy="441.9" r="7.5" fill="#55B27F"/><text x="673.9" y="447.8" font-size="19.8" text-anchor="start" fill="#000">HNSCC5</text><circle cx="652.6" cy="469.1" r="7.5" fill="#71B278"/><text x="673.9" y="474.9" font-size="19.8" text-anchor="start" fill="#000">HNSCC6</text><circle cx="652.6" cy="496.2" r="7.5" fill="#8CB271"/><text x="673.9" y="502.1" font-size="19.8" text-anchor="start" fill="#000">HNSCC7</text><circle cx="652.6" cy="523.3" r="7.5" fill="#A8B26A"/><text x="673.9" y="529.2" font-size="19.8" text-anchor="start" fill="#000">HNSCC8</text></g>
<g id="pC"><rect x="144" y="794.5" width="48.45" height="12.3" fill="#DD5129"/><rect x="193.6" y="794.5" width="45.90" height="12.3" fill="#BB583D"/><rect x="240.6" y="794.5" width="40.90" height="12.3" fill="#985F51"/><rect x="282.6" y="794.5" width="30.90" height="12.3" fill="#766666"/><rect x="314.6" y="794.5" width="28.90" height="12.3" fill="#546D7A"/><rect x="344.6" y="794.5" width="26.90" height="12.3" fill="#31748E"/><rect x="372.6" y="794.5" width="24.90" height="12.3" fill="#0F7BA2"/><rect x="398.6" y="794.5" width="20.90" height="12.3" fill="#18849D"/><rect x="420.6" y="794.5" width="16.90" height="12.3" fill="#208D98"/><rect x="438.6" y="794.5" width="16.90" height="12.3" fill="#299693"/><rect x="456.6" y="794.5" width="12.90" height="12.3" fill="#32A08E"/><rect x="470.6" y="794.5" width="12.90" height="12.3" fill="#3AA989"/><rect x="484.6" y="794.5" width="10.90" height="12.3" fill="#43B284"/><rect x="496.6" y="794.5" width="9.90" height="12.3" fill="#61B27C"/><rect x="507.6" y="794.5" width="9.90" height="12.3" fill="#80B274"/><rect x="518.5" y="794.5" width="9.90" height="12.3" fill="#9EB26C"/><rect x="529.5" y="794.5" width="5.90" height="12.3" fill="#BDB265"/><rect x="536.5" y="794.5" width="4.90" height="12.3" fill="#DCB25D"/><rect x="542.5" y="794.5" width="2.85" height="12.3" fill="#FAB255"/><rect x="144.0" y="817.5" width="401.0" height="616.36" fill="#d400d4"/><defs><filter id="hb" x="141.0" y="814.5" width="407.0" height="622.36" filterUnits="userSpaceOnUse"><feGaussianBlur stdDeviation="0.55 0"/></filter><clipPath id="hc"><rect x="144.0" y="817.5" width="401.0" height="616.36"/></clipPath></defs><g clip-path="url(#hc)"><g filter="url(#hb)"><g transform="translate(144.0 817.5) scale(.25 8.110)" stroke-width="2" fill="none" shape-rendering="crispEdges"><path d="M0 1h4m0 2h4m52 0h4m24 0h4m1424 0h4m-932 12h8m64 0h4m432 16h4m-1084 24h4m1096 0h4m116 16h4" stroke="#DDAA33"/><path d="M4 1h4m20 0h4m16 0h4m220 0h8m-268 2h4m16 0h4m4 0h4m8 0h4m24 0h4m1244 0h4m-1028 2h4m68 0h4m1116 0h4m28 0h4m-152 68h4" stroke="#DD6688"/><path d="M8 1h4m184 0h4m104 0h4m-284 2h4m104 0h4m28 0h4m1172 0h4m152 0h4m-104 20h4m4 0h4m-492 6h4m28 0h8m24 0h4m-280 24h4m52 0h4" stroke="#DD5577"/><path d="M12 1h4m24 0h4m20 0h4m4 0h4m20 0h4m4 0h4m24 0h24m4 0h4m4 0h4m16 0h4m128 0h4m36 0h4m-356 2h4m4 0h4m36 0h4m4 0h4m8 0h4m24 0h8m12 0h4m12 0h4m16 0h4m4 0h4m1132 0h4m224 0h4m-1212 2h4m1176 0h4m4 0h4m-1300 2h4m84 0h4m8 0h4m296 8h4m48 0h4m676 8h4m128 2h4m-560 4h4m12 0h4m56 0h4m12 2h4m16 0h4m8 0h4m36 0h4m264 0h4m-768 8h4m56 0h4m16 0h4m724 0h4m-796 10h4m20 0h4m20 0h4m40 4h4m16 0h4m28 0h4m20 0h4m12 0h4m128 0h4m24 0h4m16 0h4m-568 20h4m8 0h4m48 0h4" stroke="#DD8855"/><path d="M16 1h4m24 0h4m-20 2h4m68 0h4m88 0h4m1148 0h4m-1004 4h4m572 22h4m4 0h4m44 0h4m152 6h4m16 0h4m192 0h4m-76 6h4m-24 2h4m72 2h4m8 0h4m-696 8h4m32 0h4m20 0h4m48 0h4m4 0h4m12 0h4m196 0h4m460 4h4m24 0h4m-28 2h4m16 0h4m8 0h4m-440 8h4" stroke="#DDBB22"/><path d="M20 1h4m88 0h4m224 0h4m-164 2h4m20 4h4m4 0h4m16 0h4m28 0h4m12 0h4m48 0h4m348 10h4m12 0h4m4 0h8m60 0h4m156 12h4m24 0h4m4 0h4m20 0h4m4 0h4m96 4h4m16 0h4m16 0h4m104 8h4m12 0h4m76 4h4m-44 2h4m44 0h4m-652 6h4m36 0h4m28 0h4m640 0h4" stroke="#EEBB22"/><path d="M24 1h4m156 0h4m60 0h4m48 0h4m-304 2h4m40 0h4m24 0h4m72 0h4m1188 20h4m-356 6h4m348 6h4m-716 18h4m40 0h4m256 0h4m44 0h4" stroke="#DD6677"/><path d="M32 1h4m64 0h4m12 2h4m76 2h12m8 0h8m4 0h4m8 0h12m8 0h4m12 0h4m12 0h4m4 0h4m24 0h4m272 10h8m64 0h4m744 0h4m12 0h8m-160 6h4m-324 4h4m16 0h4m12 0h8m-80 2h8m4 0h4m32 0h4m8 0h4m-424 22h4" stroke="#EEBB33"/><path d="M36 1h4m176 0h4m16 0h8m24 0h4m24 0h4m48 0h8m24 0h4m936 0h4m188 0h4m-1292 2h4m8 0h4m24 0h4m16 0h4m936 0h4m124 0h8m144 0h4m20 0h4m-1524 2h4m28 0h4m124 0h4m1136 0h4m4 0h4m180 0h4m76 0h4m-216 18h4m-1064 6h4m4 0h4m68 0h4m24 0h4m24 0h4m28 0h4m4 0h4m24 0h4m660 0h4m12 0h4m44 0h4m-868 10h4m176 0h4m20 0h4m48 0h4m660 0h4m64 0h4m12 0h4m-772 10h4m40 4h4m16 0h4m52 0h4m48 0h4m160 0h4m8 0h8m24 0h4m80 0h4m128 0h4m8 0h4m-1212 20h4m380 0h12m28 0h4m24 0h4m8 0h4m12 0h4m32 0h4m156 0h4m20 0h4m24 0h4m224 0h12m28 0h4m16 0h4m12 0h4m32 0h4m52 0h4m196 0h8m196 0h4m-1540 2h8m8 0h4m64 0h4m28 0h4m44 0h4m48 0h4m128 0h4m84 0h4m468 0h4m12 0h4m56 0h4m44 0h4m20 0h4m12 0h4m108 0h4" stroke="#CC22AA"/><path d="M52 1h4m100 2h4m1008 32h8m140 0h4m-68 8h4m-316 10h4m148 14h4" stroke="#CCAA22"/><path d="M56 1h4m28 0h4m108 6h4m20 0h8m4 0h8m4 0h4m4 0h8m12 0h4m4 0h4m8 0h4m28 0h4m8 0h4m28 0h4m340 10h8m4 0h8m4 0h4m24 0h8m8 0h4m220 12h4m156 4h8m88 8h4m20 0h4m36 4h4m20 0h4m-28 2h8m8 0h4m4 0h4m-660 6h4m716 0h4m12 0h4m36 6h4m64 8h8m36 2h4" stroke="#EECC22"/><path d="M60 1h4m12 0h4m12 0h4m480 14h4m388 14h4m12 0h4m36 2h4m72 0h4m32 4h4m-384 18h4m36 0h4m668 6h4" stroke="#DDDD00"/><path d="M68 1h4m100 0h4m4 0h4m-116 2h4m24 0h4m72 0h4m376 12h4m692 6h4m12 0h4m32 0h4m-1240 34h4m1308 18h4" stroke="#DDBB33"/><path d="M80 1h4m160 0h4m364 14h4m36 0h4m828 10h4m-896 24h8" stroke="#DD7755"/><path d="M84 1h4m104 0h4m4 0h4m4 0h4m12 0h4m84 0h4m16 0h4m20 0h4m1140 0h4m-1320 2h4m8 0h4m60 0h4m24 0h4m24 0h4m36 0h4m708 0h4m164 0h4m72 0h4m4 0h4m12 0h4m160 0h4m4 0h8m4 0h4m-1472 2h4m20 0h4m56 0h4m1188 0h4m8 0h8m8 0h4m156 0h4m12 0h4m32 0h4m-252 18h4m20 0h4m8 0h8m16 0h4m4 0h4m-1300 6h4m328 0h4m96 0h4m16 0h4m576 0h4m12 0h4m68 0h4m8 0h4m-628 10h4m40 0h4m20 0h4m608 0h4m8 0h4m4 0h4m56 0h4m24 0h4m4 0h4m4 0h4m-808 14h4m20 0h4m348 0h4m60 0h4m-616 20h4m24 0h4m44 0h4m4 0h4m220 0h4m224 0h4m128 0h4m24 0h4m44 0h4m184 0h4m184 0h4m-1480 2h4m40 0h4m8 0h4m28 0h4m24 0h4m36 0h4m692 0h4m36 0h4m64 0h4m140 0h4m48 0h4" stroke="#DD33AA"/><path d="M108 1h4m16 0h4m-112 2h4m152 0h4m28 2h4m100 0h4m32 0h4m4 0h4m-68 2h4m264 8h4m60 0h4m804 0h4m-176 6h4m20 0h4m4 0h4m40 2h4m-392 2h4m28 0h4m12 0h4m-68 4h4m56 0h4m24 2h4m32 0h4m12 0h4m-504 8h4m116 14h4" stroke="#EE9955"/><path d="M116 1h4m136 4h4m36 0h4m20 0h4m12 0h4m4 0h4m1060 10h4m-136 6h4m-356 4h4m24 0h4m-16 2h4m20 0h4m4 0h4m28 0h4" stroke="#EECC33"/><path d="M120 1h4m40 0h4m84 0h4m8 0h4m-148 2h4m28 0h4m32 0h4m1212 12h4m-136 6h4m28 2h4m24 8h8m-732 8h4m780 0h4m-616 10h4m-200 4h4m436 14h4m-636 6h4m20 0h4m32 0h4m88 0h4m844 0h4" stroke="#CC7755"/><path d="M124 1h4m-16 2h4m796 26h4m28 0h4m12 0h4m152 6h4m176 8h4m-268 24h4" stroke="#DDAA22"/><path d="M156 1h4m96 0h8m16 0h4m44 0h4m-88 2h4m1076 0h4m196 0h4m8 0h4m-1360 4h4m4 0h4m1136 0h4m-16 16h4m32 0h4m16 0h8m-860 6h4m432 0h4m52 0h4m204 0h4m-1072 6h4m988 0h4m148 0h4m12 0h4m-44 2h4m24 0h4m-744 16h4m16 0h4m8 0h4m8 0h4m24 0h12m4 0h4m8 0h8m56 0h4m8 0h4m176 0h4m36 0h4m8 0h4m12 0h4m16 0h4m4 0h4m-876 14h4m884 0h4m12 0h4m20 0h4m508 0h4" stroke="#CC5577"/><path d="M176 1h4m48 0h4m-196 2h4m52 0h4m40 0h4m1164 2h4m40 0h4m168 0h8m-972 10h4m4 0h8m692 0h4m8 0h4m-12 4h4m176 0h4m-196 2h4m200 4h4m-1252 6h4m4 0h4m128 0h4m684 0h8m16 0h4m8 0h4m4 0h4m220 0h4m8 0h4m20 0h4m128 0h4m-928 8h4m4 0h4m40 0h4m656 0h4m100 0h8m-816 10h4m100 0h12m508 2h4m-720 22h4m12 0h4m32 0h8m4 0h4m452 0h4m376 0h8m12 0h4m4 0h8" stroke="#DD5588"/><path d="M204 1h4m12 0h4m68 0h4m28 0h4m48 0h4m4 0h752m4 0h8m4 0h12m4 0h148m8 0h8m4 0h4m12 0h4m4 0h136m8 0h4m8 0h8m4 0h8m4 0h64m-1404 2h8m4 0h4m12 0h8m4 0h4m4 0h12m8 0h4m4 0h8m16 0h4m8 0h4m4 0h20m4 0h4m12 0h16m4 0h532m4 0h4m8 0h4m12 0h20m12 0h16m4 0h4m20 0h4m4 0h12m4 0h4m4 0h4m16 0h4m4 0h8m4 0h4m8 0h20m8 0h8m4 0h12m4 0h4m8 0h16m4 0h8m4 0h4m4 0h12m8 0h4m4 0h4m4 0h8m4 0h8m8 0h4m52 0h4m12 0h4m8 0h136m44 0h64m-1604 4h4m4 0h8m4 0h4m4 0h4m4 0h28m4 0h8m12 0h4m4 0h16m4 0h32m4 0h20m4 0h4m12 0h4m188 0h932m4 0h8m4 0h24m4 0h144m4 0h28m4 0h64m-1576 2h4m56 0h4m28 0h4m88 0h4m12 0h4m32 0h4m12 0h4m324 0h4m20 0h4m40 0h4m68 0h4m28 0h4m484 0h4m12 0h4m60 0h8m-784 2h4m20 0h4m12 0h4m20 0h4m332 0h4m48 0h4m-160 4h4m36 0h4m-336 6h4m68 0h4m20 0h4m8 0h4m76 0h4m452 0h4m-1224 2h16m4 0h20m4 0h4m4 0h12m8 0h24m8 0h16m4 0h4m8 0h12m4 0h40m4 0h604m112 0h252m4 0h136m60 0h4m16 0h4m4 0h4m12 0h196m-1052 4h4m8 0h4m44 0h4m4 0h8m12 0h4m8 0h4m12 0h4m540 0h8m16 0h4m-1240 2h92m4 0h12m4 0h196m4 0h4m4 0h56m4 0h8m8 0h20m4 0h4m4 0h16m4 0h24m16 0h24m4 0h4m8 0h16m4 0h260m4 0h4m4 0h28m8 0h36m4 0h4m4 0h8m192 0h4m4 0h12m4 0h12m4 0h12m4 0h16m4 0h12m4 0h8m4 0h4m4 0h4m8 0h12m4 0h360m-800 2h4m4 0h4m12 0h16m16 0h8m-868 22h560m12 0h8m16 0h4m44 0h4m20 0h4m128 0h116m20 0h4m60 0h4m12 0h24m4 0h32m4 0h104m8 0h16m4 0h8m8 0h180m44 0h152m-1052 2h4m8 0h4m56 0h4m16 0h4m560 0h4m28 0h8m-1132 16h4m204 0h4m280 4h4m20 0h4m20 0h4m104 0h4m8 0h4m8 0h4m628 0h4m20 0h4" stroke="#CC00CC"/><path d="M212 1h4m120 0h4m-220 4h4m1412 0h4m-312 10h4m48 0h4m84 0h4m-812 4h4m796 2h4m24 0h4m100 4h4m-252 6h4m56 0h4m16 0h8m-764 8h4m12 0h4m24 0h4m8 0h4m8 0h4m20 0h4m-112 10h4m228 0h4m-180 2h4m-224 22h4m48 0h4m16 0h4m32 0h4m16 0h4m28 0h4m780 0h4" stroke="#CC4488"/><path d="M232 1h4m108 0h4m24 0h4m924 2h4m12 0h4m-8 2h4m192 0h4m-260 34h4m-756 34h4m192 0h4m292 0h4m28 2h4" stroke="#CC5588"/><path d="M284 1h4m76 0h4m940 2h4m20 20h4m-228 6h4" stroke="#CC4477"/><path d="M288 1h4m16 0h4m56 0h4m764 0h4m8 0h4m12 0h4m148 0h4m12 0h4m4 0h12m4 0h4m136 0h4m8 0h4m12 0h4m8 0h4m-1332 2h4m4 0h8m48 0h4m16 0h8m4 0h8m28 0h4m4 0h8m20 0h4m532 0h4m4 0h8m4 0h12m24 0h8m16 0h4m4 0h20m4 0h4m12 0h4m4 0h4m4 0h12m8 0h4m8 0h4m4 0h8m20 0h8m8 0h4m12 0h4m4 0h8m16 0h4m8 0h4m4 0h4m16 0h4m12 0h4m8 0h4m8 0h8m4 0h20m-1300 2h8m4 0h28m4 0h8m4 0h20m8 0h36m4 0h12m4 0h28m4 0h24m188 0h772m4 0h144m16 0h4m8 0h4m16 0h4m4 0h136m44 0h28m4 0h8m4 0h20m-1604 4h28m4 0h32m4 0h20m4 0h12m4 0h12m4 0h32m4 0h24m4 0h12m4 0h8m8 0h8m4 0h32m4 0h4m4 0h4m8 0h4m8 0h84m168 0h40m4 0h12m4 0h20m4 0h28m4 0h8m4 0h24m4 0h28m4 0h8m4 0h28m4 0h8m4 0h116m64 0h4m56 0h4m64 0h164m4 0h12m4 0h40m4 0h16m8 0h248m-1040 2h4m24 0h4m4 0h4m24 0h4m804 0h4m-1440 10h576m4 0h12m4 0h12m4 0h12m4 0h16m12 0h12m20 0h8m40 0h4m172 0h264m128 0h56m48 0h4m24 0h4m12 0h152m-1036 6h4m20 0h4m60 0h8m528 0h4m-1196 4h4m12 0h4m8 0h24m4 0h4m4 0h8m4 0h8m4 0h8m4 0h12m4 0h4m4 0h4m4 0h8m4 0h16m4 0h16m4 0h12m4 0h4m12 0h4m4 0h4m4 0h4m8 0h4m4 0h8m4 0h28m8 0h8m4 0h32m4 0h4m8 0h4m8 0h8m4 0h168m212 0h4m40 0h4m8 0h4m56 0h4m24 0h108m88 0h72m36 0h4m32 0h4m4 0h8m12 0h12m8 0h8m36 0h4m64 0h48m8 0h12m8 0h120m-1604 8h204m4 0h144m4 0h20m4 0h172m12 0h4m48 0h4m8 0h4m44 0h4m120 0h264m4 0h108m72 0h4m4 0h4m8 0h12m4 0h8m12 0h56m24 0h4m20 0h196m-1604 10h552m52 0h4m12 0h4m16 0h4m8 0h4m4 0h4m248 0h448m48 0h196m-1604 2h552m84 0h4m40 0h120m112 0h272m4 0h4m4 0h28m4 0h60m4 0h68m48 0h184m-928 4h4m-668 18h12m4 0h372m24 0h4m16 0h4m8 0h8m28 0h4m24 0h4m24 0h4m112 0h4m24 0h8m4 0h4m4 0h12m4 0h20m8 0h56m112 0h52m16 0h8m8 0h12m4 0h16m4 0h12m4 0h8m4 0h20m4 0h12m8 0h20m4 0h8m4 0h4m4 0h24m4 0h144m4 0h8m12 0h16m24 0h4m20 0h132m4 0h4m4 0h40m-1592 2h4m8 0h8m4 0h44m8 0h12m4 0h24m8 0h4m4 0h28m4 0h4m4 0h16m4 0h28m4 0h4m4 0h120m4 0h16m4 0h64m4 0h108m16 0h4m12 0h4m16 0h4m28 0h4m8 0h4m36 0h4m36 0h4m16 0h4m32 0h4m4 0h4m120 0h8m8 0h32m4 0h8m4 0h8m4 0h12m4 0h16m4 0h4m8 0h20m4 0h12m4 0h96m4 0h8m4 0h36m4 0h128m48 0h4m24 0h4m12 0h140" stroke="#DD00DD"/><path d="M316 1h4m-240 4h4m564 10h4m4 0h4m268 10h4m520 0h4m-1072 2h4m16 0h4m92 0h4m556 4h4m284 0h8m-768 8h4m28 0h4m-60 10h8m8 0h4m4 0h4m24 0h4m28 0h4" stroke="#EE6688"/><path d="M48 3h4m1244 16h4m-812 54h4" stroke="#CCAA33"/><path d="M84 3h4m40 0h4m80 2h4m8 0h4m4 0h8m12 0h4m12 0h4m8 0h4m4 0h4m16 0h4m4 0h4m12 0h4m4 0h4m8 0h4m4 0h12m8 0h4m-176 2h4m8 0h4m20 0h4m24 0h4m12 0h4m16 0h8m4 0h4m12 0h4m8 0h24m4 0h4m1032 8h8m28 0h4m-772 2h4m4 0h8m52 0h4m4 0h4m4 0h4m144 8h12m12 0h12m12 0h8m4 0h4m8 0h4m-76 2h12m24 0h8m4 0h4m12 0h4m4 0h8m8 0h4m104 6h8m12 0h4m4 0h8m8 0h12m84 8h4m20 0h4m16 0h8m-52 2h4m52 2h16m16 0h8m12 0h4m-56 2h4m4 0h16m8 0h4m56 4h4m-720 2h8m28 0h4m8 0h4m8 0h4m676 0h4m4 0h4m4 0h4m4 0h4m72 10h4m24 4h4m16 2h4m4 0h8m4 0h4m-228 4h4m36 0h4m184 2h12" stroke="#EEEE00"/><path d="M144 3h4m436 12h4m680 28h4m40 12h4" stroke="#CCCC00"/><path d="M964 3h4m92 6h4m100 14h4m44 32h4m-628 18h4m24 0h4" stroke="#BB11AA"/><path d="M264 5h4m4 0h4m96 0h4m-180 2h4m52 0h4m12 0h4m28 0h4m20 0h4m52 0h4m0 2h168m868 6h4m4 0h4m4 0h4m-744 2h4m4 0h4m16 0h4m16 0h4m32 0h4m4 0h12m0 4h112m-112 2h112m20 2h4m20 0h4m40 0h4m8 0h4m-88 2h4m24 0h4m8 0h4m36 0h4m4 2h88m12 4h4m12 0h4m12 0h4m12 0h4m8 4h72m-72 2h72m8 2h8m16 0h8m12 0h4m16 4h8m12 2h4m4 0h4m-552 2h112m448 0h48m-608 2h112m448 0h36m4 0h8m184 0h12m-196 2h4m28 0h4m52 8h44m-44 2h24m4 0h16m0 2h28m-12 2h12m4 2h4m-8 2h24m0 2h12" stroke="#FFFF00"/><path d="M284 5h4m636 22h4m68 0h4" stroke="#FFCC33"/><path d="M1156 5h4m164 0h4m8 0h4m-988 34h4m240 0h4m40 0h4m4 0h4m4 0h4m4 0h4m396 0h4m192 0h4m112 0h4m-796 10h4m12 0h4m72 0h4m84 0h4m456 2h4m60 0h4m-752 22h4m512 0h4m40 0h4m40 0h4m-1080 2h4m904 0h4m24 0h4" stroke="#DD22AA"/><path d="M4 7h4m16 0h4m52 0h4m8 0h4m88 0h4m752 4h4m-384 6h4m16 0h4m64 0h4m-20 14h4m-320 2h4m0 2h4m16 0h4m348 0h4m36 0h4m524 0h4m80 0h4m-756 2h4m652 0h4m8 0h4m16 0h4m8 0h4m64 0h8m20 0h4m8 0h4m-188 4h4m-1212 2h4m36 0h8m28 0h4m1100 0h4m24 0h4m-1128 4h4m92 0h4m16 0h4m20 0h4m68 0h4m20 0h4m24 0h4m12 0h4m172 0h4m4 8h4m12 0h4m56 0h4m16 0h4m16 0h4m560 0h4m-1188 2h4m896 0h4m-888 4h4m208 0h4m28 0h4m-212 2h4m384 0h4m16 0h4m-516 2h8m24 0h4m80 0h4m40 0h8m24 0h4m132 0h4m460 0h4m452 0h4m-1212 2h4m60 0h4m12 0h4m4 0h4m4 0h4m16 0h4m12 0h8m256 0h4m108 0h4m544 0h4m8 0h4m52 0h12m148 0h8m20 0h4m-676 4h4m16 0h4" stroke="#BB2299"/><path d="M16 7h4m12 0h4m48 0h4m24 0h4m56 0h4m1180 0h4m176 0h4m-1244 26h4m-140 2h8m156 0h4m780 0h4m136 0h4m12 0h4m4 0h4m4 0h12m32 0h4m-72 2h4m8 0h4m12 0h4m116 0h4m-1336 4h4m40 0h4m1100 0h4m0 2h4m16 0h4m-1124 2h4m20 2h4m112 0h4m136 0h4m40 0h4m176 8h4m592 0h4m-1204 10h4m700 0h4m-672 2h4m44 0h4m76 0h4m136 0h4m188 0h4m512 0h4m8 0h4m12 0h4m16 0h4m216 0h4m8 0h4m20 0h4m224 0h4m12 0h4m-988 4h4m80 0h4m20 0h4m36 0h4m24 0h4m128 0h4" stroke="#CC3399"/><path d="M64 7h4m80 0h4m1164 0h4m184 0h4m-888 46h4" stroke="#CC2299"/><path d="M76 7h4m1248 16h4m-64 12h4m-8 2h4m8 0h4m-1000 10h4m280 6h4m44 0h4m404 14h4m564 0h4" stroke="#BB4477"/><path d="M64 9h4m216 0h4m504 0h4m128 0h4m-368 2h4m4 0h4m44 0h4m40 0h4m4 0h4m8 0h8m92 0h8m144 0h4m8 0h4m72 0h4m40 0h4m-376 4h4m132 0h4m32 0h4m-152 6h4m8 0h8m20 0h8m8 0h4m448 0h4m-640 6h4m72 0h4m560 0h4m-596 4h4m28 0h12m76 0h4m64 0h4m16 0h4m4 0h4m44 0h4m304 0h4m-608 24h8m92 0h4m664 0h4m-824 8h4m24 0h4m12 0h4m-600 8h8m40 0h8m4 0h4m4 0h4m12 0h8m12 0h12m36 0h4m16 0h4m4 0h4m8 0h4m12 0h4m52 0h4m20 0h4m20 0h4m16 0h4m28 0h12m180 4h4m56 0h4m24 0h4m12 0h8m28 0h4m32 0h4m676 0h8m28 0h4" stroke="#990099"/><path d="M104 9h4m48 0h4m24 0h4m12 0h4m12 0h4m52 0h4m16 0h8m292 0h4m68 0h4m36 0h4m256 0h4m20 0h4m36 0h4m296 0h4m-780 2h4m20 0h4m24 0h8m36 0h4m4 0h4m336 0h4m88 0h4m-408 4h4m52 0h4m16 0h4m4 0h4m24 0h4m8 0h4m64 0h4m24 0h4m316 0h4m-1228 2h552m4 0h4m4 0h16m4 0h64m4 0h28m120 0h804m-964 2h4m0 2h4m32 0h4m16 0h4m8 0h4m8 0h4m40 0h4m8 0h4m4 0h4m4 0h4m612 0h8m4 0h4m4 0h4m-1396 2h4m4 0h4m12 0h8m48 0h4m4 0h4m60 0h4m420 4h4m12 0h8m8 0h4m536 0h4m48 0h4m-436 2h4m40 0h4m36 0h4m-248 2h4m84 0h4m32 0h4m72 0h4m20 0h4m16 0h4m288 0h4m32 0h4m-1224 2h296m4 0h16m4 0h92m4 0h120m8 0h560m72 0h428m-1604 2h112m8 0h32m4 0h4m8 0h4m4 0h144m8 0h12m4 0h216m4 0h8m4 0h116m4 0h36m4 0h8m4 0h356m72 0h72m44 0h4m64 0h244m-1604 2h568m4 0h20m4 0h60m4 0h516m112 0h4m12 0h56m8 0h20m4 0h8m8 0h196m-1604 4h44m8 0h20m4 0h40m4 0h792m4 0h92m4 0h192m8 0h4m24 0h4m60 0h300m-1604 2h8m4 0h8m4 0h16m4 0h4m8 0h8m4 0h16m4 0h24m4 0h4m4 0h32m4 0h28m4 0h996m4 0h4m4 0h16m12 0h16m60 0h300m-1604 2h80m4 0h16m4 0h8m4 0h8m4 0h92m4 0h24m4 0h840m4 0h208m56 0h244m-1604 2h92m4 0h52m4 0h16m4 0h16m4 0h12m12 0h16m4 0h12m4 0h4m4 0h4m4 0h4m4 0h4m8 0h16m4 0h20m4 0h24m4 0h12m4 0h28m4 0h40m4 0h4m4 0h88m4 0h752m56 0h244m-832 2h8m124 6h4m-904 2h12m4 0h32m4 0h28m4 0h32m4 0h8m4 0h4m4 0h12m4 0h48m12 0h20m4 0h32m4 0h4m4 0h4m4 0h32m4 0h508m4 0h16m4 0h88m4 0h20m4 0h20m4 0h448m44 0h108m-1408 2h4m-200 2h8m4 0h56m4 0h208m4 0h24m8 0h32m4 0h56m4 0h48m4 0h1032m44 0h64m-1604 2h104m4 0h384m4 0h16m4 0h36m4 0h24m4 0h12m4 0h16m4 0h8m4 0h8m4 0h4m4 0h844m44 0h64m-1596 2h8m12 0h4m4 0h36m4 0h40m4 0h40m8 0h20m8 0h12m4 0h116m4 0h396m4 0h60m4 0h452m4 0h12m4 0h4m4 0h24m4 0h32m8 0h196m28 0h36m-1604 2h40m4 0h16m4 0h40m8 0h8m4 0h4m4 0h4m8 0h12m4 0h12m8 0h8m4 0h88m4 0h16m4 0h24m4 0h56m4 0h44m4 0h80m4 0h24m4 0h468m20 0h4m16 0h4m8 0h12m20 0h4m4 0h52m12 0h128m4 0h8m4 0h4m8 0h8m4 0h8m4 0h184m32 0h8m12 0h12m-300 2h4m-1268 2h4m48 0h4m196 0h4m48 0h4m232 2h4m-32 2h4m8 0h4m4 0h4m4 0h4m40 0h4m44 0h4m8 0h4m16 0h8m8 0h4m56 0h4m12 0h4m640 0h4" stroke="#BB00BB"/><path d="M736 9h4m-160 2h4m56 0h4m20 0h4m-76 10h4m56 0h4m40 0h4m8 0h4m28 0h4m4 0h8m36 0h4m-780 2h4m76 0h8m28 0h4m12 0h4m420 4h4m24 0h4m4 0h4m60 0h8m496 0h12m32 0h4m-408 2h4m28 0h4m-52 2h4m52 0h4m24 0h8m4 0h4m304 24h4m-1192 2h4m64 0h4m32 0h4m16 0h4m12 0h4m48 0h4m4 0h4m56 0h4m12 0h4m544 0h4m16 0h4m112 0h4m20 0h4m-1004 2h196m4 0h44m4 0h76m4 0h136m4 0h20m4 0h24m4 0h528m4 0h28m4 0h12m4 0h352m44 0h108m-988 4h4m8 0h4m8 0h4m-644 6h1304m4 0h260m24 0h12m-1592 2h8m76 0h4m104 0h4m12 0h4m28 0h4m52 0h4m344 2h4m-72 2h4m20 0h4m4 0h4m44 0h4m4 0h4m12 0h4m4 0h4m32 0h8m24 0h4m652 0h8" stroke="#AA00AA"/><path d="M912 9h4m-340 10h4m28 0h4m152 0h4m328 8h4m288 4h4m8 0h4m-648 18h4m-116 2h4m-88 20h4m240 2h4m-8 2h4m44 0h4m48 0h4m460 0h4m16 0h4m8 0h8" stroke="#777700"/><path d="M916 9h4m32 0h4m36 0h4m72 0h4m-124 2h4m28 0h8m4 0h4m32 0h4m36 0h4m-348 4h4m60 0h4m60 0h4m28 0h4m-212 4h4m640 0h4m124 2h4m-1028 4h4m128 6h4m64 0h4m596 0h4m-608 40h4m-24 2h4m36 0h4" stroke="#882266"/><path d="M920 9h4m88 2h4m-140 2h4m20 2h4m-212 12h4m48 0h4m12 0h4m32 0h4m-248 4h4m4 0h4m116 0h4m84 0h4m456 0h4m-640 20h4m-8 4h4m592 0h4m-604 16h4" stroke="#552233"/><path d="M928 9h4m80 0h4m448 2h4m-756 4h4m472 0h4m172 0h4m-816 4h4m32 0h4m648 2h8m136 0h4m-940 4h4m12 0h4m8 0h4m96 6h4m32 0h4m28 0h4m-16 20h4m-312 8h4m752 0h4m12 0h4m-504 14h4m72 0h4" stroke="#AA2288"/><path d="M932 9h4m68 0h4m36 0h4m36 0h8m-312 6h4m72 0h4m20 0h4m308 0h4m44 0h4m-652 4h4m60 0h4m-248 6h4m164 6h4m32 0h4m40 0h4m-52 20h4m-152 8h4m116 14h4" stroke="#991188"/><path d="M936 9h4m-24 2h4m160 0h4m-488 20h4m600 0h4" stroke="#662233"/><path d="M940 9h4m500 12h4m-692 6h4m20 0h4m-164 4h4m128 0h4" stroke="#441133"/><path d="M944 9h4m-420 16h4m656 6h4m-624 20h4m28 0h4m20 0h4" stroke="#993355"/><path d="M948 9h4m-208 6h4m144 0h4m-316 4h4m728 0h4m124 2h4m-664 10h4m-216 40h4m44 0h4m160 0h4m-140 2h4" stroke="#772266"/><path d="M956 9h4m72 0h4m12 0h4m-276 6h4m60 0h4m352 0h4m160 0h4m-128 6h4m-840 4h4m224 6h4m52 0h4m8 0h4m516 0h4m-500 18h4m44 0h4" stroke="#772255"/><path d="M960 9h4m20 0h4m20 0h4m380 12h4m-808 10h4m12 0h4m632 0h4" stroke="#BB11BB"/><path d="M968 9h8m80 0h4m-476 2h8m40 0h4m64 0h4m4 0h4m-8 10h4m-152 6h8m640 0h8m-312 2h4m-120 2h4m28 0h4m48 0h4m4 0h4m352 0h4m-500 24h4m80 0h8m24 0h4m512 0h4m8 0h4m-736 8h4m-628 8h4m4 0h8m4 0h4m16 0h4m4 0h4m24 0h4m16 0h4m12 0h12m8 0h4m36 0h8m24 0h8m4 0h8m32 0h4m16 0h8m20 0h4m4 0h8m212 2h4m116 0h4m-84 2h8m36 0h4m8 0h4m24 0h4m28 0h4m44 0h4" stroke="#880088"/><path d="M980 9h4m-776 22h4m80 0h4m492 0h4m496 0h4m-716 8h4m612 12h4" stroke="#CC22BB"/><path d="M996 9h4m16 0h4m-96 2h4m24 0h4m-268 4h4m92 0h4m16 0h4m24 0h4m60 0h4m-316 16h4m104 0h4m28 0h4m20 0h4m24 0h4m456 0h4m-680 24h4m12 0h4m608 0h4m36 0h4" stroke="#771166"/><path d="M1000 9h4m-288 2h4m16 0h8m12 0h4m-168 20h4m116 24h4m28 0h4m16 0h4m4 0h4m8 0h4m16 0h4m28 0h4m24 0h4m4 0h4m24 0h4m4 0h4m448 0h4m20 0h4m12 0h4" stroke="#330033"/><path d="M1020 9h4m-336 2h12m4 0h4m4 0h4m28 0h4m28 0h4m68 4h4m-108 6h4m-20 34h4m8 0h4m88 0h4m20 0h4m28 0h4m284 0h4m224 0h4m-1400 16h4m16 0h4m44 0h8m92 0h4m8 0h4m20 0h4m8 0h4m44 0h4m40 0h8m56 0h4m180 2h4m4 0h4m48 0h4m-68 2h4" stroke="#660066"/><path d="M1024 9h4m-28 2h4m4 0h4m-220 4h4m4 0h4m-140 4h4m636 0h8m16 0h4m20 0h4m-168 2h4m-460 10h4m-144 24h4m8 16h4m80 0h4m20 0h4m24 0h4m44 0h4m-144 2h4m8 0h4" stroke="#993366"/><path d="M1040 9h4m-840 30h4" stroke="#CC11AA"/><path d="M1052 9h4" stroke="#661166"/><path d="M1064 9h4m-348 2h4m4 0h4m16 0h8m4 0h4m28 0h4m-44 16h4m-68 28h4m8 0h4m4 0h4m20 0h4m60 0h4m16 0h4m8 0h4m8 0h4m4 0h4m8 0h4m12 0h4m16 0h4m-272 20h4" stroke="#440044"/><path d="M1072 9h4m4 0h4m-376 6h4m36 0h8m8 0h4m440 0h4m184 0h4m-36 6h4m8 0h4m-964 4h4m20 0h4m48 0h4m68 6h4m608 0h4m16 0h4m-644 20h8m52 0h4m36 0h4m8 0h4m-52 22h4m8 0h8m180 0h4m48 2h4" stroke="#883355"/><path d="M1076 9h4" stroke="#BB00AA"/><path d="M1092 9h4m-80 2h4m460 0h4m-888 8h4m68 0h8m92 52h4m-204 2h4" stroke="#883366"/><path d="M1096 9h4m-400 6h4m108 0h4m584 0h4m-176 6h4m136 0h4m-644 10h4m448 0h4m20 0h4m-416 18h4m-156 2h4m20 0h4" stroke="#882255"/><path d="M1100 9h4m-424 6h4m88 0h4m48 0h4m356 0h4m-572 4h4m580 2h4m196 0h4m-1020 4h4m268 6h4m24 18h4m8 0h4m60 0h4m-552 8h4m24 0h4m0 2h4m240 0h4m24 0h4m528 0h4m268 14h4m-952 2h4" stroke="#BB3388"/><path d="M0 11h384m236 0h8m16 0h4m4 0h4m16 0h8m120 0h112m128 0h4m28 0h4m28 0h44m4 0h284m4 0h12m44 0h108m-1604 2h552m128 0h120m112 0h264m72 0h32m4 0h84m4 0h36m44 0h152m-1604 2h552m336 0h4m20 0h264m96 0h4m12 0h4m4 0h4m4 0h56m92 0h152m-1604 4h164m4 0h16m4 0h364m248 0h48m4 0h56m4 0h140m4 0h120m96 0h8m20 0h4m56 0h4m4 0h20m4 0h8m4 0h12m4 0h28m4 0h152m-996 2h4m12 0h4m40 0h4m4 0h4m40 0h4m-724 4h192m4 0h188m168 0h360m192 0h348m44 0h108m-1604 2h384m48 0h4m20 0h4m4 0h8m36 0h4m20 0h4m44 0h8m40 0h4m168 0h112m192 0h72m20 0h8m28 0h4m8 0h208m4 0h148m-1600 4h12m4 0h8m24 0h4m4 0h4m8 0h4m8 0h4m32 0h4m4 0h4m28 0h4m32 0h4m40 0h4m16 0h4m44 0h4m32 0h4m20 0h4m532 0h4m360 0h4m184 0h4m-656 40h12m4 0h24m4 0h16m4 0h12m8 0h8m4 0h8m8 0h12m4 0h12m4 0h60m4 0h8m4 0h16m4 0h40m4 0h16m32 0h8m4 0h4m36 0h4m56 0h12m8 0h4m20 0h8m4 0h12m4 0h24m4 0h4m12 0h8m8 0h28m4 0h16m8 0h4m4 0h124" stroke="#EE00EE"/><path d="M384 11h4m12 0h8m8 0h4m8 0h4m4 0h4m12 0h8m4 0h4m8 0h4m8 0h16m8 0h8m28 0h4m4 2h4m12 0h4m4 0h4m4 0h16m4 0h4m8 0h4m4 0h4m4 0h12m8 0h8m4 0h4m4 0h4m496 0h8m4 0h8m16 0h4m8 0h12m4 0h8m164 0h4m16 0h8m8 0h4m-768 6h12m16 0h4m20 0h12m32 0h8m4 0h4m380 0h4m4 0h4m8 0h4m8 0h8m8 0h12m8 0h4m-208 6h12m4 0h4m4 0h4m4 0h4m4 0h16m-80 2h8m8 0h8m8 0h4m16 0h8m-392 12h8m8 0h4m4 0h16m4 0h12m4 0h4m12 0h8m8 0h4m16 0h4m-68 10h4m704 6h4" stroke="#999900"/><path d="M388 11h4m128 0h4m88 2h4m108 6h4m472 0h4m-180 6h4m4 0h4m40 2h4" stroke="#BB8833"/><path d="M392 11h8m20 0h4m16 0h12m20 0h4m4 0h8m16 0h4m20 0h4m4 0h4m12 2h4m8 0h8m32 0h4m16 0h4m4 0h4m28 0h4m4 0h4m520 0h4m4 0h4m12 0h4m12 0h4m168 0h4m32 0h4m-752 6h4m8 0h4m8 0h4m24 0h8m12 0h8m20 0h4m392 0h4m20 0h4m20 0h4m-228 6h4m32 0h4m4 0h4m4 0h4m24 0h4m-76 2h8m20 0h4m4 0h8m12 0h4m8 0h4m4 0h4m-424 12h4m8 0h4m8 0h4m40 0h8m12 0h8m12 0h4m620 16h8m12 0h8m4 0h4" stroke="#AAAA00"/><path d="M408 11h4m12 0h4m104 0h4m40 2h4m4 0h4m140 6h4m456 0h4m-148 8h4m372 28h4" stroke="#BBBB00"/><path d="M412 11h4m16 0h4m24 0h4m4 0h4m36 0h4m28 0h8m944 0h4m-880 2h4m288 0h4m272 0h4m12 0h4m12 0h4m196 0h12m12 0h4m-764 6h4m16 0h4m12 0h4m12 0h4m24 0h4m12 0h4m440 0h4m12 0h4m116 0h4m-332 6h4m4 0h4m16 2h4m28 0h4m-396 12h4m56 0h4m24 0h4m636 16h8m16 0h4m-548 18h4m-88 2h4m548 0h4" stroke="#888800"/><path d="M524 11h4m120 2h4m104 6h4m28 0h4m388 0h4m-108 6h4m20 0h4m-64 2h4m-304 12h4m36 0h4m8 0h4m-44 10h4m652 6h4m-824 16h4m48 0h4m108 0h8" stroke="#AA7733"/><path d="M556 11h4m236 0h4m60 4h4m-88 6h4m-204 6h4m16 0h4m4 0h4m616 0h4m-644 28h4m92 0h4m12 0h4m20 0h8m20 0h4m4 0h4m32 0h4m4 0h4m76 0h8m292 0h4m180 0h4m24 0h4m-1376 16h4m100 0h12m12 0h4m8 0h12m12 0h4m28 0h4m16 0h4m8 0h4m8 0h4m4 0h4m4 0h4m4 0h4m8 0h4m48 0h16m240 2h4m-16 2h4m148 0h4m4 0h8m672 0h4" stroke="#770077"/><path d="M724 11h4m4 0h4m44 44h4" stroke="#220022"/><path d="M764 11h12m12 0h4m-8 10h4m-104 34h4m4 0h4m20 0h4m32 0h4m20 0h4m28 0h8m28 0h4m20 0h4m20 0h4m480 0h4m8 0h4m-1336 16h4m196 0h4m116 0h4m196 4h4m144 0h4" stroke="#550055"/><path d="M912 11h4" stroke="#441144"/><path d="M920 11h4m4 0h4m528 0h4m-896 8h4m-164 6h4m-280 32h4m148 0h4" stroke="#BB2288"/><path d="M936 11h4" stroke="#663344"/><path d="M956 11h4m-316 16h4" stroke="#AA0099"/><path d="M960 11h4m-244 4h4m96 0h4m-252 4h4m828 2h4m12 0h4m-972 4h4m196 6h4m8 0h4m76 0h4m44 0h4m496 0h4m164 0h4m-856 40h4" stroke="#CC11BB"/><path d="M964 11h4" stroke="#CC00BB"/><path d="M968 11h4m72 0h4m4 0h4m36 0h4m-544 6h4m620 4h4m-644 12h4m-428 2h8m440 0h4m8 0h4m168 0h4m-180 2h4m-528 4h4m32 4h4m16 0h4m64 2h4m396 8h4m48 0h4m52 0h4m540 0h4m8 0h4m-1228 6h4m396 0h4m48 0h4m-276 4h4m16 0h4m1060 0h4m-976 2h4m420 4h4" stroke="#AA1199"/><path d="M976 11h4m68 0h4m24 0h4m4 0h4m-288 2h4m12 0h4m52 2h4m-116 16h4m600 0h4m-696 20h4m-96 4h4m64 0h4m8 0h4m108 16h4m-164 2h4m276 2h4m508 0h4" stroke="#663333"/><path d="M988 11h4" stroke="#554411"/><path d="M1004 11h4m224 10h4m-628 10h4m108 40h4" stroke="#991199"/><path d="M1032 11h4m20 0h4" stroke="#551144"/><path d="M1036 11h4m412 0h4m-116 8h4m-656 12h4m-692 26h4m624 16h4" stroke="#AA1188"/><path d="M1060 11h4m-428 44h4m28 0h4" stroke="#881177"/><path d="M1096 11h4m-484 44h4m572 0h4" stroke="#662244"/><path d="M1100 11h4m-464 4h4m20 0h4m584 0h12m28 0h4m84 0h4m-1220 4h4m680 0h4m56 0h4m140 0h4m192 0h4m4 0h4m24 0h4m100 0h4m-140 2h4m12 0h4m-816 4h4m44 0h4m24 0h4m928 0h8m4 0h4m-1064 2h4m8 0h4m12 0h4m44 0h4m956 0h4m-1360 4h4m80 0h4m20 0h4m20 0h4m64 0h4m56 0h4m380 0h4m336 0h4m168 0h4m16 0h4m-720 18h4m68 0h4m4 0h4m4 0h4m76 0h4m88 22h4m200 0h4m248 0h4m80 0h8" stroke="#DD22BB"/><path d="M1148 11h4m128 2h4m84 0h4m-744 2h4m668 0h4m-1120 4h4m1076 0h4m20 0h8m68 0h4m32 0h4m12 0h4m-1228 6h4m1292 0h4m-1100 2h8m24 0h4m20 0h4m8 0h4m20 0h4m28 0h4m24 0h8m-412 4h4m92 0h4m8 0h4m776 0h8m276 0h4m-740 18h4m44 0h4m480 22h4m56 0h8m140 0h4m24 0h4m4 0h4" stroke="#EE33BB"/><path d="M1456 11h4m28 0h4m-1088 14h4m184 46h4m72 0h4m32 0h4m56 0h4" stroke="#AA5566"/><path d="M1468 11h4m-576 2h4m-508 12h4m140 0h4m-476 18h4m484 28h4m56 0h4m36 0h4m80 0h4m20 0h4m20 0h4" stroke="#AA4466"/><path d="M1472 11h4m-912 8h4m756 0h4m-308 6h4m204 16h4m28 2h4m-992 4h4m336 8h4m836 4h4m-884 12h4m56 0h4m56 0h4" stroke="#BB5566"/><path d="M1476 11h4m-924 8h4m648 22h4m12 0h4m52 2h4m-876 12h4" stroke="#CC6666"/><path d="M1484 11h4" stroke="#BB9933"/><path d="M560 13h4m88 0h4m188 2h4m368 0h4m16 0h4m-656 4h4m12 0h4m48 0h4m688 0h4m24 2h4m-888 4h4m52 0h4m536 2h4m-364 12h4m-12 10h4m-136 2h4m84 20h4m40 0h4m72 0h4m104 2h4m-80 2h4" stroke="#996633"/><path d="M804 13h8m20 0h4m4 0h4m20 0h4m4 0h4m16 0h4m4 0h4m-284 6h8m-156 6h4m900 6h4m4 0h4m4 0h4m8 0h4m-764 40h4m148 0h4m8 2h4m12 0h8m16 0h4m20 0h4m8 0h4m8 0h4m-92 2h4m4 0h4m48 0h4m4 0h4m4 0h4m8 0h4m8 0h4" stroke="#555500"/><path d="M812 13h4m8 0h8m12 0h4m4 0h4m12 0h4m8 0h8m500 2h4m-780 4h4m716 0h4m-820 6h4m840 6h4m8 0h4m-780 40h4m216 2h4m48 0h4m8 0h4m8 0h4m-64 2h8m20 0h4m16 0h4m20 0h4" stroke="#666600"/><path d="M820 13h4m-176 6h4m664 0h4m-860 6h4m196 46h4" stroke="#994466"/><path d="M836 13h4m-4 2h4m336 0h4m64 0h4m-644 4h4m20 0h8m712 0h4m-868 6h4m52 0h4m4 0h4m192 24h4m-96 2h4m-32 20h4m28 0h4m-84 2h4m256 0h4m-12 2h4m20 0h4m8 0h4" stroke="#885533"/><path d="M848 13h4m332 8h4m-760 4h4m92 0h4m188 6h4m-16 18h4m-144 22h4m40 2h4m776 2h4" stroke="#775533"/><path d="M856 13h4m532 2h4m-60 4h4m-160 2h4m196 0h4m12 0h4m-688 10h4m680 0h4m-688 18h4m-120 6h4m48 16h4m-60 2h4m68 0h4m132 0h4m8 0h4m28 0h4m8 0h12m8 0h4m28 0h4m-108 2h4m36 0h4m8 0h4" stroke="#774433"/><path d="M860 13h4m24 0h4m12 0h4m272 2h4m-764 10h4m372 6h4m568 0h4m8 0h4m-812 20h4m100 0h4m152 22h4m4 0h4m-4 2h4m44 0h4m476 0h4m8 0h4" stroke="#444400"/><path d="M1208 13h4m216 0h4m-728 6h4m-60 32h4" stroke="#AA8833"/><path d="M572 15h4m20 0h4m72 0h4m604 6h4m12 0h4m-324 4h4m12 0h4m56 6h4m12 0h4m20 0h4" stroke="#EE8855"/><path d="M580 15h4m52 0h4m-496 40h4" stroke="#FF9966"/><path d="M600 15h4m16 0h4m20 0h4m620 0h4m8 4h4m172 6h4m-1072 2h4m104 0h4" stroke="#EE5588"/><path d="M632 15h4m-96 12h4m-268 28h4m28 0h4m732 0h4m220 0h4m24 0h4m24 0h4m-124 16h4m220 0h4" stroke="#DD8866"/><path d="M696 15h4m4 0h4m8 60h4" stroke="#990088"/><path d="M716 15h4" stroke="#992277"/><path d="M728 15h4m488 0h4m148 0h4m8 0h4m-196 6h4m8 0h8m-816 4h4m36 0h4m60 0h4m16 0h4m184 6h4m480 0h4m-508 18h4m44 0h4m-176 2h4m8 0h8m4 0h4m36 0h4" stroke="#994455"/><path d="M732 15h4m52 40h4" stroke="#440033"/><path d="M736 15h4m-172 16h4" stroke="#771155"/><path d="M756 15h4m472 0h4m140 0h4m-744 4h4m-128 6h4m88 26h4m752 24h4m28 0h4" stroke="#664433"/><path d="M816 15h4m-132 12h4" stroke="#332200"/><path d="M1200 15h4m-564 16h4m60 0h4m-16 18h4m44 0h4m-192 2h4" stroke="#AA4455"/><path d="M1204 15h4m-4 4h4" stroke="#997733"/><path d="M1212 15h4m-828 10h4m40 0h4m44 0h4m196 24h4m24 0h4m-116 2h4" stroke="#AA5555"/><path d="M1248 15h4m220 10h4m-1000 2h4" stroke="#DD4488"/><path d="M1284 15h4m-1176 16h4m248 0h4m12 0h4m880 0h4m48 0h4m160 0h4" stroke="#DD33BB"/><path d="M736 17h4m380 16h4m-12 2h4m340 22h8m0 2h4m24 0h4" stroke="#DD9944"/><path d="M752 17h4m348 18h4m12 0h8m180 0h4m16 0h8m148 22h4" stroke="#DD8844"/><path d="M760 17h4m-20 36h4m664 0h4m32 0h4m100 14h4" stroke="#DD9955"/><path d="M644 19h4" stroke="#CC3388"/><path d="M660 19h4m-84 52h4" stroke="#BB6666"/><path d="M1252 19h4m-816 8h4m60 0h4m4 0h4m-448 28h8m20 0h4m360 0h4m84 0h4m444 0h4m28 0h4m276 0h4m152 0h4" stroke="#EE8866"/><path d="M1260 19h4m-856 8h4m76 0h4m32 0h4m352 44h4m360 0h4m16 0h4" stroke="#EE22BB"/><path d="M1196 21h4m-452 6h4" stroke="#221111"/><path d="M1212 21h4" stroke="#661155"/><path d="M1216 21h4" stroke="#771177"/><path d="M1428 21h4m-832 10h4m248 42h4m520 2h4" stroke="#553333"/><path d="M1308 23h4m88 0h4m-636 30h4m172 0h4m108 14h4m28 0h4" stroke="#CC8855"/><path d="M1312 23h4" stroke="#CC9922"/><path d="M1324 23h4m-172 6h4m44 0h4m-640 24h4m16 0h4m16 0h4m4 0h4m300 0h4m4 0h4m64 0h4m8 0h4m212 0h4" stroke="#CC33AA"/><path d="M444 25h4m48 0h4m288 24h4" stroke="#BB5555"/><path d="M468 25h4m36 0h4m188 24h4m44 0h4m-328 24h4" stroke="#BB6655"/><path d="M400 27h4m16 0h4m12 0h4m96 0h4m-516 28h4m60 0h4m20 0h4m40 0h4m80 0h4m16 0h4m140 0h4m56 0h4m480 0h4m404 0h4m-244 16h4m36 0h4m80 0h4" stroke="#DD7766"/><path d="M412 27h4m112 0h4m-528 28h4m28 0h4m8 0h4m52 0h4m12 0h8m20 0h4m8 0h8m4 0h4m12 0h4m8 0h4m60 0h4m36 0h4m16 0h4m20 0h8m8 0h8m28 0h4m32 0h4m32 0h8m12 0h4m416 0h4m60 0h8m68 0h4m4 0h4m4 0h4m32 0h4m12 0h4m8 0h4m12 0h4m96 0h8m16 0h4m4 0h4m16 0h4m24 0h4m4 0h4m12 0h4m112 0h16m68 0h4m-372 16h4m8 0h8m28 0h4m48 0h4" stroke="#EE5599"/><path d="M452 27h4m556 0h4m-808 28h4" stroke="#EE9966"/><path d="M472 27h4m-368 28h4m908 0h4" stroke="#CC7766"/><path d="M480 27h4m-144 28h4m40 0h4m128 0h4m12 0h4m432 0h4m60 0h4m36 0h4m256 0h4m124 0h4m-344 16h4m8 0h4" stroke="#DD5599"/><path d="M520 27h4m636 44h4" stroke="#CC9933"/><path d="M680 27h4m28 0h4m8 0h4m12 0h4m20 0h4m4 0h4m8 0h4m-216 4h4" stroke="#222200"/><path d="M684 27h4m8 0h4m28 0h4m44 0h4" stroke="#221100"/><path d="M700 27h4m4 0h4m24 0h4m28 0h4m16 0h8m92 46h4" stroke="#333300"/><path d="M704 27h4m8 0h4" stroke="#111100"/><path d="M720 27h4" stroke="#442233"/><path d="M732 27h4" stroke="#111111"/><path d="M108 29h4m264 0h4m12 0h4m76 0h4m4 0h4m700 24h8" stroke="#BB22AA"/><path d="M700 31h4m16 0h4" stroke="#551133"/><path d="M412 33h4m884 2h8m-1260 6h4m956 0h4m232 0h4m-28 2h4m76 0h4m-1192 2h4m104 0h4m24 0h4m-48 2h4m48 0h4m24 0h4m20 14h4m36 0h4m-332 4h4m1240 0h4m32 0h4m32 0h4m-704 6h4m92 0h4" stroke="#BB3399"/><path d="M540 33h4m732 2h4m16 2h4" stroke="#BB5577"/><path d="M172 35h4m480 2h4m252 4h4m-896 2h4m16 0h4m68 0h4m40 0h4m28 0h4m1004 0h4m-108 2h4m-884 2h4m32 0h4m204 0h4m-132 10h4m-260 8h4m1264 0h4m-1064 2h4m104 0h4" stroke="#AA2299"/><path d="M1128 35h4m8 0h4m12 0h8m88 0h4m64 0h4m12 0h4m-88 2h4m-52 4h4m68 2h4m12 0h4m172 14h8m12 0h8m-36 2h4m16 0h8" stroke="#CC8844"/><path d="M1148 35h4m12 0h4m88 0h4m92 0h4m-256 32h4" stroke="#CC7744"/><path d="M1356 35h4" stroke="#CC6677"/><path d="M1232 41h4" stroke="#BB6644"/><path d="M1236 41h4m-1120 2h4m1140 0h4m4 0h4m12 0h4m172 14h4" stroke="#CC5566"/><path d="M1284 43h4m188 14h4" stroke="#BB7744"/><path d="M728 49h4m64 0h4m-180 2h4m-68 20h4m252 4h4" stroke="#886633"/><path d="M660 51h4" stroke="#CC6655"/><path d="M0 55h4m72 0h12m4 0h4m4 0h4m48 0h4m24 0h4m28 0h8m8 0h8m8 0h4m48 0h4m12 0h4m4 0h4m32 0h4m16 0h4m72 0h4m12 0h4m16 0h4m32 0h4m8 0h4m376 0h4m24 0h4m92 0h4m12 0h4m4 0h4m8 0h8m8 0h12m8 0h4m12 0h4m12 0h4m16 0h4m32 0h4m84 0h8m8 0h4m8 0h4m24 0h4m104 0h4m40 0h8m4 0h20m4 0h4m4 0h8m8 0h16m4 0h4m4 0h12m4 0h4m-1220 16h168m292 0h4m64 0h4m168 0h4m188 0h4m8 0h4m140 0h4" stroke="#FF00FF"/><path d="M8 55h4m20 0h4m80 0h4m16 0h8m32 0h4m24 0h4m28 0h4m12 0h8m20 0h8m12 0h4m24 0h12m32 0h4m4 0h4m4 0h8m20 0h4m24 0h8m48 0h4m4 0h4m8 0h4m4 0h4m8 0h8m372 0h4m12 0h8m56 0h4m4 0h8m68 0h8m16 0h4m28 0h4m12 0h4m96 0h4m16 0h4m176 0h4m32 0h4m8 0h4m20 0h4m40 0h4m20 0h4m-800 16h4m60 0h4m76 0h4m164 0h4m8 0h4m84 0h8m40 0h4m144 0h4" stroke="#EE22CC"/><path d="M12 55h4m4 0h4m144 0h4m312 0h4m16 0h4m424 0h4m52 0h4m168 0h4m-60 16h4m56 0h4" stroke="#FF6699"/><path d="M28 55h4m28 0h4m132 0h4m20 0h4m204 0h4m584 0h4m4 0h4m236 0h4m16 0h4m-60 16h4" stroke="#EE6699"/><path d="M40 55h4m12 0h4m68 0h4m52 0h4m4 0h4m52 0h4m36 0h4m52 0h4m12 0h4m116 0h4m12 0h4m456 0h4m12 0h4m8 0h4m4 0h4m40 0h4m8 0h4m208 0h4m56 0h4m24 0h4m136 0h4m-364 16h4m12 0h4m28 0h4m120 0h4m68 0h4" stroke="#EE33CC"/><path d="M44 55h4m220 0h8m136 0h4m4 0h4m8 0h4m4 0h4m68 0h4m436 0h4m4 0h4m172 0h4m32 0h4m308 0h4m48 0h4m40 0h4m-688 16h4m252 0h4m64 0h8" stroke="#FF33CC"/><path d="M52 55h4m76 0h4m88 0h4m64 0h4m20 0h4m76 0h4m24 0h4m28 0h4m464 0h8m32 0h4m36 0h4m116 0h4m40 0h4m168 0h4m-768 16h4m48 0h4m252 0h4m292 0h4m8 0h4m12 0h4" stroke="#DD4499"/><path d="M600 55h4" stroke="#BB1199"/><path d="M640 55h4m508 0h4m40 0h4m348 0h4m-544 16h4m28 0h4m236 0h4m92 0h4m60 0h4" stroke="#DD22CC"/><path d="M656 55h4" stroke="#884444"/><path d="M760 55h4m632 0h4" stroke="#110011"/><path d="M768 55h4m-220 18h4" stroke="#660055"/><path d="M1216 55h4" stroke="#773333"/><path d="M16 65h4" stroke="#AA4477"/><path d="M664 71h4" stroke="#CC11CC"/><path d="M676 71h4m16 0h4m28 0h4" stroke="#CC4499"/><path d="M744 71h4m180 0h4" stroke="#DD11CC"/><path d="M1592 71h12" stroke="#000000"/><path d="M560 73h4" stroke="#992288"/><path d="M668 73h4" stroke="#881188"/><path d="M772 75h4" stroke="#880077"/></g></g></g><path d="M193 817.2v617M240 817.2v617M282 817.2v617M314 817.2v617M344 817.2v617M372 817.2v617M398 817.2v617M420 817.2v617M438 817.2v617M456 817.2v617M470 817.2v617M484 817.2v617M496 817.2v617M507 817.2v617M518 817.2v617M529 817.2v617M536 817.2v617M542 817.2v617" stroke="#fff" stroke-opacity=".88" stroke-width="1.1" fill="none"/><text x="137.8" y="832.4" font-size="19.3" text-anchor="end" fill="#000">ICOS</text><text x="137.8" y="848.6" font-size="19.3" text-anchor="end" fill="#000">BATF</text><text x="137.8" y="864.8" font-size="19.3" text-anchor="end" fill="#000">CCL4</text><text x="137.8" y="881" font-size="19.3" text-anchor="end" fill="#000">NKG7</text><text x="137.8" y="897.2" font-size="19.3" text-anchor="end" fill="#000">ACTA2</text><text x="137.8" y="913.5" font-size="19.3" text-anchor="end" fill="#000">TAGLN</text><text x="137.8" y="929.7" font-size="19.3" text-anchor="end" fill="#000">LGALS7B</text><text x="137.8" y="945.9" font-size="19.3" text-anchor="end" fill="#000">KRT15</text><text x="137.8" y="962.1" font-size="19.3" text-anchor="end" fill="#000">SPINK6</text><text x="137.8" y="978.3" font-size="19.3" text-anchor="end" fill="#000">S100A9</text><text x="137.8" y="994.6" font-size="19.3" text-anchor="end" fill="#000">EPCAM</text><text x="137.8" y="1010.8" font-size="19.3" text-anchor="end" fill="#000">SPP1</text><text x="137.8" y="1027" font-size="19.3" text-anchor="end" fill="#000">COL3A1</text><text x="137.8" y="1043.2" font-size="19.3" text-anchor="end" fill="#000">LUM</text><text x="137.8" y="1059.4" font-size="19.3" text-anchor="end" fill="#000">APOD</text><text x="137.8" y="1075.7" font-size="19.3" text-anchor="end" fill="#000">CFD</text><text x="137.8" y="1091.9" font-size="19.3" text-anchor="end" fill="#000">PLVAP</text><text x="137.8" y="1108.1" font-size="19.3" text-anchor="end" fill="#000">RNASE1</text><text x="137.8" y="1124.3" font-size="19.3" text-anchor="end" fill="#000">CALML5</text><text x="137.8" y="1140.5" font-size="19.3" text-anchor="end" fill="#000">LY6D</text><text x="137.8" y="1156.8" font-size="19.3" text-anchor="end" fill="#000">AZGP1</text><text x="137.8" y="1173" font-size="19.3" text-anchor="end" fill="#000">ZG16B</text><text x="137.8" y="1189.2" font-size="19.3" text-anchor="end" fill="#000">AIF1</text><text x="137.8" y="1205.4" font-size="19.3" text-anchor="end" fill="#000">MS4A6A</text><text x="137.8" y="1221.6" font-size="19.3" text-anchor="end" fill="#000">ADH7</text><text x="137.8" y="1237.9" font-size="19.3" text-anchor="end" fill="#000">GPX2</text><text x="137.8" y="1254.1" font-size="19.3" text-anchor="end" fill="#000">MMP3</text><text x="137.8" y="1270.3" font-size="19.3" text-anchor="end" fill="#000">TRMT1</text><text x="137.8" y="1286.5" font-size="19.3" text-anchor="end" fill="#000">CHRNA1</text><text x="137.8" y="1302.7" font-size="19.3" text-anchor="end" fill="#000">DLK1</text><text x="137.8" y="1319" font-size="19.3" text-anchor="end" fill="#000">TPSAB1</text><text x="137.8" y="1335.2" font-size="19.3" text-anchor="end" fill="#000">TPSB2</text><text x="137.8" y="1351.4" font-size="19.3" text-anchor="end" fill="#000">MZB1</text><text x="137.8" y="1367.6" font-size="19.3" text-anchor="end" fill="#000">ELK2AP</text><text x="137.8" y="1383.8" font-size="19.3" text-anchor="end" fill="#000">FLT3</text><text x="137.8" y="1400.1" font-size="19.3" text-anchor="end" fill="#000">LAMP3</text><text x="137.8" y="1416.3" font-size="19.3" text-anchor="end" fill="#000">SUZ12P1</text><text x="137.8" y="1432.5" font-size="19.3" text-anchor="end" fill="#000">IPMK</text><defs><linearGradient id="pny" x1="0" y1="0" x2="0" y2="1"><stop offset="0" stop-color="#ff0"/><stop offset="0.5" stop-color="#000"/><stop offset="1" stop-color="#f0f"/></linearGradient></defs><rect x="567" y="877.3" width="10" height="140.2" fill="url(#pny)"/><text x="568" y="864.9" font-size="19.5" text-anchor="start" fill="#000">Expression</text><text x="586.3" y="884.4" font-size="19" text-anchor="start" fill="#000">2.5</text><text x="586.3" y="906.9" font-size="19" text-anchor="start" fill="#000">2.0</text><text x="586.3" y="929.4" font-size="19" text-anchor="start" fill="#000">1.5</text><text x="586.3" y="951.9" font-size="19" text-anchor="start" fill="#000">1.0</text><text x="586.3" y="974.4" font-size="19" text-anchor="start" fill="#000">0.5</text><text x="586.3" y="996.9" font-size="19" text-anchor="start" fill="#000">0.0</text><text x="586.3" y="1019.4" font-size="19" text-anchor="start" fill="#000">−0.5</text><path d="M567 900.1h2M575 900.1h2M567 922.6h2M575 922.6h2M567 945.1h2M575 945.1h2M567 967.6h2M575 967.6h2M567 990.1h2M575 990.1h2M567 1012.6h2M575 1012.6h2" stroke="#fff" stroke-width="0.8" fill="none"/><text x="571.4" y="1073.4" font-size="19.5" text-anchor="start" fill="#000">Identity</text><circle cx="577.5" cy="1099.4" r="7.5" fill="#DD5129"/><text x="594.3" y="1106.3" font-size="19.5" text-anchor="start" fill="#000">0</text><circle cx="577.5" cy="1127.5" r="7.5" fill="#BB583D"/><text x="594.3" y="1134.4" font-size="19.5" text-anchor="start" fill="#000">1</text><circle cx="577.5" cy="1155.5" r="7.5" fill="#985F51"/><text x="594.3" y="1162.4" font-size="19.5" text-anchor="start" fill="#000">2</text><circle cx="577.5" cy="1183.6" r="7.5" fill="#766666"/><text x="594.3" y="1190.5" font-size="19.5" text-anchor="start" fill="#000">3</text><circle cx="577.5" cy="1211.6" r="7.5" fill="#546D7A"/><text x="594.3" y="1218.5" font-size="19.5" text-anchor="start" fill="#000">4</text><circle cx="577.5" cy="1239.7" r="7.5" fill="#31748E"/><text x="594.3" y="1246.6" font-size="19.5" text-anchor="start" fill="#000">5</text><circle cx="577.5" cy="1267.7" r="7.5" fill="#0F7BA2"/><text x="594.3" y="1274.6" font-size="19.5" text-anchor="start" fill="#000">6</text><circle cx="577.5" cy="1295.8" r="7.5" fill="#18849D"/><text x="594.3" y="1302.7" font-size="19.5" text-anchor="start" fill="#000">7</text><circle cx="577.5" cy="1323.8" r="7.5" fill="#208D98"/><text x="594.3" y="1330.7" font-size="19.5" text-anchor="start" fill="#000">8</text><circle cx="577.5" cy="1351.9" r="7.5" fill="#299693"/><text x="594.3" y="1358.8" font-size="19.5" text-anchor="start" fill="#000">9</text><circle cx="643.7" cy="1099.4" r="7.5" fill="#32A08E"/><text x="660.5" y="1106.3" font-size="19.5" text-anchor="start" fill="#000">10</text><circle cx="643.7" cy="1127.5" r="7.5" fill="#3AA989"/><text x="660.5" y="1134.4" font-size="19.5" text-anchor="start" fill="#000">11</text><circle cx="643.7" cy="1155.5" r="7.5" fill="#43B284"/><text x="660.5" y="1162.4" font-size="19.5" text-anchor="start" fill="#000">12</text><circle cx="643.7" cy="1183.6" r="7.5" fill="#61B27C"/><text x="660.5" y="1190.5" font-size="19.5" text-anchor="start" fill="#000">13</text><circle cx="643.7" cy="1211.6" r="7.5" fill="#80B274"/><text x="660.5" y="1218.5" font-size="19.5" text-anchor="start" fill="#000">14</text><circle cx="643.7" cy="1239.7" r="7.5" fill="#9EB26C"/><text x="660.5" y="1246.6" font-size="19.5" text-anchor="start" fill="#000">15</text><circle cx="643.7" cy="1267.7" r="7.5" fill="#BDB265"/><text x="660.5" y="1274.6" font-size="19.5" text-anchor="start" fill="#000">16</text><circle cx="643.7" cy="1295.8" r="7.5" fill="#DCB25D"/><text x="660.5" y="1302.7" font-size="19.5" text-anchor="start" fill="#000">17</text><circle cx="643.7" cy="1323.8" r="7.5" fill="#FAB255"/><text x="660.5" y="1330.7" font-size="19.5" text-anchor="start" fill="#000">18</text></g>
<g id="pE"><g><rect x="60" y="1566" width="24.8" height="225" fill="#E47454"/><text transform="translate(78.9 1812.2) rotate(-90)" font-size="19.5" text-anchor="end" fill="#4d4d4d">HNSCC23</text><rect x="87.6" y="1566" width="24.8" height="152" fill="#A68178"/><rect x="87.6" y="1718" width="24.8" height="28" fill="#688D9D"/><rect x="87.6" y="1746" width="24.8" height="10" fill="#459BB1"/><rect x="87.6" y="1756" width="24.8" height="35" fill="#63BCA0"/><text transform="translate(106.5 1812.2) rotate(-90)" font-size="19.5" text-anchor="end" fill="#4d4d4d">HNSCC28</text><rect x="115.2" y="1566" width="24.8" height="5" fill="#E47454"/><rect x="115.2" y="1571" width="24.8" height="111" fill="#A68178"/><rect x="115.2" y="1682" width="24.8" height="104" fill="#688D9D"/><rect x="115.2" y="1786" width="24.8" height="2" fill="#8DC193"/><rect x="115.2" y="1788" width="24.8" height="1" fill="#C4C185"/><rect x="115.2" y="1789" width="24.8" height="2" fill="#FBC177"/><text transform="translate(134.1 1812.2) rotate(-90)" font-size="19.5" text-anchor="end" fill="#4d4d4d">HNSCC26</text><rect x="142.8" y="1566" width="24.8" height="48" fill="#E47454"/><rect x="142.8" y="1614" width="24.8" height="72" fill="#A68178"/><rect x="142.8" y="1686" width="24.8" height="79" fill="#688D9D"/><rect x="142.8" y="1765" width="24.8" height="2" fill="#459BB1"/><rect x="142.8" y="1767" width="24.8" height="15" fill="#63BCA0"/><rect x="142.8" y="1782" width="24.8" height="5" fill="#8DC193"/><rect x="142.8" y="1787" width="24.8" height="4" fill="#FBC177"/><text transform="translate(161.7 1812.2) rotate(-90)" font-size="19.5" text-anchor="end" fill="#4d4d4d">HNSCC25</text><rect x="170.3" y="1566" width="24.8" height="176" fill="#E47454"/><rect x="170.3" y="1742" width="24.8" height="17" fill="#A68178"/><rect x="170.3" y="1759" width="24.8" height="21" fill="#688D9D"/><rect x="170.3" y="1780" width="24.8" height="5" fill="#54ABA9"/><rect x="170.3" y="1785" width="24.8" height="4" fill="#8DC193"/><rect x="170.3" y="1789" width="24.8" height="2" fill="#FBC177"/><text transform="translate(189.3 1812.2) rotate(-90)" font-size="19.5" text-anchor="end" fill="#4d4d4d">HNSCC</text><rect x="197.9" y="1566" width="24.8" height="10" fill="#E47454"/><rect x="197.9" y="1576" width="24.8" height="66" fill="#A68178"/><rect x="197.9" y="1642" width="24.8" height="23" fill="#459BB1"/><rect x="197.9" y="1665" width="24.8" height="13" fill="#54ABA9"/><rect x="197.9" y="1678" width="24.8" height="2" fill="#8DC193"/><rect x="197.9" y="1680" width="24.8" height="111" fill="#C4C185"/><text transform="translate(216.8 1812.2) rotate(-90)" font-size="19.5" text-anchor="end" fill="#4d4d4d">HNSCC10</text><rect x="225.5" y="1566" width="24.8" height="203" fill="#E47454"/><rect x="225.5" y="1769" width="24.8" height="22" fill="#688D9D"/><text transform="translate(244.4 1812.2) rotate(-90)" font-size="19.5" text-anchor="end" fill="#4d4d4d">HNSCC12</text><rect x="253.1" y="1566" width="24.8" height="28" fill="#E47454"/><rect x="253.1" y="1594" width="24.8" height="24" fill="#A68178"/><rect x="253.1" y="1618" width="24.8" height="21" fill="#688D9D"/><rect x="253.1" y="1639" width="24.8" height="7" fill="#459BB1"/><rect x="253.1" y="1646" width="24.8" height="40" fill="#54ABA9"/><rect x="253.1" y="1686" width="24.8" height="13" fill="#8DC193"/><rect x="253.1" y="1699" width="24.8" height="15" fill="#C4C185"/><rect x="253.1" y="1714" width="24.8" height="77" fill="#FBC177"/><text transform="translate(272 1812.2) rotate(-90)" font-size="19.5" text-anchor="end" fill="#4d4d4d">HNSCC13</text><rect x="280.7" y="1566" width="24.8" height="112" fill="#E47454"/><rect x="280.7" y="1678" width="24.8" height="50" fill="#A68178"/><rect x="280.7" y="1728" width="24.8" height="27" fill="#688D9D"/><rect x="280.7" y="1755" width="24.8" height="17" fill="#459BB1"/><rect x="280.7" y="1772" width="24.8" height="5" fill="#54ABA9"/><rect x="280.7" y="1777" width="24.8" height="2" fill="#63BCA0"/><rect x="280.7" y="1779" width="24.8" height="10" fill="#8DC193"/><rect x="280.7" y="1789" width="24.8" height="2" fill="#FBC177"/><text transform="translate(299.6 1812.2) rotate(-90)" font-size="19.5" text-anchor="end" fill="#4d4d4d">HNSCC16</text><rect x="308.2" y="1566" width="24.8" height="28" fill="#E47454"/><rect x="308.2" y="1594" width="24.8" height="20" fill="#A68178"/><rect x="308.2" y="1614" width="24.8" height="162" fill="#688D9D"/><rect x="308.2" y="1776" width="24.8" height="8" fill="#459BB1"/><rect x="308.2" y="1784" width="24.8" height="2" fill="#63BCA0"/><rect x="308.2" y="1786" width="24.8" height="2" fill="#8DC193"/><rect x="308.2" y="1788" width="24.8" height="3" fill="#C4C185"/><text transform="translate(327.1 1812.2) rotate(-90)" font-size="19.5" text-anchor="end" fill="#4d4d4d">HNSCC17</text><rect x="335.8" y="1566" width="24.8" height="82" fill="#E47454"/><rect x="335.8" y="1648" width="24.8" height="17" fill="#A68178"/><rect x="335.8" y="1665" width="24.8" height="102" fill="#688D9D"/><rect x="335.8" y="1767" width="24.8" height="8" fill="#459BB1"/><rect x="335.8" y="1775" width="24.8" height="4" fill="#54ABA9"/><rect x="335.8" y="1779" width="24.8" height="4" fill="#63BCA0"/><rect x="335.8" y="1783" width="24.8" height="4" fill="#8DC193"/><rect x="335.8" y="1787" width="24.8" height="4" fill="#C4C185"/><text transform="translate(354.7 1812.2) rotate(-90)" font-size="19.5" text-anchor="end" fill="#4d4d4d">HNSCC18</text><rect x="363.4" y="1566" width="24.8" height="9" fill="#A68178"/><rect x="363.4" y="1575" width="24.8" height="216" fill="#688D9D"/><text transform="translate(382.3 1812.2) rotate(-90)" font-size="19.5" text-anchor="end" fill="#4d4d4d">HNSCC20</text><rect x="391" y="1566" width="24.8" height="58" fill="#A68178"/><rect x="391" y="1624" width="24.8" height="139" fill="#688D9D"/><rect x="391" y="1763" width="24.8" height="2" fill="#63BCA0"/><rect x="391" y="1765" width="24.8" height="25" fill="#8DC193"/><rect x="391" y="1790" width="24.8" height="1" fill="#FBC177"/><text transform="translate(409.9 1812.2) rotate(-90)" font-size="19.5" text-anchor="end" fill="#4d4d4d">HNSCC22</text><rect x="418.5" y="1566" width="24.8" height="162" fill="#A68178"/><rect x="418.5" y="1728" width="24.8" height="20" fill="#688D9D"/><rect x="418.5" y="1748" width="24.8" height="2" fill="#459BB1"/><rect x="418.5" y="1750" width="24.8" height="5" fill="#54ABA9"/><rect x="418.5" y="1755" width="24.8" height="34" fill="#8DC193"/><rect x="418.5" y="1789" width="24.8" height="2" fill="#FBC177"/><text transform="translate(437.4 1812.2) rotate(-90)" font-size="19.5" text-anchor="end" fill="#4d4d4d">HNSCC24</text><rect x="446.1" y="1566" width="24.8" height="32" fill="#E47454"/><rect x="446.1" y="1598" width="24.8" height="40" fill="#A68178"/><rect x="446.1" y="1638" width="24.8" height="68" fill="#688D9D"/><rect x="446.1" y="1706" width="24.8" height="13" fill="#459BB1"/><rect x="446.1" y="1719" width="24.8" height="63" fill="#54ABA9"/><rect x="446.1" y="1782" width="24.8" height="4" fill="#63BCA0"/><rect x="446.1" y="1786" width="24.8" height="5" fill="#8DC193"/><text transform="translate(465 1812.2) rotate(-90)" font-size="19.5" text-anchor="end" fill="#4d4d4d">HNSCC5</text><rect x="473.7" y="1566" width="24.8" height="59" fill="#A68178"/><rect x="473.7" y="1625" width="24.8" height="108" fill="#688D9D"/><rect x="473.7" y="1733" width="24.8" height="40" fill="#459BB1"/><rect x="473.7" y="1773" width="24.8" height="5" fill="#54ABA9"/><rect x="473.7" y="1778" width="24.8" height="10" fill="#63BCA0"/><rect x="473.7" y="1788" width="24.8" height="3" fill="#C4C185"/><text transform="translate(492.6 1812.2) rotate(-90)" font-size="19.5" text-anchor="end" fill="#4d4d4d">HNSCC6</text><rect x="501.3" y="1566" width="24.8" height="32" fill="#A68178"/><rect x="501.3" y="1598" width="24.8" height="193" fill="#688D9D"/><text transform="translate(520.2 1812.2) rotate(-90)" font-size="19.5" text-anchor="end" fill="#4d4d4d">HNSCC7</text><rect x="528.8" y="1566" width="24.8" height="31" fill="#E47454"/><rect x="528.8" y="1597" width="24.8" height="58" fill="#A68178"/><rect x="528.8" y="1655" width="24.8" height="4" fill="#688D9D"/><rect x="528.8" y="1659" width="24.8" height="63" fill="#459BB1"/><rect x="528.8" y="1722" width="24.8" height="47" fill="#54ABA9"/><rect x="528.8" y="1769" width="24.8" height="5" fill="#8DC193"/><rect x="528.8" y="1774" width="24.8" height="6" fill="#C4C185"/><rect x="528.8" y="1780" width="24.8" height="11" fill="#FBC177"/><text transform="translate(547.8 1812.2) rotate(-90)" font-size="19.5" text-anchor="end" fill="#4d4d4d">HNSCC8</text></g><text x="51.2" y="1569" font-size="18.8" text-anchor="end" fill="#4d4d4d">1.00</text><text x="51.2" y="1625.2" font-size="18.8" text-anchor="end" fill="#4d4d4d">0.75</text><text x="51.2" y="1681.5" font-size="18.8" text-anchor="end" fill="#4d4d4d">0.50</text><text x="51.2" y="1737.8" font-size="18.8" text-anchor="end" fill="#4d4d4d">0.25</text><text x="51.2" y="1794" font-size="18.8" text-anchor="end" fill="#4d4d4d">0.00</text><path d="M72.4 1802.4v3.6M100 1802.4v3.6M127.6 1802.4v3.6M155.2 1802.4v3.6M182.8 1802.4v3.6M210.3 1802.4v3.6M237.9 1802.4v3.6M265.5 1802.4v3.6M293.1 1802.4v3.6M320.6 1802.4v3.6M348.2 1802.4v3.6M375.8 1802.4v3.6M403.4 1802.4v3.6M430.9 1802.4v3.6M458.5 1802.4v3.6M486.1 1802.4v3.6M513.7 1802.4v3.6M541.3 1802.4v3.6M52.3 1566h3.6M52.3 1622.2h3.6M52.3 1678.5h3.6M52.3 1734.8h3.6M52.3 1791h3.6" stroke="#333" stroke-width="1" fill="none"/><rect x="55.9" y="1555.3" width="501.9" height="247.1" fill="none" stroke="#8c8c8c" stroke-width="1.1"/><rect x="561.4" y="1601.4" width="16.8" height="16.6" fill="#E47454"/><text x="584.6" y="1612.3" font-size="19.5" text-anchor="start" fill="#000">T cells</text><rect x="561.4" y="1619.4" width="16.8" height="16.6" fill="#A68178"/><text x="584.6" y="1630.3" font-size="19.5" text-anchor="start" fill="#000">Fibroblasts</text><rect x="561.4" y="1637.3" width="16.8" height="16.6" fill="#688D9D"/><text x="584.6" y="1648.2" font-size="19.5" text-anchor="start" fill="#000">Epithelial cells</text><rect x="561.4" y="1655.3" width="16.8" height="16.6" fill="#459BB1"/><text x="584.6" y="1666.2" font-size="19.5" text-anchor="start" fill="#000">Endothelial cells</text><rect x="561.4" y="1673.3" width="16.8" height="16.6" fill="#54ABA9"/><text x="584.6" y="1684.2" font-size="19.5" text-anchor="start" fill="#000">Macrophage</text><rect x="561.4" y="1691.2" width="16.8" height="16.6" fill="#63BCA0"/><text x="584.6" y="1702.1" font-size="19.5" text-anchor="start" fill="#000">NK cells</text><rect x="561.4" y="1709.2" width="16.8" height="16.6" fill="#8DC193"/><text x="584.6" y="1720.1" font-size="19.5" text-anchor="start" fill="#000">MAST cells</text><rect x="561.4" y="1727.2" width="16.8" height="16.6" fill="#C4C185"/><text x="584.6" y="1738.1" font-size="19.5" text-anchor="start" fill="#000">B cells</text><rect x="561.4" y="1745.2" width="16.8" height="16.6" fill="#FBC177"/><text x="584.6" y="1756.1" font-size="19.5" text-anchor="start" fill="#000">DC</text></g>
<g id="pF"><rect x="911.4" y="1241.50" width="635.8" height="59.02" fill="#ebebeb"/><rect x="911.4" y="1308.82" width="635.8" height="77.66" fill="#ebebeb"/><rect x="911.4" y="1394.78" width="635.8" height="77.66" fill="#ebebeb"/><rect x="911.4" y="1480.74" width="635.8" height="77.66" fill="#ebebeb"/><rect x="911.4" y="1566.70" width="635.8" height="59.02" fill="#ebebeb"/><rect x="911.4" y="1634.02" width="635.8" height="21.74" fill="#ebebeb"/><rect x="911.4" y="1664.06" width="635.8" height="59.02" fill="#ebebeb"/><rect x="911.4" y="1731.38" width="635.8" height="21.74" fill="#ebebeb"/><rect x="911.4" y="1761.42" width="635.8" height="40.38" fill="#ebebeb"/><path d="M952.5 1241.50v59.02M1021.6 1241.50v59.02M1090.7 1241.50v59.02M1159.9 1241.50v59.02M1229 1241.50v59.02M1298.1 1241.50v59.02M1367.2 1241.50v59.02M1436.3 1241.50v59.02M1505.5 1241.50v59.02M911.4 1252.37H1547.2M911.4 1271.01H1547.2M911.4 1289.65H1547.2M952.5 1308.82v77.66M1021.6 1308.82v77.66M1090.7 1308.82v77.66M1159.9 1308.82v77.66M1229 1308.82v77.66M1298.1 1308.82v77.66M1367.2 1308.82v77.66M1436.3 1308.82v77.66M1505.5 1308.82v77.66M911.4 1319.69H1547.2M911.4 1338.33H1547.2M911.4 1356.97H1547.2M911.4 1375.61H1547.2M952.5 1394.78v77.66M1021.6 1394.78v77.66M1090.7 1394.78v77.66M1159.9 1394.78v77.66M1229 1394.78v77.66M1298.1 1394.78v77.66M1367.2 1394.78v77.66M1436.3 1394.78v77.66M1505.5 1394.78v77.66M911.4 1405.65H1547.2M911.4 1424.29H1547.2M911.4 1442.93H1547.2M911.4 1461.57H1547.2M952.5 1480.74v77.66M1021.6 1480.74v77.66M1090.7 1480.74v77.66M1159.9 1480.74v77.66M1229 1480.74v77.66M1298.1 1480.74v77.66M1367.2 1480.74v77.66M1436.3 1480.74v77.66M1505.5 1480.74v77.66M911.4 1491.61H1547.2M911.4 1510.25H1547.2M911.4 1528.89H1547.2M911.4 1547.53H1547.2M952.5 1566.70v59.02M1021.6 1566.70v59.02M1090.7 1566.70v59.02M1159.9 1566.70v59.02M1229 1566.70v59.02M1298.1 1566.70v59.02M1367.2 1566.70v59.02M1436.3 1566.70v59.02M1505.5 1566.70v59.02M911.4 1577.57H1547.2M911.4 1596.21H1547.2M911.4 1614.85H1547.2M952.5 1634.02v21.74M1021.6 1634.02v21.74M1090.7 1634.02v21.74M1159.9 1634.02v21.74M1229 1634.02v21.74M1298.1 1634.02v21.74M1367.2 1634.02v21.74M1436.3 1634.02v21.74M1505.5 1634.02v21.74M911.4 1644.89H1547.2M952.5 1664.06v59.02M1021.6 1664.06v59.02M1090.7 1664.06v59.02M1159.9 1664.06v59.02M1229 1664.06v59.02M1298.1 1664.06v59.02M1367.2 1664.06v59.02M1436.3 1664.06v59.02M1505.5 1664.06v59.02M911.4 1674.93H1547.2M911.4 1693.57H1547.2M911.4 1712.21H1547.2M952.5 1731.38v21.74M1021.6 1731.38v21.74M1090.7 1731.38v21.74M1159.9 1731.38v21.74M1229 1731.38v21.74M1298.1 1731.38v21.74M1367.2 1731.38v21.74M1436.3 1731.38v21.74M1505.5 1731.38v21.74M911.4 1742.25H1547.2M952.5 1761.42v40.38M1021.6 1761.42v40.38M1090.7 1761.42v40.38M1159.9 1761.42v40.38M1229 1761.42v40.38M1298.1 1761.42v40.38M1367.2 1761.42v40.38M1436.3 1761.42v40.38M1505.5 1761.42v40.38M911.4 1772.29H1547.2M911.4 1790.93H1547.2" stroke="#fff" stroke-width="1.1" fill="none"/><g stroke="#000" stroke-width="0.8"><circle cx="952.5" cy="1252.4" r="8.4" fill="#FF0000"/><circle cx="1021.6" cy="1252.4" r="5.7" fill="#E8D8FF"/><circle cx="1090.7" cy="1252.4" r="5.7" fill="#DFC9FF"/><circle cx="1159.9" cy="1252.4" r="6.4" fill="#E8D8FF"/><circle cx="1229" cy="1252.4" r="6.8" fill="#F9F4FF"/><circle cx="1298.1" cy="1252.4" r="5.7" fill="#DFC9FF"/><circle cx="1367.2" cy="1252.4" r="6.4" fill="#E8D8FF"/><circle cx="1436.3" cy="1252.4" r="5.9" fill="#E8D8FF"/><circle cx="1505.5" cy="1252.4" r="6.6" fill="#F9F4FF"/><circle cx="952.5" cy="1271.0" r="8.2" fill="#FF0000"/><circle cx="1021.6" cy="1271.0" r="2.5" fill="#F0E5FF"/><circle cx="1090.7" cy="1271.0" r="2.5" fill="#F0E5FF"/><circle cx="1159.9" cy="1271.0" r="3.4" fill="#E8D8FF"/><circle cx="1229" cy="1271.0" r="5.2" fill="#FFFFFF"/><circle cx="1298.1" cy="1271.0" r="2.5" fill="#DFC9FF"/><circle cx="1367.2" cy="1271.0" r="3.2" fill="#E8D8FF"/><circle cx="1436.3" cy="1271.0" r="3.7" fill="#F0E5FF"/><circle cx="1505.5" cy="1271.0" r="2.8" fill="#DFC9FF"/><circle cx="952.5" cy="1289.6" r="7.7" fill="#FF0000"/><circle cx="1021.6" cy="1289.6" r="2.5" fill="#F0E5FF"/><circle cx="1090.7" cy="1289.6" r="2.5" fill="#F0E5FF"/><circle cx="1159.9" cy="1289.6" r="3.4" fill="#E8D8FF"/><circle cx="1229" cy="1289.6" r="4.8" fill="#F9F4FF"/><circle cx="1298.1" cy="1289.6" r="1.9" fill="#CBABFF"/><circle cx="1367.2" cy="1289.6" r="3.0" fill="#E8D8FF"/><circle cx="1436.3" cy="1289.6" r="3.2" fill="#E8D8FF"/><circle cx="1505.5" cy="1289.6" r="4.1" fill="#FFFFFF"/><circle cx="952.5" cy="1319.7" r="2.3" fill="#E8D8FF"/><circle cx="1021.6" cy="1319.7" r="5.5" fill="#FF0000"/><circle cx="1090.7" cy="1319.7" r="3.4" fill="#DFC9FF"/><circle cx="1159.9" cy="1319.7" r="4.3" fill="#FFCDBC"/><circle cx="1229" cy="1319.7" r="3.7" fill="#F0E5FF"/><circle cx="1298.1" cy="1319.7" r="3.9" fill="#FFFFFF"/><circle cx="1367.2" cy="1319.7" r="3.0" fill="#E8D8FF"/><circle cx="1436.3" cy="1319.7" r="1.9" fill="#D1B4FF"/><circle cx="1505.5" cy="1319.7" r="1.9" fill="#D1B4FF"/><circle cx="952.5" cy="1338.3" r="3.4" fill="#E8D8FF"/><circle cx="1021.6" cy="1338.3" r="8.2" fill="#FF0000"/><circle cx="1090.7" cy="1338.3" r="4.8" fill="#F0E5FF"/><circle cx="1159.9" cy="1338.3" r="5.2" fill="#E8D8FF"/><circle cx="1229" cy="1338.3" r="4.3" fill="#E8D8FF"/><circle cx="1298.1" cy="1338.3" r="5.0" fill="#F9F4FF"/><circle cx="1367.2" cy="1338.3" r="3.9" fill="#E8D8FF"/><circle cx="1436.3" cy="1338.3" r="4.3" fill="#E8D8FF"/><circle cx="1505.5" cy="1338.3" r="3.2" fill="#DFC9FF"/><circle cx="952.5" cy="1357.0" r="3.2" fill="#E8D8FF"/><circle cx="1021.6" cy="1357.0" r="8.0" fill="#FF2E16"/><circle cx="1090.7" cy="1357.0" r="4.1" fill="#E8D8FF"/><circle cx="1159.9" cy="1357.0" r="4.8" fill="#DFC9FF"/><circle cx="1229" cy="1357.0" r="4.6" fill="#DFC9FF"/><circle cx="1298.1" cy="1357.0" r="6.6" fill="#FFC2AD"/><circle cx="1367.2" cy="1357.0" r="3.7" fill="#E8D8FF"/><circle cx="1436.3" cy="1357.0" r="4.3" fill="#DFC9FF"/><circle cx="1505.5" cy="1357.0" r="4.1" fill="#DFC9FF"/><circle cx="952.5" cy="1375.6" r="3.2" fill="#E8D8FF"/><circle cx="1021.6" cy="1375.6" r="8.2" fill="#FF0000"/><circle cx="1090.7" cy="1375.6" r="6.4" fill="#F0E5FF"/><circle cx="1159.9" cy="1375.6" r="4.8" fill="#DFC9FF"/><circle cx="1229" cy="1375.6" r="4.3" fill="#DFC9FF"/><circle cx="1298.1" cy="1375.6" r="6.4" fill="#FFCDBC"/><circle cx="1367.2" cy="1375.6" r="3.4" fill="#DFC9FF"/><circle cx="1436.3" cy="1375.6" r="4.1" fill="#DFC9FF"/><circle cx="1505.5" cy="1375.6" r="4.1" fill="#DFC9FF"/><circle cx="952.5" cy="1405.6" r="2.8" fill="#E8D8FF"/><circle cx="1021.6" cy="1405.6" r="3.7" fill="#E8D8FF"/><circle cx="1090.7" cy="1405.6" r="8.6" fill="#FF0000"/><circle cx="1159.9" cy="1405.6" r="3.4" fill="#DFC9FF"/><circle cx="1229" cy="1405.6" r="3.7" fill="#DFC9FF"/><circle cx="1298.1" cy="1405.6" r="3.2" fill="#E8D8FF"/><circle cx="1367.2" cy="1405.6" r="5.0" fill="#FFD9CB"/><circle cx="1436.3" cy="1405.6" r="3.0" fill="#DFC9FF"/><circle cx="1505.5" cy="1405.6" r="7.1" fill="#FFF5F1"/><circle cx="952.5" cy="1424.3" r="4.1" fill="#E8D8FF"/><circle cx="1021.6" cy="1424.3" r="4.3" fill="#E8D8FF"/><circle cx="1090.7" cy="1424.3" r="8.6" fill="#FF0000"/><circle cx="1159.9" cy="1424.3" r="6.2" fill="#FFCDBC"/><circle cx="1229" cy="1424.3" r="4.6" fill="#DFC9FF"/><circle cx="1298.1" cy="1424.3" r="4.1" fill="#DFC9FF"/><circle cx="1367.2" cy="1424.3" r="4.1" fill="#DFC9FF"/><circle cx="1436.3" cy="1424.3" r="4.6" fill="#F0E5FF"/><circle cx="1505.5" cy="1424.3" r="4.1" fill="#D1B4FF"/><circle cx="952.5" cy="1442.9" r="2.3" fill="#F0E5FF"/><circle cx="1021.6" cy="1442.9" r="2.5" fill="#F0E5FF"/><circle cx="1090.7" cy="1442.9" r="6.8" fill="#FF0000"/><circle cx="1159.9" cy="1442.9" r="3.2" fill="#F0E5FF"/><circle cx="1229" cy="1442.9" r="3.2" fill="#E8D8FF"/><circle cx="1298.1" cy="1442.9" r="3.2" fill="#F0E5FF"/><circle cx="1367.2" cy="1442.9" r="1.9" fill="#E8D8FF"/><circle cx="1436.3" cy="1442.9" r="1.9" fill="#E8D8FF"/><circle cx="1505.5" cy="1442.9" r="3.2" fill="#F9F4FF"/><circle cx="952.5" cy="1461.6" r="5.7" fill="#F0E5FF"/><circle cx="1021.6" cy="1461.6" r="4.8" fill="#DFC9FF"/><circle cx="1090.7" cy="1461.6" r="8.6" fill="#FF0000"/><circle cx="1159.9" cy="1461.6" r="5.2" fill="#DFC9FF"/><circle cx="1229" cy="1461.6" r="5.9" fill="#F9F4FF"/><circle cx="1298.1" cy="1461.6" r="4.6" fill="#DFC9FF"/><circle cx="1367.2" cy="1461.6" r="5.2" fill="#E8D8FF"/><circle cx="1436.3" cy="1461.6" r="5.0" fill="#F9F4FF"/><circle cx="1505.5" cy="1461.6" r="5.5" fill="#F0E5FF"/><circle cx="952.5" cy="1491.6" r="2.1" fill="#E8D8FF"/><circle cx="1021.6" cy="1491.6" r="4.6" fill="#FFFFFF"/><circle cx="1090.7" cy="1491.6" r="3.0" fill="#E8D8FF"/><circle cx="1159.9" cy="1491.6" r="8.0" fill="#FF0000"/><circle cx="1229" cy="1491.6" r="3.0" fill="#F0E5FF"/><circle cx="1298.1" cy="1491.6" r="2.1" fill="#E8D8FF"/><circle cx="1367.2" cy="1491.6" r="2.1" fill="#E8D8FF"/><circle cx="1436.3" cy="1491.6" r="3.0" fill="#F0E5FF"/><circle cx="1505.5" cy="1491.6" r="1.9" fill="#E8D8FF"/><circle cx="952.5" cy="1510.2" r="7.3" fill="#DFC9FF"/><circle cx="1021.6" cy="1510.2" r="5.9" fill="#D1B4FF"/><circle cx="1090.7" cy="1510.2" r="5.9" fill="#D1B4FF"/><circle cx="1159.9" cy="1510.2" r="8.9" fill="#FF6A49"/><circle cx="1229" cy="1510.2" r="8.2" fill="#F9F4FF"/><circle cx="1298.1" cy="1510.2" r="5.7" fill="#D1B4FF"/><circle cx="1367.2" cy="1510.2" r="6.6" fill="#D1B4FF"/><circle cx="1436.3" cy="1510.2" r="8.2" fill="#FF8160"/><circle cx="1505.5" cy="1510.2" r="8.0" fill="#FFF5F1"/><circle cx="952.5" cy="1528.9" r="7.7" fill="#F9F4FF"/><circle cx="1021.6" cy="1528.9" r="6.4" fill="#E8D8FF"/><circle cx="1090.7" cy="1528.9" r="5.9" fill="#DFC9FF"/><circle cx="1159.9" cy="1528.9" r="8.0" fill="#FF0000"/><circle cx="1229" cy="1528.9" r="6.8" fill="#FFF5F1"/><circle cx="1298.1" cy="1528.9" r="5.2" fill="#D1B4FF"/><circle cx="1367.2" cy="1528.9" r="6.8" fill="#E8D8FF"/><circle cx="1436.3" cy="1528.9" r="6.4" fill="#E8D8FF"/><circle cx="1505.5" cy="1528.9" r="6.8" fill="#F0E5FF"/><circle cx="952.5" cy="1547.5" r="2.1" fill="#E8D8FF"/><circle cx="1021.6" cy="1547.5" r="2.5" fill="#E8D8FF"/><circle cx="1090.7" cy="1547.5" r="4.1" fill="#F0E5FF"/><circle cx="1159.9" cy="1547.5" r="7.3" fill="#FF0000"/><circle cx="1229" cy="1547.5" r="3.7" fill="#F0E5FF"/><circle cx="1298.1" cy="1547.5" r="5.2" fill="#FFD9CB"/><circle cx="1367.2" cy="1547.5" r="2.5" fill="#E8D8FF"/><circle cx="1436.3" cy="1547.5" r="3.0" fill="#DFC9FF"/><circle cx="1505.5" cy="1547.5" r="3.0" fill="#DFC9FF"/><circle cx="952.5" cy="1577.6" r="8.2" fill="#AF87FF"/><circle cx="1021.6" cy="1577.6" r="8.0" fill="#FFD9CB"/><circle cx="1090.7" cy="1577.6" r="8.2" fill="#F0E5FF"/><circle cx="1159.9" cy="1577.6" r="8.0" fill="#FFFFFF"/><circle cx="1229" cy="1577.6" r="8.4" fill="#FF6A49"/><circle cx="1298.1" cy="1577.6" r="6.8" fill="#E8D8FF"/><circle cx="1367.2" cy="1577.6" r="7.1" fill="#A074FF"/><circle cx="1436.3" cy="1577.6" r="7.5" fill="#F9F4FF"/><circle cx="1505.5" cy="1577.6" r="8.0" fill="#FFC2AD"/><circle cx="952.5" cy="1596.2" r="3.0" fill="#F0E5FF"/><circle cx="1021.6" cy="1596.2" r="2.5" fill="#E8D8FF"/><circle cx="1090.7" cy="1596.2" r="2.3" fill="#E8D8FF"/><circle cx="1159.9" cy="1596.2" r="1.9" fill="#E8D8FF"/><circle cx="1229" cy="1596.2" r="6.6" fill="#FF0000"/><circle cx="1298.1" cy="1596.2" r="1.9" fill="#E8D8FF"/><circle cx="1367.2" cy="1596.2" r="1.9" fill="#E8D8FF"/><circle cx="1436.3" cy="1596.2" r="1.9" fill="#E8D8FF"/><circle cx="1505.5" cy="1596.2" r="1.9" fill="#E8D8FF"/><circle cx="952.5" cy="1614.8" r="2.5" fill="#E8D8FF"/><circle cx="1021.6" cy="1614.8" r="3.7" fill="#E8D8FF"/><circle cx="1090.7" cy="1614.8" r="4.8" fill="#F9F4FF"/><circle cx="1159.9" cy="1614.8" r="4.8" fill="#FFFFFF"/><circle cx="1229" cy="1614.8" r="7.1" fill="#FF0000"/><circle cx="1298.1" cy="1614.8" r="3.4" fill="#E8D8FF"/><circle cx="1367.2" cy="1614.8" r="3.7" fill="#E8D8FF"/><circle cx="1436.3" cy="1614.8" r="1.9" fill="#E8D8FF"/><circle cx="1505.5" cy="1614.8" r="1.9" fill="#E8D8FF"/><circle cx="952.5" cy="1644.9" r="2.8" fill="#F0E5FF"/><circle cx="1021.6" cy="1644.9" r="3.0" fill="#F0E5FF"/><circle cx="1090.7" cy="1644.9" r="2.5" fill="#E8D8FF"/><circle cx="1159.9" cy="1644.9" r="3.0" fill="#E8D8FF"/><circle cx="1229" cy="1644.9" r="2.8" fill="#E8D8FF"/><circle cx="1298.1" cy="1644.9" r="5.9" fill="#FF0000"/><circle cx="1367.2" cy="1644.9" r="1.6" fill="#E8D8FF"/><circle cx="1436.3" cy="1644.9" r="3.4" fill="#F9F4FF"/><circle cx="1505.5" cy="1644.9" r="1.9" fill="#E8D8FF"/><circle cx="952.5" cy="1674.9" r="7.1" fill="#F0E5FF"/><circle cx="1021.6" cy="1674.9" r="5.5" fill="#E8D8FF"/><circle cx="1090.7" cy="1674.9" r="5.5" fill="#E8D8FF"/><circle cx="1159.9" cy="1674.9" r="6.4" fill="#E8D8FF"/><circle cx="1229" cy="1674.9" r="6.4" fill="#E8D8FF"/><circle cx="1298.1" cy="1674.9" r="4.8" fill="#E8D8FF"/><circle cx="1367.2" cy="1674.9" r="8.6" fill="#FF0000"/><circle cx="1436.3" cy="1674.9" r="6.2" fill="#E8D8FF"/><circle cx="1505.5" cy="1674.9" r="5.7" fill="#E8D8FF"/><circle cx="952.5" cy="1693.6" r="3.0" fill="#F0E5FF"/><circle cx="1021.6" cy="1693.6" r="3.0" fill="#F0E5FF"/><circle cx="1090.7" cy="1693.6" r="3.2" fill="#F0E5FF"/><circle cx="1159.9" cy="1693.6" r="3.7" fill="#E8D8FF"/><circle cx="1229" cy="1693.6" r="3.0" fill="#E8D8FF"/><circle cx="1298.1" cy="1693.6" r="3.4" fill="#E8D8FF"/><circle cx="1367.2" cy="1693.6" r="8.6" fill="#FF0000"/><circle cx="1436.3" cy="1693.6" r="2.8" fill="#E8D8FF"/><circle cx="1505.5" cy="1693.6" r="4.8" fill="#F0E5FF"/><circle cx="952.5" cy="1712.2" r="2.1" fill="#F0E5FF"/><circle cx="1021.6" cy="1712.2" r="3.0" fill="#F0E5FF"/><circle cx="1090.7" cy="1712.2" r="3.4" fill="#F0E5FF"/><circle cx="1159.9" cy="1712.2" r="5.5" fill="#FFFFFF"/><circle cx="1229" cy="1712.2" r="2.8" fill="#E8D8FF"/><circle cx="1298.1" cy="1712.2" r="3.0" fill="#E8D8FF"/><circle cx="1367.2" cy="1712.2" r="8.2" fill="#FF0000"/><circle cx="1436.3" cy="1712.2" r="2.8" fill="#E8D8FF"/><circle cx="1505.5" cy="1712.2" r="1.9" fill="#E8D8FF"/><circle cx="952.5" cy="1742.2" r="2.8" fill="#E8D8FF"/><circle cx="1021.6" cy="1742.2" r="2.1" fill="#E8D8FF"/><circle cx="1090.7" cy="1742.2" r="2.1" fill="#E8D8FF"/><circle cx="1159.9" cy="1742.2" r="2.8" fill="#E8D8FF"/><circle cx="1229" cy="1742.2" r="5.0" fill="#FFF5F1"/><circle cx="1298.1" cy="1742.2" r="2.3" fill="#E8D8FF"/><circle cx="1367.2" cy="1742.2" r="2.3" fill="#E8D8FF"/><circle cx="1436.3" cy="1742.2" r="8.0" fill="#FF0000"/><circle cx="1505.5" cy="1742.2" r="3.0" fill="#E8D8FF"/><circle cx="952.5" cy="1772.3" r="8.0" fill="#F0E5FF"/><circle cx="1021.6" cy="1772.3" r="6.2" fill="#DFC9FF"/><circle cx="1090.7" cy="1772.3" r="7.5" fill="#F0E5FF"/><circle cx="1159.9" cy="1772.3" r="7.5" fill="#F9F4FF"/><circle cx="1229" cy="1772.3" r="6.6" fill="#E8D8FF"/><circle cx="1298.1" cy="1772.3" r="5.5" fill="#DFC9FF"/><circle cx="1367.2" cy="1772.3" r="6.6" fill="#DFC9FF"/><circle cx="1436.3" cy="1772.3" r="6.8" fill="#F9F4FF"/><circle cx="1505.5" cy="1772.3" r="8.6" fill="#FF0000"/><circle cx="952.5" cy="1790.9" r="5.7" fill="#FFE4DB"/><circle cx="1021.6" cy="1790.9" r="3.0" fill="#DFC9FF"/><circle cx="1090.7" cy="1790.9" r="2.5" fill="#DFC9FF"/><circle cx="1159.9" cy="1790.9" r="3.2" fill="#DFC9FF"/><circle cx="1229" cy="1790.9" r="5.5" fill="#FFF5F1"/><circle cx="1298.1" cy="1790.9" r="3.4" fill="#DFC9FF"/><circle cx="1367.2" cy="1790.9" r="3.0" fill="#DFC9FF"/><circle cx="1436.3" cy="1790.9" r="3.9" fill="#DFC9FF"/><circle cx="1505.5" cy="1790.9" r="8.6" fill="#FF0000"/></g><rect x="743.8" y="1242.50" width="166.2" height="57.02" fill="#d9d9d9" stroke="#000" stroke-width="2"/><text x="905.8" y="1275.6" font-size="19.6" font-weight="bold" text-anchor="end" fill="#1a1a1a">T cells</text><rect x="743.8" y="1309.82" width="166.2" height="75.66" fill="#d9d9d9" stroke="#000" stroke-width="2"/><text x="905.8" y="1352.2" font-size="19.6" font-weight="bold" text-anchor="end" fill="#1a1a1a">Fibroblasts</text><rect x="743.8" y="1395.78" width="166.2" height="75.66" fill="#d9d9d9" stroke="#000" stroke-width="2"/><text x="905.8" y="1438.2" font-size="19.6" font-weight="bold" text-anchor="end" fill="#1a1a1a">Epithelial cells</text><rect x="743.8" y="1481.74" width="166.2" height="75.66" fill="#d9d9d9" stroke="#000" stroke-width="2"/><text x="905.8" y="1524.2" font-size="19.6" font-weight="bold" text-anchor="end" fill="#1a1a1a">Endothelial cells</text><rect x="743.8" y="1567.70" width="166.2" height="57.02" fill="#d9d9d9" stroke="#000" stroke-width="2"/><text x="905.8" y="1600.8" font-size="19.6" font-weight="bold" text-anchor="end" fill="#1a1a1a">Macrophage</text><rect x="743.8" y="1635.02" width="166.2" height="19.74" fill="#d9d9d9" stroke="#000" stroke-width="2"/><text x="905.8" y="1652.1" font-size="19.6" font-weight="bold" text-anchor="end" fill="#1a1a1a">NK cells</text><rect x="743.8" y="1665.06" width="166.2" height="57.02" fill="#d9d9d9" stroke="#000" stroke-width="2"/><text x="905.8" y="1698.2" font-size="19.6" font-weight="bold" text-anchor="end" fill="#1a1a1a">MAST cells</text><rect x="743.8" y="1732.38" width="166.2" height="19.74" fill="#d9d9d9" stroke="#000" stroke-width="2"/><text x="905.8" y="1749.4" font-size="19.6" font-weight="bold" text-anchor="end" fill="#1a1a1a">B cells</text><rect x="743.8" y="1762.42" width="166.2" height="38.38" fill="#d9d9d9" stroke="#000" stroke-width="2"/><text x="905.8" y="1786.2" font-size="19.6" font-weight="bold" text-anchor="end" fill="#1a1a1a">DC</text><path d="M1547.2 1252.37h3.8M1547.2 1271.01h3.8M1547.2 1289.65h3.8M1547.2 1241.50v59.02M1547.2 1319.69h3.8M1547.2 1338.33h3.8M1547.2 1356.97h3.8M1547.2 1375.61h3.8M1547.2 1308.82v77.66M1547.2 1405.65h3.8M1547.2 1424.29h3.8M1547.2 1442.93h3.8M1547.2 1461.57h3.8M1547.2 1394.78v77.66M1547.2 1491.61h3.8M1547.2 1510.25h3.8M1547.2 1528.89h3.8M1547.2 1547.53h3.8M1547.2 1480.74v77.66M1547.2 1577.57h3.8M1547.2 1596.21h3.8M1547.2 1614.85h3.8M1547.2 1566.70v59.02M1547.2 1644.89h3.8M1547.2 1634.02v21.74M1547.2 1674.93h3.8M1547.2 1693.57h3.8M1547.2 1712.21h3.8M1547.2 1664.06v59.02M1547.2 1742.25h3.8M1547.2 1731.38v21.74M1547.2 1772.29h3.8M1547.2 1790.93h3.8M1547.2 1761.42v40.38M910.9 1801.8H1547.2M952.5 1801.8v4M1021.6 1801.8v4M1090.7 1801.8v4M1159.9 1801.8v4M1229 1801.8v4M1298.1 1801.8v4M1367.2 1801.8v4M1436.3 1801.8v4M1505.5 1801.8v4" stroke="#333" stroke-width="1.3" fill="none"/><text x="1555" y="1259.8" font-size="19.3" font-style="italic" fill="#4d4d4d">CD3G</text><text x="1555" y="1278.4" font-size="19.3" font-style="italic" fill="#4d4d4d">CD3E</text><text x="1555" y="1297.0" font-size="19.3" font-style="italic" fill="#4d4d4d">CD3D</text><text x="1555" y="1324.3" font-size="19.3" font-style="italic" fill="#4d4d4d">THY1</text><text x="1555" y="1342.9" font-size="19.3" font-style="italic" fill="#4d4d4d">DCN</text><text x="1555" y="1361.6" font-size="19.3" font-style="italic" fill="#4d4d4d">COL1A2</text><text x="1555" y="1380.2" font-size="19.3" font-style="italic" fill="#4d4d4d">COL1A1</text><text x="1555" y="1410.2" font-size="19.3" font-style="italic" fill="#4d4d4d">KRT19</text><text x="1555" y="1428.9" font-size="19.3" font-style="italic" fill="#4d4d4d">KRT18</text><text x="1555" y="1447.5" font-size="19.3" font-style="italic" fill="#4d4d4d">EPCAM</text><text x="1555" y="1466.2" font-size="19.3" font-style="italic" fill="#4d4d4d">CDH1</text><text x="1555" y="1496.2" font-size="19.3" font-style="italic" fill="#4d4d4d">RAMP2</text><text x="1555" y="1514.9" font-size="19.3" font-style="italic" fill="#4d4d4d">PECAM1</text><text x="1555" y="1533.5" font-size="19.3" font-style="italic" fill="#4d4d4d">FLT1</text><text x="1555" y="1552.1" font-size="19.3" font-style="italic" fill="#4d4d4d">CLDN5</text><text x="1555" y="1582.2" font-size="19.3" font-style="italic" fill="#4d4d4d">LGMN</text><text x="1555" y="1600.8" font-size="19.3" font-style="italic" fill="#4d4d4d">FCGR3A</text><text x="1555" y="1619.5" font-size="19.3" font-style="italic" fill="#4d4d4d">CD14</text><text x="1555" y="1649.5" font-size="19.3" font-style="italic" fill="#4d4d4d">NCAM1</text><text x="1555" y="1679.5" font-size="19.3" font-style="italic" fill="#4d4d4d">MS4A2</text><text x="1555" y="1698.2" font-size="19.3" font-style="italic" fill="#4d4d4d">KIT</text><text x="1555" y="1716.8" font-size="19.3" font-style="italic" fill="#4d4d4d">GATA2</text><text x="1555" y="1746.8" font-size="19.3" font-style="italic" fill="#4d4d4d">CD79A</text><text x="1555" y="1776.9" font-size="19.3" font-style="italic" fill="#4d4d4d">LAMP3</text><text x="1555" y="1795.5" font-size="19.3" font-style="italic" fill="#4d4d4d">CCR7</text><text transform="translate(975.0 1821.6) rotate(-45)" font-size="19.5" text-anchor="end" fill="#4d4d4d">T cells</text><text transform="translate(1054.6 1821.6) rotate(-45)" font-size="19.5" text-anchor="end" fill="#4d4d4d">Fibroblasts</text><text transform="translate(1132.4 1821.6) rotate(-45)" font-size="19.5" text-anchor="end" fill="#4d4d4d">Epithelial cells</text><text transform="translate(1205.0 1821.6) rotate(-45)" font-size="19.5" text-anchor="end" fill="#4d4d4d">Endothelial cells</text><text transform="translate(1265.4 1821.6) rotate(-45)" font-size="19.5" text-anchor="end" fill="#4d4d4d">Macrophage</text><text transform="translate(1324.7 1821.6) rotate(-45)" font-size="19.5" text-anchor="end" fill="#4d4d4d">NK cells</text><text transform="translate(1401.0 1821.6) rotate(-45)" font-size="19.5" text-anchor="end" fill="#4d4d4d">MAST cells</text><text transform="translate(1459.2 1821.6) rotate(-45)" font-size="19.5" text-anchor="end" fill="#4d4d4d">B cells</text><text transform="translate(1520.5 1821.6) rotate(-45)" font-size="19.5" text-anchor="end" fill="#4d4d4d">DC</text><text x="1202.8" y="1938.8" font-size="19.5" text-anchor="start" fill="#000">Celltype</text><text transform="translate(1652 1478.3) rotate(90)" font-size="19.3" textLength="125.5" lengthAdjust="spacingAndGlyphs">Marker_genes</text><text x="1638.6" y="1255.5" font-size="19.3" text-anchor="start" fill="#000">avg.exp.scaled</text><defs><linearGradient id="avgx" x1="0" y1="0" x2="0" y2="1"><stop offset="0.0000" stop-color="#FF0000"/><stop offset="0.0417" stop-color="#FF3118"/><stop offset="0.0833" stop-color="#FF482A"/><stop offset="0.1250" stop-color="#FF5A3A"/><stop offset="0.1667" stop-color="#FF6B49"/><stop offset="0.2083" stop-color="#FF7A59"/><stop offset="0.2500" stop-color="#FF8868"/><stop offset="0.2917" stop-color="#FF9678"/><stop offset="0.3333" stop-color="#FFA388"/><stop offset="0.3750" stop-color="#FFB098"/><stop offset="0.4167" stop-color="#FFBDA8"/><stop offset="0.4583" stop-color="#FFCAB8"/><stop offset="0.5000" stop-color="#FFD7C9"/><stop offset="0.5417" stop-color="#FFE3D9"/><stop offset="0.5833" stop-color="#FFF0EA"/><stop offset="0.6250" stop-color="#FFFCFB"/><stop offset="0.6667" stop-color="#F8F3FF"/><stop offset="0.7083" stop-color="#EFE3FF"/><stop offset="0.7500" stop-color="#E6D4FF"/><stop offset="0.7917" stop-color="#DCC5FF"/><stop offset="0.8333" stop-color="#D2B5FF"/><stop offset="0.8750" stop-color="#C7A6FF"/><stop offset="0.9167" stop-color="#BC97FF"/><stop offset="0.9583" stop-color="#B188FF"/><stop offset="1.0000" stop-color="#A479FF"/></linearGradient></defs><rect x="1684.8" y="1265.3" width="23.1" height="114.1" fill="url(#avgx)"/><text x="1715.6" y="1284.4" font-size="19.3" text-anchor="start" fill="#000">2</text><text x="1715.6" y="1313.3" font-size="19.3" text-anchor="start" fill="#000">1</text><text x="1715.6" y="1342.2" font-size="19.3" text-anchor="start" fill="#000">0</text><text x="1715.6" y="1371.1" font-size="19.3" text-anchor="start" fill="#000">−1</text><path d="M1684.8 1279.8h4.6M1703.3 1279.8h4.6M1684.8 1308.7h4.6M1703.3 1308.7h4.6M1684.8 1337.6h4.6M1703.3 1337.6h4.6M1684.8 1366.5h4.6M1703.3 1366.5h4.6" stroke="#fff" stroke-width="0.9" fill="none"/><text x="1685" y="1420.3" font-size="19.3" text-anchor="start" fill="#000">pct.exp</text><rect x="1684.8" y="1429.6" width="23.1" height="91.5" fill="#f2f2f2"/><circle cx="1696.2" cy="1440.9" r="2.0" fill="#f2f2f2" stroke="#000" stroke-width="0.8"/><text x="1715.6" y="1446.3" font-size="19.3" text-anchor="start" fill="#000">0</text><circle cx="1696.2" cy="1463.9" r="5.3" fill="#f2f2f2" stroke="#000" stroke-width="0.8"/><text x="1715.6" y="1469.3" font-size="19.3" text-anchor="start" fill="#000">25</text><circle cx="1696.2" cy="1486.8" r="7.0" fill="#f2f2f2" stroke="#000" stroke-width="0.8"/><text x="1715.6" y="1492.2" font-size="19.3" text-anchor="start" fill="#000">50</text><circle cx="1696.2" cy="1509.8" r="8.3" fill="#f2f2f2" stroke="#000" stroke-width="0.8"/><text x="1715.6" y="1515.2" font-size="19.3" text-anchor="start" fill="#000">75</text></g>
<text transform="translate(3.5 38.8) scale(1 1.04)" font-size="49">A</text><text transform="translate(883 38.8) scale(1 1.04)" font-size="49">B</text><text transform="translate(3.2 801.4) scale(1 1.04)" font-size="49">C</text><text transform="translate(883 650) scale(1 1.04)" font-size="49">D</text><text transform="translate(5 1530) scale(1 1.04)" font-size="49">E</text><text transform="translate(734.7 1228.9) scale(1 1.04)" font-size="49">F</text>
</svg>
</body></html>
